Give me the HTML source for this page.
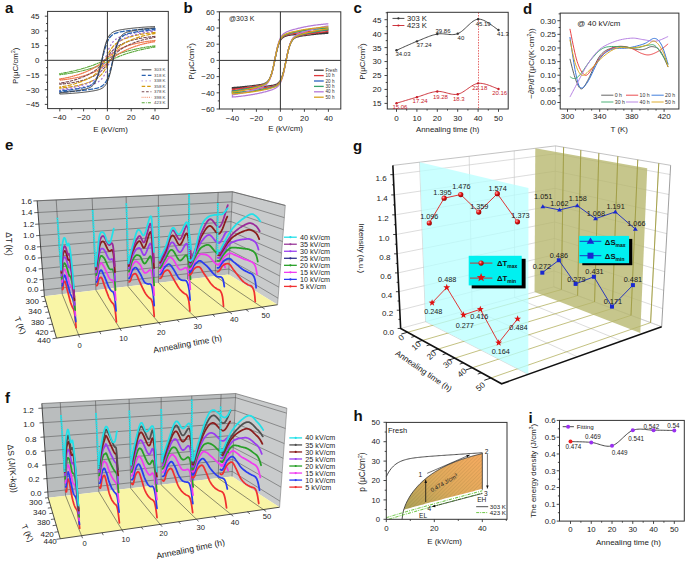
<!DOCTYPE html>
<html><head><meta charset="utf-8"><title>figure</title>
<style>html,body{margin:0;padding:0;background:#fff;width:685px;height:561px;overflow:hidden}
svg{display:block;font-family:"Liberation Sans", sans-serif}</style></head>
<body><svg width="685" height="561" viewBox="0 0 685 561">
<rect width="685" height="561" fill="#fff"/>
<text x="5" y="13" font-size="15" text-anchor="start" fill="#111" font-weight="bold">a</text>
<clipPath id="clipa"><rect x="47.6" y="11.4" width="120.70000000000002" height="97.19999999999999"/></clipPath>
<g clip-path="url(#clipa)">
<path d="M155 45.86 L154.21 45.96 L153.41 46.06 L152.62 46.16 L151.83 46.27 L151.03 46.37 L150.24 46.48 L149.45 46.6 L148.65 46.71 L147.86 46.83 L147.07 46.96 L146.27 47.08 L145.48 47.21 L144.69 47.34 L143.89 47.48 L143.1 47.62 L142.31 47.76 L141.51 47.9 L140.72 48.05 L139.93 48.2 L139.13 48.36 L138.34 48.52 L137.55 48.68 L136.75 48.85 L135.96 49.02 L135.17 49.19 L134.37 49.37 L133.58 49.55 L132.79 49.74 L131.99 49.93 L131.2 50.13 L130.41 50.33 L129.61 50.53 L128.82 50.74 L128.03 50.95 L127.23 51.17 L126.44 51.39 L125.65 51.62 L124.85 51.86 L124.06 52.1 L123.27 52.35 L122.47 52.6 L121.68 52.86 L120.89 53.13 L120.09 53.4 L119.3 53.68 L118.51 53.97 L117.71 54.27 L116.92 54.58 L116.13 54.89 L115.33 55.22 L114.54 55.55 L113.75 55.89 L112.95 56.24 L112.16 56.6 L111.37 56.96 L110.57 57.34 L109.78 57.71 L108.99 58.1 L108.19 58.48 L107.4 58.87 L106.61 59.26 L105.81 59.65 L105.02 60.04 L104.23 60.43 L103.43 60.81 L102.64 61.19 L101.85 61.56 L101.05 61.93 L100.26 62.29 L99.47 62.64 L98.67 62.99 L97.88 63.32 L97.09 63.65 L96.29 63.98 L95.5 64.29 L94.71 64.6 L93.91 64.9 L93.12 65.2 L92.33 65.49 L91.53 65.77 L90.74 66.05 L89.95 66.32 L89.15 66.58 L88.36 66.84 L87.57 67.1 L86.77 67.35 L85.98 67.6 L85.19 67.84 L84.39 68.08 L83.6 68.31 L82.81 68.54 L82.01 68.76 L81.22 68.99 L80.43 69.2 L79.63 69.42 L78.84 69.63 L78.05 69.83 L77.25 70.03 L76.46 70.23 L75.67 70.43 L74.87 70.62 L74.08 70.8 L73.29 70.99 L72.49 71.17 L71.7 71.34 L70.91 71.52 L70.11 71.69 L69.32 71.85 L68.53 72.02 L67.73 72.17 L66.94 72.33 L66.15 72.48 L65.35 72.63 L64.56 72.78 L63.77 72.92 L62.97 73.06 L62.18 73.2 L61.39 73.33 L60.59 73.46 L59.8 73.58 L59.8 74.74 L60.59 74.64 L61.39 74.54 L62.18 74.44 L62.97 74.33 L63.77 74.23 L64.56 74.12 L65.35 74 L66.15 73.89 L66.94 73.77 L67.73 73.64 L68.53 73.52 L69.32 73.39 L70.11 73.26 L70.91 73.12 L71.7 72.98 L72.49 72.84 L73.29 72.7 L74.08 72.55 L74.87 72.4 L75.67 72.24 L76.46 72.08 L77.25 71.92 L78.05 71.75 L78.84 71.58 L79.63 71.41 L80.43 71.23 L81.22 71.05 L82.01 70.86 L82.81 70.67 L83.6 70.47 L84.39 70.27 L85.19 70.07 L85.98 69.86 L86.77 69.65 L87.57 69.43 L88.36 69.21 L89.15 68.98 L89.95 68.74 L90.74 68.5 L91.53 68.25 L92.33 68 L93.12 67.74 L93.91 67.47 L94.71 67.2 L95.5 66.92 L96.29 66.63 L97.09 66.33 L97.88 66.02 L98.67 65.71 L99.47 65.38 L100.26 65.05 L101.05 64.71 L101.85 64.36 L102.64 64 L103.43 63.64 L104.23 63.26 L105.02 62.89 L105.81 62.5 L106.61 62.12 L107.4 61.73 L108.19 61.34 L108.99 60.95 L109.78 60.56 L110.57 60.17 L111.37 59.79 L112.16 59.41 L112.95 59.04 L113.75 58.67 L114.54 58.31 L115.33 57.96 L116.13 57.61 L116.92 57.28 L117.71 56.95 L118.51 56.62 L119.3 56.31 L120.09 56 L120.89 55.7 L121.68 55.4 L122.47 55.11 L123.27 54.83 L124.06 54.55 L124.85 54.28 L125.65 54.02 L126.44 53.76 L127.23 53.5 L128.03 53.25 L128.82 53 L129.61 52.76 L130.41 52.52 L131.2 52.29 L131.99 52.06 L132.79 51.84 L133.58 51.61 L134.37 51.4 L135.17 51.18 L135.96 50.97 L136.75 50.77 L137.55 50.57 L138.34 50.37 L139.13 50.17 L139.93 49.98 L140.72 49.8 L141.51 49.61 L142.31 49.43 L143.1 49.26 L143.89 49.08 L144.69 48.91 L145.48 48.75 L146.27 48.58 L147.07 48.43 L147.86 48.27 L148.65 48.12 L149.45 47.97 L150.24 47.82 L151.03 47.68 L151.83 47.54 L152.62 47.4 L153.41 47.27 L154.21 47.14 L155 47.02" fill="none" stroke="#58a838" stroke-width="1.1" stroke-dasharray="3,1.2,0.8,1.2" stroke-linecap="round"/>
<path d="M155 40.52 L154.21 40.6 L153.41 40.68 L152.62 40.76 L151.83 40.85 L151.03 40.94 L150.24 41.03 L149.45 41.13 L148.65 41.23 L147.86 41.34 L147.07 41.45 L146.27 41.56 L145.48 41.68 L144.69 41.8 L143.89 41.93 L143.1 42.06 L142.31 42.19 L141.51 42.34 L140.72 42.48 L139.93 42.63 L139.13 42.79 L138.34 42.96 L137.55 43.13 L136.75 43.3 L135.96 43.48 L135.17 43.67 L134.37 43.86 L133.58 44.07 L132.79 44.27 L131.99 44.49 L131.2 44.71 L130.41 44.94 L129.61 45.18 L128.82 45.43 L128.03 45.69 L127.23 45.95 L126.44 46.22 L125.65 46.51 L124.85 46.8 L124.06 47.11 L123.27 47.43 L122.47 47.76 L121.68 48.1 L120.89 48.46 L120.09 48.84 L119.3 49.23 L118.51 49.64 L117.71 50.06 L116.92 50.51 L116.13 50.99 L115.33 51.48 L114.54 52 L113.75 52.54 L112.95 53.11 L112.16 53.71 L111.37 54.33 L110.57 54.97 L109.78 55.63 L108.99 56.31 L108.19 57.01 L107.4 57.72 L106.61 58.43 L105.81 59.14 L105.02 59.85 L104.23 60.55 L103.43 61.24 L102.64 61.91 L101.85 62.57 L101.05 63.2 L100.26 63.81 L99.47 64.4 L98.67 64.97 L97.88 65.52 L97.09 66.04 L96.29 66.55 L95.5 67.03 L94.71 67.5 L93.91 67.96 L93.12 68.4 L92.33 68.82 L91.53 69.23 L90.74 69.63 L89.95 70.02 L89.15 70.4 L88.36 70.76 L87.57 71.12 L86.77 71.47 L85.98 71.8 L85.19 72.13 L84.39 72.46 L83.6 72.77 L82.81 73.07 L82.01 73.37 L81.22 73.66 L80.43 73.94 L79.63 74.21 L78.84 74.48 L78.05 74.74 L77.25 74.99 L76.46 75.23 L75.67 75.47 L74.87 75.7 L74.08 75.93 L73.29 76.14 L72.49 76.35 L71.7 76.56 L70.91 76.76 L70.11 76.95 L69.32 77.13 L68.53 77.31 L67.73 77.48 L66.94 77.65 L66.15 77.81 L65.35 77.97 L64.56 78.12 L63.77 78.27 L62.97 78.41 L62.18 78.55 L61.39 78.68 L60.59 78.8 L59.8 78.93 L59.8 80.08 L60.59 80 L61.39 79.92 L62.18 79.84 L62.97 79.75 L63.77 79.66 L64.56 79.57 L65.35 79.47 L66.15 79.37 L66.94 79.26 L67.73 79.15 L68.53 79.04 L69.32 78.92 L70.11 78.8 L70.91 78.67 L71.7 78.54 L72.49 78.41 L73.29 78.26 L74.08 78.12 L74.87 77.97 L75.67 77.81 L76.46 77.64 L77.25 77.47 L78.05 77.3 L78.84 77.12 L79.63 76.93 L80.43 76.74 L81.22 76.53 L82.01 76.33 L82.81 76.11 L83.6 75.89 L84.39 75.66 L85.19 75.42 L85.98 75.17 L86.77 74.91 L87.57 74.65 L88.36 74.38 L89.15 74.09 L89.95 73.8 L90.74 73.49 L91.53 73.17 L92.33 72.84 L93.12 72.5 L93.91 72.14 L94.71 71.76 L95.5 71.37 L96.29 70.96 L97.09 70.54 L97.88 70.09 L98.67 69.61 L99.47 69.12 L100.26 68.6 L101.05 68.06 L101.85 67.49 L102.64 66.89 L103.43 66.27 L104.23 65.63 L105.02 64.97 L105.81 64.29 L106.61 63.59 L107.4 62.88 L108.19 62.17 L108.99 61.46 L109.78 60.75 L110.57 60.05 L111.37 59.36 L112.16 58.69 L112.95 58.03 L113.75 57.4 L114.54 56.79 L115.33 56.2 L116.13 55.63 L116.92 55.08 L117.71 54.56 L118.51 54.05 L119.3 53.57 L120.09 53.1 L120.89 52.64 L121.68 52.2 L122.47 51.78 L123.27 51.37 L124.06 50.97 L124.85 50.58 L125.65 50.2 L126.44 49.84 L127.23 49.48 L128.03 49.13 L128.82 48.8 L129.61 48.47 L130.41 48.14 L131.2 47.83 L131.99 47.53 L132.79 47.23 L133.58 46.94 L134.37 46.66 L135.17 46.39 L135.96 46.12 L136.75 45.86 L137.55 45.61 L138.34 45.37 L139.13 45.13 L139.93 44.9 L140.72 44.67 L141.51 44.46 L142.31 44.25 L143.1 44.04 L143.89 43.84 L144.69 43.65 L145.48 43.47 L146.27 43.29 L147.07 43.12 L147.86 42.95 L148.65 42.79 L149.45 42.63 L150.24 42.48 L151.03 42.33 L151.83 42.19 L152.62 42.05 L153.41 41.92 L154.21 41.8 L155 41.67" fill="none" stroke="#f07a50" stroke-width="1.3" stroke-dasharray="0.7,1.2" stroke-linecap="round"/>
<path d="M155 36.36 L154.21 36.43 L153.41 36.51 L152.62 36.59 L151.83 36.67 L151.03 36.75 L150.24 36.84 L149.45 36.94 L148.65 37.03 L147.86 37.13 L147.07 37.24 L146.27 37.35 L145.48 37.47 L144.69 37.58 L143.89 37.71 L143.1 37.84 L142.31 37.97 L141.51 38.12 L140.72 38.26 L139.93 38.41 L139.13 38.57 L138.34 38.74 L137.55 38.91 L136.75 39.09 L135.96 39.27 L135.17 39.46 L134.37 39.66 L133.58 39.87 L132.79 40.08 L131.99 40.31 L131.2 40.54 L130.41 40.78 L129.61 41.03 L128.82 41.29 L128.03 41.56 L127.23 41.84 L126.44 42.13 L125.65 42.44 L124.85 42.75 L124.06 43.08 L123.27 43.43 L122.47 43.79 L121.68 44.17 L120.89 44.57 L120.09 44.99 L119.3 45.43 L118.51 45.91 L117.71 46.41 L116.92 46.94 L116.13 47.51 L115.33 48.12 L114.54 48.78 L113.75 49.48 L112.95 50.23 L112.16 51.04 L111.37 51.89 L110.57 52.8 L109.78 53.76 L108.99 54.77 L108.19 55.81 L107.4 56.88 L106.61 57.96 L105.81 59.05 L105.02 60.14 L104.23 61.2 L103.43 62.24 L102.64 63.23 L101.85 64.19 L101.05 65.1 L100.26 65.96 L99.47 66.77 L98.67 67.53 L97.88 68.25 L97.09 68.92 L96.29 69.56 L95.5 70.17 L94.71 70.74 L93.91 71.28 L93.12 71.8 L92.33 72.3 L91.53 72.77 L90.74 73.23 L89.95 73.67 L89.15 74.1 L88.36 74.51 L87.57 74.91 L86.77 75.29 L85.98 75.66 L85.19 76.03 L84.39 76.38 L83.6 76.72 L82.81 77.05 L82.01 77.37 L81.22 77.68 L80.43 77.98 L79.63 78.28 L78.84 78.56 L78.05 78.84 L77.25 79.11 L76.46 79.36 L75.67 79.61 L74.87 79.86 L74.08 80.09 L73.29 80.32 L72.49 80.54 L71.7 80.75 L70.91 80.95 L70.11 81.15 L69.32 81.34 L68.53 81.52 L67.73 81.7 L66.94 81.87 L66.15 82.03 L65.35 82.19 L64.56 82.34 L63.77 82.49 L62.97 82.63 L62.18 82.76 L61.39 82.89 L60.59 83.02 L59.8 83.14 L59.8 84.24 L60.59 84.17 L61.39 84.09 L62.18 84.01 L62.97 83.93 L63.77 83.85 L64.56 83.76 L65.35 83.66 L66.15 83.57 L66.94 83.47 L67.73 83.36 L68.53 83.25 L69.32 83.13 L70.11 83.02 L70.91 82.89 L71.7 82.76 L72.49 82.63 L73.29 82.48 L74.08 82.34 L74.87 82.19 L75.67 82.03 L76.46 81.86 L77.25 81.69 L78.05 81.51 L78.84 81.33 L79.63 81.14 L80.43 80.94 L81.22 80.73 L82.01 80.52 L82.81 80.29 L83.6 80.06 L84.39 79.82 L85.19 79.57 L85.98 79.31 L86.77 79.04 L87.57 78.76 L88.36 78.47 L89.15 78.16 L89.95 77.85 L90.74 77.52 L91.53 77.17 L92.33 76.81 L93.12 76.43 L93.91 76.03 L94.71 75.61 L95.5 75.17 L96.29 74.69 L97.09 74.19 L97.88 73.66 L98.67 73.09 L99.47 72.48 L100.26 71.82 L101.05 71.12 L101.85 70.37 L102.64 69.56 L103.43 68.71 L104.23 67.8 L105.02 66.84 L105.81 65.83 L106.61 64.79 L107.4 63.72 L108.19 62.64 L108.99 61.55 L109.78 60.46 L110.57 59.4 L111.37 58.36 L112.16 57.37 L112.95 56.41 L113.75 55.5 L114.54 54.64 L115.33 53.83 L116.13 53.07 L116.92 52.35 L117.71 51.68 L118.51 51.04 L119.3 50.43 L120.09 49.86 L120.89 49.32 L121.68 48.8 L122.47 48.3 L123.27 47.83 L124.06 47.37 L124.85 46.93 L125.65 46.5 L126.44 46.09 L127.23 45.69 L128.03 45.31 L128.82 44.94 L129.61 44.57 L130.41 44.22 L131.2 43.88 L131.99 43.55 L132.79 43.23 L133.58 42.92 L134.37 42.62 L135.17 42.32 L135.96 42.04 L136.75 41.76 L137.55 41.49 L138.34 41.24 L139.13 40.99 L139.93 40.74 L140.72 40.51 L141.51 40.28 L142.31 40.06 L143.1 39.85 L143.89 39.65 L144.69 39.45 L145.48 39.26 L146.27 39.08 L147.07 38.9 L147.86 38.73 L148.65 38.57 L149.45 38.41 L150.24 38.26 L151.03 38.11 L151.83 37.97 L152.62 37.84 L153.41 37.71 L154.21 37.58 L155 37.46" fill="none" stroke="#7a4a50" stroke-width="1.1" stroke-dasharray="2.6,1.8" stroke-linecap="round"/>
<path d="M155 32.44 L154.21 32.51 L153.41 32.59 L152.62 32.67 L151.83 32.75 L151.03 32.83 L150.24 32.92 L149.45 33.02 L148.65 33.11 L147.86 33.21 L147.07 33.32 L146.27 33.43 L145.48 33.54 L144.69 33.66 L143.89 33.79 L143.1 33.92 L142.31 34.05 L141.51 34.19 L140.72 34.34 L139.93 34.49 L139.13 34.65 L138.34 34.81 L137.55 34.98 L136.75 35.16 L135.96 35.34 L135.17 35.53 L134.37 35.73 L133.58 35.94 L132.79 36.15 L131.99 36.37 L131.2 36.6 L130.41 36.84 L129.61 37.09 L128.82 37.34 L128.03 37.61 L127.23 37.88 L126.44 38.17 L125.65 38.47 L124.85 38.78 L124.06 39.1 L123.27 39.44 L122.47 39.79 L121.68 40.17 L120.89 40.56 L120.09 40.98 L119.3 41.42 L118.51 41.89 L117.71 42.4 L116.92 42.95 L116.13 43.55 L115.33 44.21 L114.54 44.93 L113.75 45.73 L112.95 46.61 L112.16 47.58 L111.37 48.65 L110.57 49.83 L109.78 51.11 L108.99 52.5 L108.19 53.98 L107.4 55.53 L106.61 57.14 L105.81 58.77 L105.02 60.4 L104.23 62 L103.43 63.54 L102.64 64.99 L101.85 66.36 L101.05 67.62 L100.26 68.79 L99.47 69.85 L98.67 70.82 L97.88 71.7 L97.09 72.5 L96.29 73.24 L95.5 73.92 L94.71 74.55 L93.91 75.14 L93.12 75.69 L92.33 76.2 L91.53 76.7 L90.74 77.16 L89.95 77.61 L89.15 78.04 L88.36 78.45 L87.57 78.85 L86.77 79.23 L85.98 79.61 L85.19 79.97 L84.39 80.32 L83.6 80.65 L82.81 80.98 L82.01 81.3 L81.22 81.61 L80.43 81.91 L79.63 82.21 L78.84 82.49 L78.05 82.76 L77.25 83.03 L76.46 83.29 L75.67 83.54 L74.87 83.78 L74.08 84.01 L73.29 84.24 L72.49 84.46 L71.7 84.67 L70.91 84.87 L70.11 85.07 L69.32 85.26 L68.53 85.44 L67.73 85.62 L66.94 85.79 L66.15 85.95 L65.35 86.11 L64.56 86.26 L63.77 86.41 L62.97 86.55 L62.18 86.68 L61.39 86.81 L60.59 86.94 L59.8 87.06 L59.8 88.16 L60.59 88.09 L61.39 88.01 L62.18 87.93 L62.97 87.85 L63.77 87.77 L64.56 87.68 L65.35 87.58 L66.15 87.49 L66.94 87.39 L67.73 87.28 L68.53 87.17 L69.32 87.06 L70.11 86.94 L70.91 86.81 L71.7 86.68 L72.49 86.55 L73.29 86.41 L74.08 86.26 L74.87 86.11 L75.67 85.95 L76.46 85.79 L77.25 85.62 L78.05 85.44 L78.84 85.26 L79.63 85.07 L80.43 84.87 L81.22 84.66 L82.01 84.45 L82.81 84.23 L83.6 84 L84.39 83.76 L85.19 83.51 L85.98 83.26 L86.77 82.99 L87.57 82.72 L88.36 82.43 L89.15 82.13 L89.95 81.82 L90.74 81.5 L91.53 81.16 L92.33 80.81 L93.12 80.43 L93.91 80.04 L94.71 79.62 L95.5 79.18 L96.29 78.71 L97.09 78.2 L97.88 77.65 L98.67 77.05 L99.47 76.39 L100.26 75.67 L101.05 74.87 L101.85 73.99 L102.64 73.02 L103.43 71.95 L104.23 70.77 L105.02 69.49 L105.81 68.1 L106.61 66.62 L107.4 65.07 L108.19 63.46 L108.99 61.83 L109.78 60.2 L110.57 58.6 L111.37 57.06 L112.16 55.61 L112.95 54.24 L113.75 52.98 L114.54 51.81 L115.33 50.75 L116.13 49.78 L116.92 48.9 L117.71 48.1 L118.51 47.36 L119.3 46.68 L120.09 46.05 L120.89 45.46 L121.68 44.91 L122.47 44.4 L123.27 43.9 L124.06 43.44 L124.85 42.99 L125.65 42.56 L126.44 42.15 L127.23 41.75 L128.03 41.37 L128.82 40.99 L129.61 40.63 L130.41 40.28 L131.2 39.95 L131.99 39.62 L132.79 39.3 L133.58 38.99 L134.37 38.69 L135.17 38.39 L135.96 38.11 L136.75 37.84 L137.55 37.57 L138.34 37.31 L139.13 37.06 L139.93 36.82 L140.72 36.59 L141.51 36.36 L142.31 36.14 L143.1 35.93 L143.89 35.73 L144.69 35.53 L145.48 35.34 L146.27 35.16 L147.07 34.98 L147.86 34.81 L148.65 34.65 L149.45 34.49 L150.24 34.34 L151.03 34.19 L151.83 34.05 L152.62 33.92 L153.41 33.79 L154.21 33.66 L155 33.54" fill="none" stroke="#d49a10" stroke-width="1.2" stroke-dasharray="3.5,2.0" stroke-linecap="round"/>
<path d="M155 30.37 L154.21 30.43 L153.41 30.5 L152.62 30.56 L151.83 30.63 L151.03 30.7 L150.24 30.78 L149.45 30.86 L148.65 30.94 L147.86 31.02 L147.07 31.11 L146.27 31.2 L145.48 31.29 L144.69 31.39 L143.89 31.49 L143.1 31.6 L142.31 31.71 L141.51 31.82 L140.72 31.93 L139.93 32.06 L139.13 32.18 L138.34 32.31 L137.55 32.44 L136.75 32.58 L135.96 32.73 L135.17 32.87 L134.37 33.03 L133.58 33.18 L132.79 33.35 L131.99 33.52 L131.2 33.69 L130.41 33.87 L129.61 34.06 L128.82 34.25 L128.03 34.45 L127.23 34.65 L126.44 34.87 L125.65 35.09 L124.85 35.32 L124.06 35.56 L123.27 35.81 L122.47 36.08 L121.68 36.36 L120.89 36.65 L120.09 36.97 L119.3 37.32 L118.51 37.69 L117.71 38.1 L116.92 38.55 L116.13 39.06 L115.33 39.63 L114.54 40.28 L113.75 41.03 L112.95 41.88 L112.16 42.88 L111.37 44.02 L110.57 45.34 L109.78 46.85 L108.99 48.56 L108.19 50.47 L107.4 52.56 L106.61 54.81 L105.81 57.18 L105.02 59.61 L104.23 62.05 L103.43 64.42 L102.64 66.67 L101.85 68.77 L101.05 70.69 L100.26 72.4 L99.47 73.92 L98.67 75.25 L97.88 76.41 L97.09 77.41 L96.29 78.28 L95.5 79.04 L94.71 79.71 L93.91 80.3 L93.12 80.82 L92.33 81.29 L91.53 81.72 L90.74 82.11 L89.95 82.47 L89.15 82.81 L88.36 83.13 L87.57 83.43 L86.77 83.72 L85.98 83.99 L85.19 84.26 L84.39 84.51 L83.6 84.76 L82.81 84.99 L82.01 85.22 L81.22 85.45 L80.43 85.66 L79.63 85.87 L78.84 86.07 L78.05 86.27 L77.25 86.46 L76.46 86.65 L75.67 86.83 L74.87 87 L74.08 87.17 L73.29 87.34 L72.49 87.5 L71.7 87.65 L70.91 87.8 L70.11 87.95 L69.32 88.09 L68.53 88.23 L67.73 88.36 L66.94 88.48 L66.15 88.61 L65.35 88.72 L64.56 88.84 L63.77 88.95 L62.97 89.06 L62.18 89.16 L61.39 89.26 L60.59 89.35 L59.8 89.45 L59.8 90.23 L60.59 90.17 L61.39 90.1 L62.18 90.04 L62.97 89.97 L63.77 89.9 L64.56 89.82 L65.35 89.74 L66.15 89.66 L66.94 89.58 L67.73 89.49 L68.53 89.4 L69.32 89.31 L70.11 89.21 L70.91 89.11 L71.7 89 L72.49 88.89 L73.29 88.78 L74.08 88.67 L74.87 88.54 L75.67 88.42 L76.46 88.29 L77.25 88.16 L78.05 88.02 L78.84 87.87 L79.63 87.73 L80.43 87.57 L81.22 87.42 L82.01 87.25 L82.81 87.08 L83.6 86.91 L84.39 86.73 L85.19 86.54 L85.98 86.35 L86.77 86.15 L87.57 85.95 L88.36 85.73 L89.15 85.51 L89.95 85.28 L90.74 85.04 L91.53 84.79 L92.33 84.52 L93.12 84.24 L93.91 83.95 L94.71 83.63 L95.5 83.28 L96.29 82.91 L97.09 82.5 L97.88 82.05 L98.67 81.54 L99.47 80.97 L100.26 80.32 L101.05 79.57 L101.85 78.72 L102.64 77.72 L103.43 76.58 L104.23 75.26 L105.02 73.75 L105.81 72.04 L106.61 70.13 L107.4 68.04 L108.19 65.79 L108.99 63.42 L109.78 60.99 L110.57 58.55 L111.37 56.18 L112.16 53.93 L112.95 51.83 L113.75 49.91 L114.54 48.2 L115.33 46.68 L116.13 45.35 L116.92 44.19 L117.71 43.19 L118.51 42.32 L119.3 41.56 L120.09 40.89 L120.89 40.3 L121.68 39.78 L122.47 39.31 L123.27 38.88 L124.06 38.49 L124.85 38.13 L125.65 37.79 L126.44 37.47 L127.23 37.17 L128.03 36.88 L128.82 36.61 L129.61 36.34 L130.41 36.09 L131.2 35.84 L131.99 35.61 L132.79 35.38 L133.58 35.15 L134.37 34.94 L135.17 34.73 L135.96 34.53 L136.75 34.33 L137.55 34.14 L138.34 33.95 L139.13 33.77 L139.93 33.6 L140.72 33.43 L141.51 33.26 L142.31 33.1 L143.1 32.95 L143.89 32.8 L144.69 32.65 L145.48 32.51 L146.27 32.37 L147.07 32.24 L147.86 32.12 L148.65 31.99 L149.45 31.88 L150.24 31.76 L151.03 31.65 L151.83 31.54 L152.62 31.44 L153.41 31.34 L154.21 31.25 L155 31.15" fill="none" stroke="#9d6fd0" stroke-width="1.3" stroke-dasharray="0.8,3.2" stroke-linecap="round"/>
<path d="M155 28.46 L154.21 28.49 L153.41 28.53 L152.62 28.57 L151.83 28.61 L151.03 28.66 L150.24 28.7 L149.45 28.75 L148.65 28.79 L147.86 28.84 L147.07 28.89 L146.27 28.94 L145.48 29 L144.69 29.05 L143.89 29.11 L143.1 29.17 L142.31 29.23 L141.51 29.29 L140.72 29.36 L139.93 29.42 L139.13 29.49 L138.34 29.56 L137.55 29.63 L136.75 29.71 L135.96 29.79 L135.17 29.87 L134.37 29.95 L133.58 30.03 L132.79 30.12 L131.99 30.21 L131.2 30.3 L130.41 30.39 L129.61 30.49 L128.82 30.59 L128.03 30.69 L127.23 30.8 L126.44 30.91 L125.65 31.02 L124.85 31.14 L124.06 31.26 L123.27 31.39 L122.47 31.52 L121.68 31.66 L120.89 31.81 L120.09 31.97 L119.3 32.14 L118.51 32.33 L117.71 32.53 L116.92 32.76 L116.13 33.01 L115.33 33.31 L114.54 33.64 L113.75 34.04 L112.95 34.5 L112.16 35.06 L111.37 35.72 L110.57 36.53 L109.78 37.5 L108.99 38.66 L108.19 40.06 L107.4 41.73 L106.61 43.68 L105.81 45.95 L105.02 48.52 L104.23 51.37 L103.43 54.45 L102.64 57.69 L101.85 60.98 L101.05 64.24 L100.26 67.36 L99.47 70.27 L98.67 72.9 L97.88 75.23 L97.09 77.25 L96.29 78.98 L95.5 80.44 L94.71 81.66 L93.91 82.67 L93.12 83.52 L92.33 84.22 L91.53 84.81 L90.74 85.3 L89.95 85.72 L89.15 86.08 L88.36 86.4 L87.57 86.67 L86.77 86.92 L85.98 87.14 L85.19 87.35 L84.39 87.54 L83.6 87.72 L82.81 87.89 L82.01 88.04 L81.22 88.2 L80.43 88.34 L79.63 88.49 L78.84 88.62 L78.05 88.76 L77.25 88.89 L76.46 89.01 L75.67 89.13 L74.87 89.25 L74.08 89.37 L73.29 89.49 L72.49 89.6 L71.7 89.71 L70.91 89.81 L70.11 89.91 L69.32 90.02 L68.53 90.11 L67.73 90.21 L66.94 90.3 L66.15 90.39 L65.35 90.48 L64.56 90.57 L63.77 90.65 L62.97 90.73 L62.18 90.81 L61.39 90.89 L60.59 90.97 L59.8 91.04 L59.8 92.14 L60.59 92.11 L61.39 92.07 L62.18 92.03 L62.97 91.99 L63.77 91.94 L64.56 91.9 L65.35 91.85 L66.15 91.81 L66.94 91.76 L67.73 91.71 L68.53 91.66 L69.32 91.6 L70.11 91.55 L70.91 91.49 L71.7 91.43 L72.49 91.37 L73.29 91.31 L74.08 91.24 L74.87 91.18 L75.67 91.11 L76.46 91.04 L77.25 90.97 L78.05 90.89 L78.84 90.81 L79.63 90.73 L80.43 90.65 L81.22 90.57 L82.01 90.48 L82.81 90.39 L83.6 90.3 L84.39 90.21 L85.19 90.11 L85.98 90.01 L86.77 89.91 L87.57 89.8 L88.36 89.69 L89.15 89.58 L89.95 89.46 L90.74 89.34 L91.53 89.21 L92.33 89.08 L93.12 88.94 L93.91 88.79 L94.71 88.63 L95.5 88.46 L96.29 88.27 L97.09 88.07 L97.88 87.84 L98.67 87.59 L99.47 87.29 L100.26 86.96 L101.05 86.56 L101.85 86.1 L102.64 85.54 L103.43 84.88 L104.23 84.07 L105.02 83.1 L105.81 81.94 L106.61 80.54 L107.4 78.87 L108.19 76.92 L108.99 74.65 L109.78 72.08 L110.57 69.23 L111.37 66.15 L112.16 62.91 L112.95 59.62 L113.75 56.36 L114.54 53.24 L115.33 50.33 L116.13 47.7 L116.92 45.37 L117.71 43.35 L118.51 41.62 L119.3 40.16 L120.09 38.94 L120.89 37.93 L121.68 37.08 L122.47 36.38 L123.27 35.79 L124.06 35.3 L124.85 34.88 L125.65 34.52 L126.44 34.2 L127.23 33.93 L128.03 33.68 L128.82 33.46 L129.61 33.25 L130.41 33.06 L131.2 32.88 L131.99 32.71 L132.79 32.56 L133.58 32.4 L134.37 32.26 L135.17 32.11 L135.96 31.98 L136.75 31.84 L137.55 31.71 L138.34 31.59 L139.13 31.47 L139.93 31.35 L140.72 31.23 L141.51 31.11 L142.31 31 L143.1 30.89 L143.89 30.79 L144.69 30.69 L145.48 30.58 L146.27 30.49 L147.07 30.39 L147.86 30.3 L148.65 30.21 L149.45 30.12 L150.24 30.03 L151.03 29.95 L151.83 29.87 L152.62 29.79 L153.41 29.71 L154.21 29.63 L155 29.56" fill="none" stroke="#2a62b0" stroke-width="1.3" stroke-dasharray="4,2.2" stroke-linecap="round"/>
<path d="M155 26.54 L154.21 26.58 L153.41 26.62 L152.62 26.66 L151.83 26.7 L151.03 26.74 L150.24 26.78 L149.45 26.83 L148.65 26.87 L147.86 26.92 L147.07 26.97 L146.27 27.02 L145.48 27.07 L144.69 27.13 L143.89 27.18 L143.1 27.24 L142.31 27.3 L141.51 27.36 L140.72 27.43 L139.93 27.49 L139.13 27.56 L138.34 27.63 L137.55 27.7 L136.75 27.78 L135.96 27.85 L135.17 27.93 L134.37 28.01 L133.58 28.09 L132.79 28.18 L131.99 28.26 L131.2 28.35 L130.41 28.45 L129.61 28.54 L128.82 28.64 L128.03 28.74 L127.23 28.84 L126.44 28.95 L125.65 29.06 L124.85 29.17 L124.06 29.29 L123.27 29.41 L122.47 29.54 L121.68 29.67 L120.89 29.81 L120.09 29.96 L119.3 30.11 L118.51 30.28 L117.71 30.47 L116.92 30.67 L116.13 30.9 L115.33 31.15 L114.54 31.45 L113.75 31.8 L112.95 32.21 L112.16 32.7 L111.37 33.3 L110.57 34.03 L109.78 34.92 L108.99 36.01 L108.19 37.34 L107.4 38.96 L106.61 40.91 L105.81 43.21 L105.02 45.89 L104.23 48.93 L103.43 52.3 L102.64 55.89 L101.85 59.62 L101.05 63.35 L100.26 66.94 L99.47 70.3 L98.67 73.34 L97.88 76.02 L97.09 78.32 L96.29 80.27 L95.5 81.89 L94.71 83.23 L93.91 84.32 L93.12 85.22 L92.33 85.96 L91.53 86.56 L90.74 87.07 L89.95 87.49 L89.15 87.85 L88.36 88.16 L87.57 88.44 L86.77 88.68 L85.98 88.9 L85.19 89.1 L84.39 89.29 L83.6 89.47 L82.81 89.63 L82.01 89.79 L81.22 89.94 L80.43 90.09 L79.63 90.23 L78.84 90.37 L78.05 90.5 L77.25 90.63 L76.46 90.76 L75.67 90.89 L74.87 91.01 L74.08 91.13 L73.29 91.24 L72.49 91.36 L71.7 91.47 L70.91 91.58 L70.11 91.68 L69.32 91.79 L68.53 91.89 L67.73 91.98 L66.94 92.08 L66.15 92.17 L65.35 92.27 L64.56 92.35 L63.77 92.44 L62.97 92.53 L62.18 92.61 L61.39 92.69 L60.59 92.76 L59.8 92.84 L59.8 94.06 L60.59 94.02 L61.39 93.98 L62.18 93.94 L62.97 93.9 L63.77 93.86 L64.56 93.82 L65.35 93.77 L66.15 93.73 L66.94 93.68 L67.73 93.63 L68.53 93.58 L69.32 93.53 L70.11 93.47 L70.91 93.42 L71.7 93.36 L72.49 93.3 L73.29 93.24 L74.08 93.17 L74.87 93.11 L75.67 93.04 L76.46 92.97 L77.25 92.9 L78.05 92.82 L78.84 92.75 L79.63 92.67 L80.43 92.59 L81.22 92.51 L82.01 92.42 L82.81 92.34 L83.6 92.25 L84.39 92.15 L85.19 92.06 L85.98 91.96 L86.77 91.86 L87.57 91.76 L88.36 91.65 L89.15 91.54 L89.95 91.43 L90.74 91.31 L91.53 91.19 L92.33 91.06 L93.12 90.93 L93.91 90.79 L94.71 90.64 L95.5 90.49 L96.29 90.32 L97.09 90.13 L97.88 89.93 L98.67 89.7 L99.47 89.45 L100.26 89.15 L101.05 88.8 L101.85 88.39 L102.64 87.9 L103.43 87.3 L104.23 86.57 L105.02 85.68 L105.81 84.59 L106.61 83.26 L107.4 81.64 L108.19 79.69 L108.99 77.39 L109.78 74.71 L110.57 71.67 L111.37 68.3 L112.16 64.71 L112.95 60.98 L113.75 57.25 L114.54 53.66 L115.33 50.3 L116.13 47.26 L116.92 44.58 L117.71 42.28 L118.51 40.33 L119.3 38.71 L120.09 37.37 L120.89 36.28 L121.68 35.38 L122.47 34.64 L123.27 34.04 L124.06 33.53 L124.85 33.11 L125.65 32.75 L126.44 32.44 L127.23 32.16 L128.03 31.92 L128.82 31.7 L129.61 31.5 L130.41 31.31 L131.2 31.13 L131.99 30.97 L132.79 30.81 L133.58 30.66 L134.37 30.51 L135.17 30.37 L135.96 30.23 L136.75 30.1 L137.55 29.97 L138.34 29.84 L139.13 29.71 L139.93 29.59 L140.72 29.47 L141.51 29.36 L142.31 29.24 L143.1 29.13 L143.89 29.02 L144.69 28.92 L145.48 28.81 L146.27 28.71 L147.07 28.62 L147.86 28.52 L148.65 28.43 L149.45 28.33 L150.24 28.25 L151.03 28.16 L151.83 28.07 L152.62 27.99 L153.41 27.91 L154.21 27.84 L155 27.76" fill="none" stroke="#404040" stroke-width="1"/>
</g>
<line x1="47.6" y1="60.3" x2="168.3" y2="60.3" stroke="#333" stroke-width="1"/>
<line x1="107.4" y1="11.4" x2="107.4" y2="108.6" stroke="#333" stroke-width="1"/>
<rect x="47.6" y="11.4" width="120.7" height="97.2" fill="none" stroke="#333" stroke-width="1"/>
<line x1="44.8" y1="16.2" x2="47.6" y2="16.2" stroke="#333" stroke-width="0.9"/>
<line x1="44.8" y1="30.9" x2="47.6" y2="30.9" stroke="#333" stroke-width="0.9"/>
<line x1="44.8" y1="45.6" x2="47.6" y2="45.6" stroke="#333" stroke-width="0.9"/>
<line x1="44.8" y1="60.3" x2="47.6" y2="60.3" stroke="#333" stroke-width="0.9"/>
<line x1="44.8" y1="75" x2="47.6" y2="75" stroke="#333" stroke-width="0.9"/>
<line x1="44.8" y1="89.7" x2="47.6" y2="89.7" stroke="#333" stroke-width="0.9"/>
<line x1="44.8" y1="104.4" x2="47.6" y2="104.4" stroke="#333" stroke-width="0.9"/>
<line x1="46" y1="23.55" x2="47.6" y2="23.55" stroke="#333" stroke-width="0.9"/>
<line x1="46" y1="38.25" x2="47.6" y2="38.25" stroke="#333" stroke-width="0.9"/>
<line x1="46" y1="52.95" x2="47.6" y2="52.95" stroke="#333" stroke-width="0.9"/>
<line x1="46" y1="67.65" x2="47.6" y2="67.65" stroke="#333" stroke-width="0.9"/>
<line x1="46" y1="82.35" x2="47.6" y2="82.35" stroke="#333" stroke-width="0.9"/>
<line x1="46" y1="97.05" x2="47.6" y2="97.05" stroke="#333" stroke-width="0.9"/>
<text x="39.5" y="19.04" font-size="7.9" text-anchor="end" fill="#222">45</text>
<text x="39.5" y="33.74" font-size="7.9" text-anchor="end" fill="#222">30</text>
<text x="39.5" y="48.44" font-size="7.9" text-anchor="end" fill="#222">15</text>
<text x="39.5" y="63.14" font-size="7.9" text-anchor="end" fill="#222">0</text>
<text x="39.5" y="77.84" font-size="7.9" text-anchor="end" fill="#222">−15</text>
<text x="39.5" y="92.54" font-size="7.9" text-anchor="end" fill="#222">−30</text>
<text x="39.5" y="107.24" font-size="7.9" text-anchor="end" fill="#222">−45</text>
<line x1="59.8" y1="108.6" x2="59.8" y2="111.4" stroke="#333" stroke-width="0.9"/>
<line x1="83.6" y1="108.6" x2="83.6" y2="111.4" stroke="#333" stroke-width="0.9"/>
<line x1="107.4" y1="108.6" x2="107.4" y2="111.4" stroke="#333" stroke-width="0.9"/>
<line x1="131.2" y1="108.6" x2="131.2" y2="111.4" stroke="#333" stroke-width="0.9"/>
<line x1="155" y1="108.6" x2="155" y2="111.4" stroke="#333" stroke-width="0.9"/>
<line x1="71.7" y1="108.6" x2="71.7" y2="110.2" stroke="#333" stroke-width="0.9"/>
<line x1="95.5" y1="108.6" x2="95.5" y2="110.2" stroke="#333" stroke-width="0.9"/>
<line x1="119.3" y1="108.6" x2="119.3" y2="110.2" stroke="#333" stroke-width="0.9"/>
<line x1="143.1" y1="108.6" x2="143.1" y2="110.2" stroke="#333" stroke-width="0.9"/>
<text x="59.8" y="120.14" font-size="7.9" text-anchor="middle" fill="#222">−40</text>
<text x="83.6" y="120.14" font-size="7.9" text-anchor="middle" fill="#222">−20</text>
<text x="107.4" y="120.14" font-size="7.9" text-anchor="middle" fill="#222">0</text>
<text x="131.2" y="120.14" font-size="7.9" text-anchor="middle" fill="#222">20</text>
<text x="155" y="120.14" font-size="7.9" text-anchor="middle" fill="#222">40</text>
<text x="110.5" y="131.64" font-size="7.9" text-anchor="middle" fill="#222">E (kV/cm)</text>
<text x="15.2" y="68.64" font-size="7.9" text-anchor="middle" fill="#222" transform="rotate(-90 15.2 65.8)">P(μC/cm<tspan baseline-shift="super" font-size="5">2</tspan>)</text>
<line x1="141.7" y1="69.8" x2="151.4" y2="69.8" stroke="#404040" stroke-width="1"/>
<text x="154" y="71.38" font-size="4.4" text-anchor="start" fill="#444">303 K</text>
<line x1="141.7" y1="75.3" x2="151.4" y2="75.3" stroke="#2a62b0" stroke-width="1.3" stroke-dasharray="4,2.2"/>
<text x="154" y="76.88" font-size="4.4" text-anchor="start" fill="#444">318 K</text>
<line x1="141.7" y1="80.8" x2="151.4" y2="80.8" stroke="#9d6fd0" stroke-width="1.3" stroke-dasharray="0.8,3.2"/>
<text x="154" y="82.38" font-size="4.4" text-anchor="start" fill="#444">338 K</text>
<line x1="141.7" y1="86.3" x2="151.4" y2="86.3" stroke="#d49a10" stroke-width="1.2" stroke-dasharray="3.5,2.0"/>
<text x="154" y="87.88" font-size="4.4" text-anchor="start" fill="#444">358 K</text>
<line x1="141.7" y1="91.8" x2="151.4" y2="91.8" stroke="#7a4a50" stroke-width="1.1" stroke-dasharray="2.6,1.8"/>
<text x="154" y="93.38" font-size="4.4" text-anchor="start" fill="#444">378 K</text>
<line x1="141.7" y1="97.3" x2="151.4" y2="97.3" stroke="#f07a50" stroke-width="1.3" stroke-dasharray="0.7,1.2"/>
<text x="154" y="98.88" font-size="4.4" text-anchor="start" fill="#444">398 K</text>
<line x1="141.7" y1="102.8" x2="151.4" y2="102.8" stroke="#58a838" stroke-width="1.1" stroke-dasharray="3,1.2,0.8,1.2"/>
<text x="154" y="104.38" font-size="4.4" text-anchor="start" fill="#444">423 K</text>
<text x="183.5" y="13.3" font-size="15" text-anchor="start" fill="#111" font-weight="bold">b</text>
<clipPath id="clipb"><rect x="219.4" y="11.8" width="121.4" height="97.2"/></clipPath>
<g clip-path="url(#clipb)">
<path d="M328.4 32.36 L327.6 32.38 L326.8 32.41 L326 32.44 L325.2 32.47 L324.4 32.5 L323.6 32.53 L322.8 32.56 L322 32.6 L321.2 32.63 L320.4 32.67 L319.6 32.7 L318.8 32.74 L318 32.78 L317.2 32.82 L316.4 32.87 L315.6 32.91 L314.8 32.95 L314 33 L313.2 33.05 L312.4 33.1 L311.6 33.15 L310.8 33.2 L310 33.25 L309.2 33.31 L308.4 33.36 L307.6 33.42 L306.8 33.48 L306 33.54 L305.2 33.61 L304.4 33.67 L303.6 33.74 L302.8 33.81 L302 33.88 L301.2 33.95 L300.4 34.02 L299.6 34.1 L298.8 34.17 L298 34.25 L297.2 34.34 L296.4 34.42 L295.6 34.51 L294.8 34.59 L294 34.69 L293.2 34.78 L292.4 34.88 L291.6 34.99 L290.8 35.1 L290 35.22 L289.2 35.35 L288.4 35.49 L287.6 35.66 L286.8 35.85 L286 36.07 L285.2 36.35 L284.4 36.69 L283.6 37.12 L282.8 37.68 L282 38.39 L281.2 39.32 L280.4 40.53 L279.6 42.08 L278.8 44.03 L278 46.45 L277.2 49.35 L276.4 52.7 L275.6 56.39 L274.8 60.26 L274 64.11 L273.2 67.75 L272.4 71.01 L271.6 73.82 L270.8 76.14 L270 78.02 L269.2 79.5 L268.4 80.65 L267.6 81.54 L266.8 82.23 L266 82.76 L265.2 83.18 L264.4 83.52 L263.6 83.79 L262.8 84.02 L262 84.22 L261.2 84.39 L260.4 84.54 L259.6 84.68 L258.8 84.81 L258 84.93 L257.2 85.05 L256.4 85.16 L255.6 85.27 L254.8 85.38 L254 85.48 L253.2 85.58 L252.4 85.68 L251.6 85.78 L250.8 85.87 L250 85.97 L249.2 86.06 L248.4 86.15 L247.6 86.23 L246.8 86.32 L246 86.4 L245.2 86.49 L244.4 86.57 L243.6 86.64 L242.8 86.72 L242 86.8 L241.2 86.87 L240.4 86.94 L239.6 87.01 L238.8 87.08 L238 87.14 L237.2 87.21 L236.4 87.27 L235.6 87.33 L234.8 87.39 L234 87.45 L233.2 87.5 L232.4 87.56 L232.4 88.44 L233.2 88.42 L234 88.39 L234.8 88.36 L235.6 88.33 L236.4 88.3 L237.2 88.27 L238 88.24 L238.8 88.2 L239.6 88.17 L240.4 88.13 L241.2 88.1 L242 88.06 L242.8 88.02 L243.6 87.98 L244.4 87.93 L245.2 87.89 L246 87.85 L246.8 87.8 L247.6 87.75 L248.4 87.7 L249.2 87.65 L250 87.6 L250.8 87.55 L251.6 87.49 L252.4 87.44 L253.2 87.38 L254 87.32 L254.8 87.26 L255.6 87.19 L256.4 87.13 L257.2 87.06 L258 86.99 L258.8 86.92 L259.6 86.85 L260.4 86.78 L261.2 86.7 L262 86.63 L262.8 86.55 L263.6 86.46 L264.4 86.38 L265.2 86.29 L266 86.21 L266.8 86.11 L267.6 86.02 L268.4 85.92 L269.2 85.81 L270 85.7 L270.8 85.58 L271.6 85.45 L272.4 85.31 L273.2 85.14 L274 84.95 L274.8 84.73 L275.6 84.45 L276.4 84.11 L277.2 83.68 L278 83.12 L278.8 82.41 L279.6 81.48 L280.4 80.27 L281.2 78.72 L282 76.77 L282.8 74.35 L283.6 71.45 L284.4 68.1 L285.2 64.41 L286 60.54 L286.8 56.69 L287.6 53.05 L288.4 49.79 L289.2 46.98 L290 44.66 L290.8 42.78 L291.6 41.3 L292.4 40.15 L293.2 39.26 L294 38.57 L294.8 38.04 L295.6 37.62 L296.4 37.28 L297.2 37.01 L298 36.78 L298.8 36.58 L299.6 36.41 L300.4 36.26 L301.2 36.12 L302 35.99 L302.8 35.87 L303.6 35.75 L304.4 35.64 L305.2 35.53 L306 35.42 L306.8 35.32 L307.6 35.22 L308.4 35.12 L309.2 35.02 L310 34.93 L310.8 34.83 L311.6 34.74 L312.4 34.65 L313.2 34.57 L314 34.48 L314.8 34.4 L315.6 34.31 L316.4 34.23 L317.2 34.16 L318 34.08 L318.8 34 L319.6 33.93 L320.4 33.86 L321.2 33.79 L322 33.72 L322.8 33.66 L323.6 33.59 L324.4 33.53 L325.2 33.47 L326 33.41 L326.8 33.35 L327.6 33.3 L328.4 33.24" fill="none" stroke="#3a3a3a" stroke-width="1.25"/>
<path d="M328.4 30.28 L327.6 30.32 L326.8 30.36 L326 30.4 L325.2 30.44 L324.4 30.48 L323.6 30.53 L322.8 30.57 L322 30.62 L321.2 30.66 L320.4 30.71 L319.6 30.77 L318.8 30.82 L318 30.87 L317.2 30.93 L316.4 30.99 L315.6 31.05 L314.8 31.11 L314 31.17 L313.2 31.24 L312.4 31.31 L311.6 31.38 L310.8 31.45 L310 31.52 L309.2 31.6 L308.4 31.68 L307.6 31.76 L306.8 31.84 L306 31.93 L305.2 32.01 L304.4 32.1 L303.6 32.2 L302.8 32.29 L302 32.39 L301.2 32.49 L300.4 32.59 L299.6 32.69 L298.8 32.8 L298 32.91 L297.2 33.02 L296.4 33.14 L295.6 33.26 L294.8 33.38 L294 33.51 L293.2 33.64 L292.4 33.77 L291.6 33.91 L290.8 34.06 L290 34.22 L289.2 34.38 L288.4 34.57 L287.6 34.77 L286.8 35 L286 35.27 L285.2 35.58 L284.4 35.97 L283.6 36.44 L282.8 37.04 L282 37.79 L281.2 38.77 L280.4 40.02 L279.6 41.61 L278.8 43.61 L278 46.07 L277.2 49.02 L276.4 52.41 L275.6 56.14 L274.8 60.06 L274 63.96 L273.2 67.64 L272.4 70.95 L271.6 73.8 L270.8 76.17 L270 78.09 L269.2 79.62 L268.4 80.81 L267.6 81.75 L266.8 82.48 L266 83.06 L265.2 83.53 L264.4 83.91 L263.6 84.22 L262.8 84.5 L262 84.74 L261.2 84.95 L260.4 85.15 L259.6 85.33 L258.8 85.5 L258 85.67 L257.2 85.83 L256.4 85.98 L255.6 86.13 L254.8 86.27 L254 86.41 L253.2 86.55 L252.4 86.69 L251.6 86.82 L250.8 86.95 L250 87.08 L249.2 87.21 L248.4 87.33 L247.6 87.45 L246.8 87.57 L246 87.69 L245.2 87.8 L244.4 87.91 L243.6 88.02 L242.8 88.13 L242 88.23 L241.2 88.33 L240.4 88.43 L239.6 88.53 L238.8 88.62 L238 88.71 L237.2 88.8 L236.4 88.89 L235.6 88.97 L234.8 89.06 L234 89.14 L233.2 89.22 L232.4 89.29 L232.4 90.52 L233.2 90.48 L234 90.44 L234.8 90.4 L235.6 90.36 L236.4 90.32 L237.2 90.27 L238 90.23 L238.8 90.18 L239.6 90.14 L240.4 90.09 L241.2 90.03 L242 89.98 L242.8 89.93 L243.6 89.87 L244.4 89.81 L245.2 89.75 L246 89.69 L246.8 89.63 L247.6 89.56 L248.4 89.49 L249.2 89.42 L250 89.35 L250.8 89.28 L251.6 89.2 L252.4 89.12 L253.2 89.04 L254 88.96 L254.8 88.87 L255.6 88.79 L256.4 88.7 L257.2 88.6 L258 88.51 L258.8 88.41 L259.6 88.31 L260.4 88.21 L261.2 88.11 L262 88 L262.8 87.89 L263.6 87.78 L264.4 87.66 L265.2 87.54 L266 87.42 L266.8 87.29 L267.6 87.16 L268.4 87.03 L269.2 86.89 L270 86.74 L270.8 86.58 L271.6 86.42 L272.4 86.23 L273.2 86.03 L274 85.8 L274.8 85.53 L275.6 85.22 L276.4 84.83 L277.2 84.36 L278 83.76 L278.8 83.01 L279.6 82.03 L280.4 80.78 L281.2 79.19 L282 77.19 L282.8 74.73 L283.6 71.78 L284.4 68.39 L285.2 64.66 L286 60.74 L286.8 56.84 L287.6 53.16 L288.4 49.85 L289.2 47 L290 44.63 L290.8 42.71 L291.6 41.18 L292.4 39.99 L293.2 39.05 L294 38.32 L294.8 37.74 L295.6 37.27 L296.4 36.89 L297.2 36.58 L298 36.3 L298.8 36.06 L299.6 35.85 L300.4 35.65 L301.2 35.47 L302 35.3 L302.8 35.13 L303.6 34.97 L304.4 34.82 L305.2 34.67 L306 34.53 L306.8 34.39 L307.6 34.25 L308.4 34.11 L309.2 33.98 L310 33.85 L310.8 33.72 L311.6 33.59 L312.4 33.47 L313.2 33.35 L314 33.23 L314.8 33.11 L315.6 33 L316.4 32.89 L317.2 32.78 L318 32.67 L318.8 32.57 L319.6 32.47 L320.4 32.37 L321.2 32.27 L322 32.18 L322.8 32.09 L323.6 32 L324.4 31.91 L325.2 31.83 L326 31.74 L326.8 31.66 L327.6 31.58 L328.4 31.51" fill="none" stroke="#e0393c" stroke-width="1.25"/>
<path d="M328.4 28.07 L327.6 28.12 L326.8 28.17 L326 28.22 L325.2 28.27 L324.4 28.32 L323.6 28.38 L322.8 28.44 L322 28.5 L321.2 28.56 L320.4 28.63 L319.6 28.69 L318.8 28.76 L318 28.83 L317.2 28.91 L316.4 28.98 L315.6 29.06 L314.8 29.14 L314 29.22 L313.2 29.31 L312.4 29.4 L311.6 29.49 L310.8 29.58 L310 29.68 L309.2 29.78 L308.4 29.88 L307.6 29.98 L306.8 30.09 L306 30.2 L305.2 30.31 L304.4 30.43 L303.6 30.55 L302.8 30.67 L302 30.8 L301.2 30.93 L300.4 31.06 L299.6 31.2 L298.8 31.34 L298 31.48 L297.2 31.62 L296.4 31.77 L295.6 31.93 L294.8 32.08 L294 32.25 L293.2 32.41 L292.4 32.59 L291.6 32.76 L290.8 32.95 L290 33.15 L289.2 33.35 L288.4 33.58 L287.6 33.82 L286.8 34.1 L286 34.4 L285.2 34.76 L284.4 35.19 L283.6 35.71 L282.8 36.35 L282 37.16 L281.2 38.17 L280.4 39.47 L279.6 41.11 L278.8 43.15 L278 45.66 L277.2 48.66 L276.4 52.1 L275.6 55.88 L274.8 59.85 L274 63.79 L273.2 67.52 L272.4 70.88 L271.6 73.78 L270.8 76.2 L270 78.17 L269.2 79.74 L268.4 80.99 L267.6 81.97 L266.8 82.75 L266 83.38 L265.2 83.89 L264.4 84.32 L263.6 84.69 L262.8 85.01 L262 85.29 L261.2 85.55 L260.4 85.8 L259.6 86.02 L258.8 86.24 L258 86.45 L257.2 86.65 L256.4 86.85 L255.6 87.04 L254.8 87.23 L254 87.41 L253.2 87.59 L252.4 87.77 L251.6 87.94 L250.8 88.11 L250 88.28 L249.2 88.44 L248.4 88.6 L247.6 88.76 L246.8 88.91 L246 89.06 L245.2 89.21 L244.4 89.35 L243.6 89.49 L242.8 89.63 L242 89.77 L241.2 89.9 L240.4 90.03 L239.6 90.15 L238.8 90.27 L238 90.39 L237.2 90.51 L236.4 90.62 L235.6 90.73 L234.8 90.84 L234 90.94 L233.2 91.04 L232.4 91.14 L232.4 92.73 L233.2 92.68 L234 92.63 L234.8 92.58 L235.6 92.53 L236.4 92.48 L237.2 92.42 L238 92.36 L238.8 92.3 L239.6 92.24 L240.4 92.17 L241.2 92.11 L242 92.04 L242.8 91.97 L243.6 91.89 L244.4 91.82 L245.2 91.74 L246 91.66 L246.8 91.58 L247.6 91.49 L248.4 91.4 L249.2 91.31 L250 91.22 L250.8 91.12 L251.6 91.02 L252.4 90.92 L253.2 90.82 L254 90.71 L254.8 90.6 L255.6 90.49 L256.4 90.37 L257.2 90.25 L258 90.13 L258.8 90 L259.6 89.87 L260.4 89.74 L261.2 89.6 L262 89.46 L262.8 89.32 L263.6 89.18 L264.4 89.03 L265.2 88.87 L266 88.72 L266.8 88.55 L267.6 88.39 L268.4 88.21 L269.2 88.04 L270 87.85 L270.8 87.65 L271.6 87.45 L272.4 87.22 L273.2 86.98 L274 86.7 L274.8 86.4 L275.6 86.04 L276.4 85.61 L277.2 85.09 L278 84.45 L278.8 83.64 L279.6 82.63 L280.4 81.33 L281.2 79.69 L282 77.65 L282.8 75.14 L283.6 72.14 L284.4 68.7 L285.2 64.92 L286 60.95 L286.8 57.01 L287.6 53.28 L288.4 49.92 L289.2 47.02 L290 44.6 L290.8 42.63 L291.6 41.06 L292.4 39.81 L293.2 38.83 L294 38.05 L294.8 37.42 L295.6 36.91 L296.4 36.48 L297.2 36.11 L298 35.79 L298.8 35.51 L299.6 35.25 L300.4 35 L301.2 34.78 L302 34.56 L302.8 34.35 L303.6 34.15 L304.4 33.95 L305.2 33.76 L306 33.57 L306.8 33.39 L307.6 33.21 L308.4 33.03 L309.2 32.86 L310 32.69 L310.8 32.52 L311.6 32.36 L312.4 32.2 L313.2 32.04 L314 31.89 L314.8 31.74 L315.6 31.59 L316.4 31.45 L317.2 31.31 L318 31.17 L318.8 31.03 L319.6 30.9 L320.4 30.77 L321.2 30.65 L322 30.53 L322.8 30.41 L323.6 30.29 L324.4 30.18 L325.2 30.07 L326 29.96 L326.8 29.86 L327.6 29.76 L328.4 29.66" fill="none" stroke="#2b62c0" stroke-width="1.25"/>
<path d="M328.4 28 L327.6 28.04 L326.8 28.09 L326 28.15 L325.2 28.2 L324.4 28.25 L323.6 28.31 L322.8 28.37 L322 28.43 L321.2 28.49 L320.4 28.56 L319.6 28.63 L318.8 28.7 L318 28.77 L317.2 28.84 L316.4 28.92 L315.6 29 L314.8 29.08 L314 29.16 L313.2 29.25 L312.4 29.33 L311.6 29.43 L310.8 29.52 L310 29.62 L309.2 29.72 L308.4 29.82 L307.6 29.92 L306.8 30.03 L306 30.14 L305.2 30.26 L304.4 30.38 L303.6 30.5 L302.8 30.62 L302 30.75 L301.2 30.88 L300.4 31.01 L299.6 31.15 L298.8 31.29 L298 31.43 L297.2 31.58 L296.4 31.73 L295.6 31.88 L294.8 32.04 L294 32.21 L293.2 32.37 L292.4 32.55 L291.6 32.73 L290.8 32.91 L290 33.11 L289.2 33.32 L288.4 33.55 L287.6 33.79 L286.8 34.07 L286 34.38 L285.2 34.74 L284.4 35.17 L283.6 35.69 L282.8 36.33 L282 37.13 L281.2 38.16 L280.4 39.45 L279.6 41.09 L278.8 43.14 L278 45.65 L277.2 48.65 L276.4 52.09 L275.6 55.87 L274.8 59.84 L274 63.79 L273.2 67.52 L272.4 70.88 L271.6 73.78 L270.8 76.2 L270 78.17 L269.2 79.75 L268.4 80.99 L267.6 81.98 L266.8 82.76 L266 83.39 L265.2 83.91 L264.4 84.34 L263.6 84.7 L262.8 85.02 L262 85.31 L261.2 85.57 L260.4 85.82 L259.6 86.05 L258.8 86.27 L258 86.48 L257.2 86.68 L256.4 86.88 L255.6 87.07 L254.8 87.26 L254 87.44 L253.2 87.62 L252.4 87.8 L251.6 87.98 L250.8 88.15 L250 88.32 L249.2 88.48 L248.4 88.64 L247.6 88.8 L246.8 88.95 L246 89.11 L245.2 89.25 L244.4 89.4 L243.6 89.54 L242.8 89.68 L242 89.82 L241.2 89.95 L240.4 90.08 L239.6 90.2 L238.8 90.33 L238 90.45 L237.2 90.56 L236.4 90.68 L235.6 90.79 L234.8 90.9 L234 91 L233.2 91.1 L232.4 91.2 L232.4 92.8 L233.2 92.76 L234 92.71 L234.8 92.65 L235.6 92.6 L236.4 92.55 L237.2 92.49 L238 92.43 L238.8 92.37 L239.6 92.31 L240.4 92.24 L241.2 92.17 L242 92.1 L242.8 92.03 L243.6 91.96 L244.4 91.88 L245.2 91.8 L246 91.72 L246.8 91.64 L247.6 91.55 L248.4 91.47 L249.2 91.37 L250 91.28 L250.8 91.18 L251.6 91.08 L252.4 90.98 L253.2 90.88 L254 90.77 L254.8 90.66 L255.6 90.54 L256.4 90.42 L257.2 90.3 L258 90.18 L258.8 90.05 L259.6 89.92 L260.4 89.79 L261.2 89.65 L262 89.51 L262.8 89.37 L263.6 89.22 L264.4 89.07 L265.2 88.92 L266 88.76 L266.8 88.59 L267.6 88.43 L268.4 88.25 L269.2 88.07 L270 87.89 L270.8 87.69 L271.6 87.48 L272.4 87.25 L273.2 87.01 L274 86.73 L274.8 86.42 L275.6 86.06 L276.4 85.63 L277.2 85.11 L278 84.47 L278.8 83.67 L279.6 82.64 L280.4 81.35 L281.2 79.71 L282 77.66 L282.8 75.15 L283.6 72.15 L284.4 68.71 L285.2 64.93 L286 60.96 L286.8 57.01 L287.6 53.28 L288.4 49.92 L289.2 47.02 L290 44.6 L290.8 42.63 L291.6 41.05 L292.4 39.81 L293.2 38.82 L294 38.04 L294.8 37.41 L295.6 36.89 L296.4 36.46 L297.2 36.1 L298 35.78 L298.8 35.49 L299.6 35.23 L300.4 34.98 L301.2 34.75 L302 34.53 L302.8 34.32 L303.6 34.12 L304.4 33.92 L305.2 33.73 L306 33.54 L306.8 33.36 L307.6 33.18 L308.4 33 L309.2 32.82 L310 32.65 L310.8 32.48 L311.6 32.32 L312.4 32.16 L313.2 32 L314 31.85 L314.8 31.69 L315.6 31.55 L316.4 31.4 L317.2 31.26 L318 31.12 L318.8 30.98 L319.6 30.85 L320.4 30.72 L321.2 30.6 L322 30.47 L322.8 30.35 L323.6 30.24 L324.4 30.12 L325.2 30.01 L326 29.9 L326.8 29.8 L327.6 29.7 L328.4 29.6" fill="none" stroke="#3aa36a" stroke-width="1.25"/>
<path d="M328.4 23.75 L327.6 23.82 L326.8 23.89 L326 23.96 L325.2 24.03 L324.4 24.1 L323.6 24.18 L322.8 24.26 L322 24.34 L321.2 24.43 L320.4 24.52 L319.6 24.61 L318.8 24.7 L318 24.8 L317.2 24.9 L316.4 25 L315.6 25.11 L314.8 25.22 L314 25.33 L313.2 25.45 L312.4 25.57 L311.6 25.69 L310.8 25.82 L310 25.95 L309.2 26.08 L308.4 26.22 L307.6 26.36 L306.8 26.51 L306 26.66 L305.2 26.82 L304.4 26.97 L303.6 27.14 L302.8 27.31 L302 27.48 L301.2 27.65 L300.4 27.83 L299.6 28.02 L298.8 28.21 L298 28.4 L297.2 28.6 L296.4 28.8 L295.6 29.01 L294.8 29.23 L294 29.44 L293.2 29.67 L292.4 29.9 L291.6 30.14 L290.8 30.39 L290 30.65 L289.2 30.92 L288.4 31.21 L287.6 31.53 L286.8 31.87 L286 32.25 L285.2 32.68 L284.4 33.19 L283.6 33.79 L282.8 34.52 L282 35.41 L281.2 36.53 L280.4 37.94 L279.6 39.7 L278.8 41.89 L278 44.56 L277.2 47.73 L276.4 51.36 L275.6 55.34 L274.8 59.52 L274 63.68 L273.2 67.61 L272.4 71.16 L271.6 74.23 L270.8 76.81 L270 78.92 L269.2 80.61 L268.4 81.97 L267.6 83.06 L266.8 83.94 L266 84.66 L265.2 85.26 L264.4 85.77 L263.6 86.22 L262.8 86.61 L262 86.98 L261.2 87.31 L260.4 87.63 L259.6 87.93 L258.8 88.22 L258 88.5 L257.2 88.77 L256.4 89.03 L255.6 89.29 L254.8 89.55 L254 89.8 L253.2 90.04 L252.4 90.28 L251.6 90.52 L250.8 90.75 L250 90.97 L249.2 91.2 L248.4 91.41 L247.6 91.63 L246.8 91.84 L246 92.04 L245.2 92.24 L244.4 92.44 L243.6 92.63 L242.8 92.82 L242 93 L241.2 93.18 L240.4 93.36 L239.6 93.53 L238.8 93.7 L238 93.86 L237.2 94.02 L236.4 94.17 L235.6 94.32 L234.8 94.47 L234 94.61 L233.2 94.75 L232.4 94.88 L232.4 97.05 L233.2 96.98 L234 96.91 L234.8 96.84 L235.6 96.77 L236.4 96.7 L237.2 96.62 L238 96.54 L238.8 96.46 L239.6 96.37 L240.4 96.28 L241.2 96.19 L242 96.1 L242.8 96 L243.6 95.9 L244.4 95.8 L245.2 95.69 L246 95.58 L246.8 95.47 L247.6 95.35 L248.4 95.23 L249.2 95.11 L250 94.98 L250.8 94.85 L251.6 94.72 L252.4 94.58 L253.2 94.44 L254 94.29 L254.8 94.14 L255.6 93.98 L256.4 93.83 L257.2 93.66 L258 93.49 L258.8 93.32 L259.6 93.15 L260.4 92.97 L261.2 92.78 L262 92.59 L262.8 92.4 L263.6 92.2 L264.4 92 L265.2 91.79 L266 91.57 L266.8 91.36 L267.6 91.13 L268.4 90.9 L269.2 90.66 L270 90.41 L270.8 90.15 L271.6 89.88 L272.4 89.59 L273.2 89.27 L274 88.93 L274.8 88.55 L275.6 88.12 L276.4 87.61 L277.2 87.01 L278 86.28 L278.8 85.39 L279.6 84.27 L280.4 82.86 L281.2 81.1 L282 78.91 L282.8 76.24 L283.6 73.07 L284.4 69.44 L285.2 65.46 L286 61.28 L286.8 57.12 L287.6 53.19 L288.4 49.64 L289.2 46.57 L290 43.99 L290.8 41.88 L291.6 40.19 L292.4 38.83 L293.2 37.74 L294 36.86 L294.8 36.14 L295.6 35.54 L296.4 35.03 L297.2 34.58 L298 34.19 L298.8 33.82 L299.6 33.49 L300.4 33.17 L301.2 32.87 L302 32.58 L302.8 32.3 L303.6 32.03 L304.4 31.77 L305.2 31.51 L306 31.25 L306.8 31 L307.6 30.76 L308.4 30.52 L309.2 30.28 L310 30.05 L310.8 29.83 L311.6 29.6 L312.4 29.39 L313.2 29.17 L314 28.96 L314.8 28.76 L315.6 28.56 L316.4 28.36 L317.2 28.17 L318 27.98 L318.8 27.8 L319.6 27.62 L320.4 27.44 L321.2 27.27 L322 27.1 L322.8 26.94 L323.6 26.78 L324.4 26.63 L325.2 26.48 L326 26.33 L326.8 26.19 L327.6 26.05 L328.4 25.92" fill="none" stroke="#b47ad8" stroke-width="1.25"/>
<path d="M328.4 26.92 L327.6 26.98 L326.8 27.03 L326 27.09 L325.2 27.15 L324.4 27.21 L323.6 27.27 L322.8 27.34 L322 27.41 L321.2 27.48 L320.4 27.55 L319.6 27.62 L318.8 27.7 L318 27.78 L317.2 27.86 L316.4 27.95 L315.6 28.03 L314.8 28.12 L314 28.22 L313.2 28.31 L312.4 28.41 L311.6 28.51 L310.8 28.62 L310 28.72 L309.2 28.83 L308.4 28.95 L307.6 29.07 L306.8 29.19 L306 29.31 L305.2 29.44 L304.4 29.57 L303.6 29.7 L302.8 29.84 L302 29.98 L301.2 30.12 L300.4 30.27 L299.6 30.42 L298.8 30.58 L298 30.74 L297.2 30.9 L296.4 31.07 L295.6 31.24 L294.8 31.42 L294 31.6 L293.2 31.78 L292.4 31.97 L291.6 32.17 L290.8 32.38 L290 32.59 L289.2 32.82 L288.4 33.07 L287.6 33.33 L286.8 33.63 L286 33.96 L285.2 34.34 L284.4 34.79 L283.6 35.33 L282.8 36 L282 36.83 L281.2 37.87 L280.4 39.19 L279.6 40.85 L278.8 42.92 L278 45.46 L277.2 48.47 L276.4 51.94 L275.6 55.74 L274.8 59.73 L274 63.7 L273.2 67.46 L272.4 70.84 L271.6 73.77 L270.8 76.22 L270 78.21 L269.2 79.81 L268.4 81.08 L267.6 82.09 L266.8 82.89 L266 83.55 L265.2 84.08 L264.4 84.54 L263.6 84.93 L262.8 85.27 L262 85.58 L261.2 85.87 L260.4 86.13 L259.6 86.38 L258.8 86.62 L258 86.85 L257.2 87.08 L256.4 87.3 L255.6 87.51 L254.8 87.72 L254 87.93 L253.2 88.13 L252.4 88.32 L251.6 88.52 L250.8 88.71 L250 88.89 L249.2 89.08 L248.4 89.25 L247.6 89.43 L246.8 89.6 L246 89.77 L245.2 89.94 L244.4 90.1 L243.6 90.25 L242.8 90.41 L242 90.56 L241.2 90.71 L240.4 90.85 L239.6 90.99 L238.8 91.13 L238 91.26 L237.2 91.39 L236.4 91.52 L235.6 91.64 L234.8 91.76 L234 91.88 L233.2 91.99 L232.4 92.1 L232.4 93.88 L233.2 93.82 L234 93.77 L234.8 93.71 L235.6 93.65 L236.4 93.59 L237.2 93.53 L238 93.46 L238.8 93.39 L239.6 93.32 L240.4 93.25 L241.2 93.18 L242 93.1 L242.8 93.02 L243.6 92.94 L244.4 92.85 L245.2 92.77 L246 92.68 L246.8 92.58 L247.6 92.49 L248.4 92.39 L249.2 92.29 L250 92.18 L250.8 92.08 L251.6 91.97 L252.4 91.85 L253.2 91.73 L254 91.61 L254.8 91.49 L255.6 91.36 L256.4 91.23 L257.2 91.1 L258 90.96 L258.8 90.82 L259.6 90.68 L260.4 90.53 L261.2 90.38 L262 90.22 L262.8 90.06 L263.6 89.9 L264.4 89.73 L265.2 89.56 L266 89.38 L266.8 89.2 L267.6 89.02 L268.4 88.83 L269.2 88.63 L270 88.42 L270.8 88.21 L271.6 87.98 L272.4 87.73 L273.2 87.47 L274 87.17 L274.8 86.84 L275.6 86.46 L276.4 86.01 L277.2 85.47 L278 84.8 L278.8 83.97 L279.6 82.93 L280.4 81.61 L281.2 79.95 L282 77.88 L282.8 75.34 L283.6 72.33 L284.4 68.86 L285.2 65.06 L286 61.07 L286.8 57.1 L287.6 53.34 L288.4 49.96 L289.2 47.03 L290 44.58 L290.8 42.59 L291.6 40.99 L292.4 39.72 L293.2 38.71 L294 37.91 L294.8 37.25 L295.6 36.72 L296.4 36.26 L297.2 35.87 L298 35.53 L298.8 35.22 L299.6 34.93 L300.4 34.67 L301.2 34.42 L302 34.18 L302.8 33.95 L303.6 33.72 L304.4 33.5 L305.2 33.29 L306 33.08 L306.8 32.87 L307.6 32.67 L308.4 32.48 L309.2 32.28 L310 32.09 L310.8 31.91 L311.6 31.72 L312.4 31.55 L313.2 31.37 L314 31.2 L314.8 31.03 L315.6 30.86 L316.4 30.7 L317.2 30.55 L318 30.39 L318.8 30.24 L319.6 30.09 L320.4 29.95 L321.2 29.81 L322 29.67 L322.8 29.54 L323.6 29.41 L324.4 29.28 L325.2 29.16 L326 29.04 L326.8 28.92 L327.6 28.81 L328.4 28.7" fill="none" stroke="#d6a21e" stroke-width="1.25"/>
</g>
<line x1="219.4" y1="60.4" x2="340.8" y2="60.4" stroke="#333" stroke-width="1"/>
<line x1="280.4" y1="11.8" x2="280.4" y2="109" stroke="#333" stroke-width="1"/>
<rect x="219.4" y="11.8" width="121.4" height="97.2" fill="none" stroke="#333" stroke-width="1"/>
<line x1="216.6" y1="11.8" x2="219.4" y2="11.8" stroke="#333" stroke-width="0.9"/>
<line x1="216.6" y1="28" x2="219.4" y2="28" stroke="#333" stroke-width="0.9"/>
<line x1="216.6" y1="44.2" x2="219.4" y2="44.2" stroke="#333" stroke-width="0.9"/>
<line x1="216.6" y1="60.4" x2="219.4" y2="60.4" stroke="#333" stroke-width="0.9"/>
<line x1="216.6" y1="76.6" x2="219.4" y2="76.6" stroke="#333" stroke-width="0.9"/>
<line x1="216.6" y1="92.8" x2="219.4" y2="92.8" stroke="#333" stroke-width="0.9"/>
<line x1="216.6" y1="109" x2="219.4" y2="109" stroke="#333" stroke-width="0.9"/>
<line x1="217.8" y1="19.9" x2="219.4" y2="19.9" stroke="#333" stroke-width="0.9"/>
<line x1="217.8" y1="36.1" x2="219.4" y2="36.1" stroke="#333" stroke-width="0.9"/>
<line x1="217.8" y1="52.3" x2="219.4" y2="52.3" stroke="#333" stroke-width="0.9"/>
<line x1="217.8" y1="68.5" x2="219.4" y2="68.5" stroke="#333" stroke-width="0.9"/>
<line x1="217.8" y1="84.7" x2="219.4" y2="84.7" stroke="#333" stroke-width="0.9"/>
<line x1="217.8" y1="100.9" x2="219.4" y2="100.9" stroke="#333" stroke-width="0.9"/>
<text x="214.7" y="14.64" font-size="7.9" text-anchor="end" fill="#222">60</text>
<text x="214.7" y="30.84" font-size="7.9" text-anchor="end" fill="#222">40</text>
<text x="214.7" y="47.04" font-size="7.9" text-anchor="end" fill="#222">20</text>
<text x="214.7" y="63.24" font-size="7.9" text-anchor="end" fill="#222">0</text>
<text x="214.7" y="79.44" font-size="7.9" text-anchor="end" fill="#222">−20</text>
<text x="214.7" y="95.64" font-size="7.9" text-anchor="end" fill="#222">−40</text>
<text x="214.7" y="111.84" font-size="7.9" text-anchor="end" fill="#222">−60</text>
<line x1="232.4" y1="109" x2="232.4" y2="111.8" stroke="#333" stroke-width="0.9"/>
<line x1="256.4" y1="109" x2="256.4" y2="111.8" stroke="#333" stroke-width="0.9"/>
<line x1="280.4" y1="109" x2="280.4" y2="111.8" stroke="#333" stroke-width="0.9"/>
<line x1="304.4" y1="109" x2="304.4" y2="111.8" stroke="#333" stroke-width="0.9"/>
<line x1="328.4" y1="109" x2="328.4" y2="111.8" stroke="#333" stroke-width="0.9"/>
<line x1="244.4" y1="109" x2="244.4" y2="110.6" stroke="#333" stroke-width="0.9"/>
<line x1="268.4" y1="109" x2="268.4" y2="110.6" stroke="#333" stroke-width="0.9"/>
<line x1="292.4" y1="109" x2="292.4" y2="110.6" stroke="#333" stroke-width="0.9"/>
<line x1="316.4" y1="109" x2="316.4" y2="110.6" stroke="#333" stroke-width="0.9"/>
<text x="232.4" y="120.54" font-size="7.9" text-anchor="middle" fill="#222">−40</text>
<text x="256.4" y="120.54" font-size="7.9" text-anchor="middle" fill="#222">−20</text>
<text x="280.4" y="120.54" font-size="7.9" text-anchor="middle" fill="#222">0</text>
<text x="304.4" y="120.54" font-size="7.9" text-anchor="middle" fill="#222">20</text>
<text x="328.4" y="120.54" font-size="7.9" text-anchor="middle" fill="#222">40</text>
<text x="285.6" y="131.24" font-size="7.9" text-anchor="middle" fill="#222">E (kV/cm)</text>
<text x="190.8" y="64.14" font-size="7.9" text-anchor="middle" fill="#222" transform="rotate(-90 190.8 61.3)">P(μC/cm<tspan baseline-shift="super" font-size="5">2</tspan>)</text>
<text x="229" y="21.42" font-size="7" text-anchor="start" fill="#222">@303 K</text>
<line x1="314" y1="70.2" x2="323.7" y2="70.2" stroke="#3a3a3a" stroke-width="1.3"/>
<text x="325.5" y="71.86" font-size="4.6" text-anchor="start" fill="#333">Fresh</text>
<line x1="314" y1="75.6" x2="323.7" y2="75.6" stroke="#e0393c" stroke-width="1.3"/>
<text x="325.5" y="77.26" font-size="4.6" text-anchor="start" fill="#333">10 h</text>
<line x1="314" y1="81" x2="323.7" y2="81" stroke="#2b62c0" stroke-width="1.3"/>
<text x="325.5" y="82.66" font-size="4.6" text-anchor="start" fill="#333">20 h</text>
<line x1="314" y1="86.4" x2="323.7" y2="86.4" stroke="#3aa36a" stroke-width="1.3"/>
<text x="325.5" y="88.06" font-size="4.6" text-anchor="start" fill="#333">30 h</text>
<line x1="314" y1="91.8" x2="323.7" y2="91.8" stroke="#b47ad8" stroke-width="1.3"/>
<text x="325.5" y="93.46" font-size="4.6" text-anchor="start" fill="#333">40 h</text>
<line x1="314" y1="97.2" x2="323.7" y2="97.2" stroke="#d6a21e" stroke-width="1.3"/>
<text x="325.5" y="98.86" font-size="4.6" text-anchor="start" fill="#333">50 h</text>
<text x="353.5" y="13.3" font-size="15" text-anchor="start" fill="#111" font-weight="bold">c</text>
<line x1="478.5" y1="12.3" x2="478.5" y2="109" stroke="#e04040" stroke-width="0.8" stroke-dasharray="1.5,1.2"/>
<path d="M396.5 50.31 L397.21 49.99 L398.07 49.6 L399.06 49.16 L400.17 48.66 L401.37 48.11 L402.66 47.53 L404.01 46.92 L405.43 46.29 L406.88 45.64 L408.35 44.98 L409.84 44.33 L411.32 43.68 L412.78 43.06 L414.21 42.45 L415.59 41.88 L416.9 41.35 L418.17 40.84 L419.45 40.31 L420.72 39.78 L422 39.25 L423.27 38.71 L424.55 38.18 L425.82 37.67 L427.1 37.16 L428.38 36.67 L429.65 36.2 L430.92 35.76 L432.2 35.34 L433.47 34.96 L434.75 34.61 L436.02 34.3 L437.3 34.04 L438.57 33.85 L439.85 33.76 L441.12 33.74 L442.4 33.79 L443.68 33.88 L444.95 34.01 L446.23 34.15 L447.5 34.29 L448.78 34.42 L450.05 34.52 L451.33 34.58 L452.6 34.58 L453.88 34.5 L455.15 34.33 L456.43 34.05 L457.7 33.65 L458.97 33.09 L460.25 32.34 L461.52 31.45 L462.8 30.43 L464.07 29.32 L465.35 28.14 L466.62 26.93 L467.9 25.71 L469.18 24.51 L470.45 23.36 L471.72 22.3 L473 21.34 L474.27 20.52 L475.55 19.86 L476.82 19.4 L478.1 19.17 L479.41 19.17 L480.79 19.39 L482.22 19.79 L483.68 20.36 L485.16 21.05 L486.65 21.86 L488.12 22.75 L489.58 23.69 L490.99 24.66 L492.34 25.63 L493.63 26.58 L494.83 27.48 L495.94 28.3 L496.93 29.01 L497.79 29.6 L498.5 30.02" fill="none" stroke="#333333" stroke-width="0.9"/>
<circle cx="396.5" cy="50.31" r="1.2" fill="#333333" stroke="none" stroke-width="0"/>
<circle cx="416.9" cy="41.35" r="1.2" fill="#333333" stroke="none" stroke-width="0"/>
<circle cx="437.3" cy="34.04" r="1.2" fill="#333333" stroke="none" stroke-width="0"/>
<circle cx="457.7" cy="33.65" r="1.2" fill="#333333" stroke="none" stroke-width="0"/>
<circle cx="478.1" cy="19.17" r="1.2" fill="#333333" stroke="none" stroke-width="0"/>
<circle cx="498.5" cy="30.02" r="1.2" fill="#333333" stroke="none" stroke-width="0"/>
<path d="M396.5 103.23 L397.21 103.02 L398.07 102.76 L399.06 102.46 L400.17 102.13 L401.37 101.77 L402.66 101.38 L404.01 100.97 L405.43 100.55 L406.88 100.11 L408.35 99.67 L409.84 99.23 L411.32 98.79 L412.78 98.35 L414.21 97.93 L415.59 97.53 L416.9 97.15 L418.17 96.77 L419.45 96.36 L420.72 95.94 L422 95.5 L423.27 95.06 L424.55 94.62 L425.82 94.18 L427.1 93.75 L428.38 93.34 L429.65 92.96 L430.92 92.6 L432.2 92.28 L433.47 92 L434.75 91.76 L436.02 91.58 L437.3 91.46 L438.57 91.42 L439.85 91.49 L441.12 91.64 L442.4 91.87 L443.68 92.15 L444.95 92.46 L446.23 92.8 L447.5 93.15 L448.78 93.48 L450.05 93.79 L451.33 94.06 L452.6 94.27 L453.88 94.4 L455.15 94.44 L456.43 94.38 L457.7 94.19 L458.97 93.86 L460.25 93.38 L461.52 92.77 L462.8 92.05 L464.07 91.26 L465.35 90.4 L466.62 89.51 L467.9 88.6 L469.18 87.69 L470.45 86.82 L471.72 85.99 L473 85.23 L474.27 84.57 L475.55 84.03 L476.82 83.62 L478.1 83.37 L479.41 83.28 L480.79 83.32 L482.22 83.49 L483.68 83.75 L485.16 84.1 L486.65 84.52 L488.12 85 L489.58 85.51 L490.99 86.04 L492.34 86.58 L493.63 87.11 L494.83 87.61 L495.94 88.06 L496.93 88.46 L497.79 88.78 L498.5 89" fill="none" stroke="#c8202a" stroke-width="0.9"/>
<circle cx="396.5" cy="103.23" r="1.2" fill="#c8202a" stroke="none" stroke-width="0"/>
<circle cx="416.9" cy="97.15" r="1.2" fill="#c8202a" stroke="none" stroke-width="0"/>
<circle cx="437.3" cy="91.46" r="1.2" fill="#c8202a" stroke="none" stroke-width="0"/>
<circle cx="457.7" cy="94.19" r="1.2" fill="#c8202a" stroke="none" stroke-width="0"/>
<circle cx="478.1" cy="83.37" r="1.2" fill="#c8202a" stroke="none" stroke-width="0"/>
<circle cx="498.5" cy="89" r="1.2" fill="#c8202a" stroke="none" stroke-width="0"/>
<rect x="387.3" y="12.3" width="120.9" height="96.7" fill="none" stroke="#333" stroke-width="1"/>
<line x1="384.5" y1="19.7" x2="387.3" y2="19.7" stroke="#333" stroke-width="0.9"/>
<line x1="384.5" y1="33.65" x2="387.3" y2="33.65" stroke="#333" stroke-width="0.9"/>
<line x1="384.5" y1="47.6" x2="387.3" y2="47.6" stroke="#333" stroke-width="0.9"/>
<line x1="384.5" y1="61.55" x2="387.3" y2="61.55" stroke="#333" stroke-width="0.9"/>
<line x1="384.5" y1="75.5" x2="387.3" y2="75.5" stroke="#333" stroke-width="0.9"/>
<line x1="384.5" y1="89.45" x2="387.3" y2="89.45" stroke="#333" stroke-width="0.9"/>
<line x1="384.5" y1="103.4" x2="387.3" y2="103.4" stroke="#333" stroke-width="0.9"/>
<line x1="385.7" y1="12.72" x2="387.3" y2="12.72" stroke="#333" stroke-width="0.9"/>
<line x1="385.7" y1="26.67" x2="387.3" y2="26.67" stroke="#333" stroke-width="0.9"/>
<line x1="385.7" y1="40.62" x2="387.3" y2="40.62" stroke="#333" stroke-width="0.9"/>
<line x1="385.7" y1="54.58" x2="387.3" y2="54.58" stroke="#333" stroke-width="0.9"/>
<line x1="385.7" y1="68.53" x2="387.3" y2="68.53" stroke="#333" stroke-width="0.9"/>
<line x1="385.7" y1="82.47" x2="387.3" y2="82.47" stroke="#333" stroke-width="0.9"/>
<line x1="385.7" y1="96.42" x2="387.3" y2="96.42" stroke="#333" stroke-width="0.9"/>
<text x="381.6" y="22.62" font-size="8.1" text-anchor="end" fill="#222">45</text>
<text x="381.6" y="36.57" font-size="8.1" text-anchor="end" fill="#222">40</text>
<text x="381.6" y="50.52" font-size="8.1" text-anchor="end" fill="#222">35</text>
<text x="381.6" y="64.47" font-size="8.1" text-anchor="end" fill="#222">30</text>
<text x="381.6" y="78.42" font-size="8.1" text-anchor="end" fill="#222">25</text>
<text x="381.6" y="92.37" font-size="8.1" text-anchor="end" fill="#222">20</text>
<text x="381.6" y="106.32" font-size="8.1" text-anchor="end" fill="#222">15</text>
<line x1="396.5" y1="109" x2="396.5" y2="111.8" stroke="#333" stroke-width="0.9"/>
<line x1="416.9" y1="109" x2="416.9" y2="111.8" stroke="#333" stroke-width="0.9"/>
<line x1="437.3" y1="109" x2="437.3" y2="111.8" stroke="#333" stroke-width="0.9"/>
<line x1="457.7" y1="109" x2="457.7" y2="111.8" stroke="#333" stroke-width="0.9"/>
<line x1="478.1" y1="109" x2="478.1" y2="111.8" stroke="#333" stroke-width="0.9"/>
<line x1="498.5" y1="109" x2="498.5" y2="111.8" stroke="#333" stroke-width="0.9"/>
<line x1="406.7" y1="109" x2="406.7" y2="110.6" stroke="#333" stroke-width="0.9"/>
<line x1="427.1" y1="109" x2="427.1" y2="110.6" stroke="#333" stroke-width="0.9"/>
<line x1="447.5" y1="109" x2="447.5" y2="110.6" stroke="#333" stroke-width="0.9"/>
<line x1="467.9" y1="109" x2="467.9" y2="110.6" stroke="#333" stroke-width="0.9"/>
<line x1="488.3" y1="109" x2="488.3" y2="110.6" stroke="#333" stroke-width="0.9"/>
<text x="396.5" y="121.08" font-size="8" text-anchor="middle" fill="#222">0</text>
<text x="416.9" y="121.08" font-size="8" text-anchor="middle" fill="#222">10</text>
<text x="437.3" y="121.08" font-size="8" text-anchor="middle" fill="#222">20</text>
<text x="457.7" y="121.08" font-size="8" text-anchor="middle" fill="#222">30</text>
<text x="478.1" y="121.08" font-size="8" text-anchor="middle" fill="#222">40</text>
<text x="498.5" y="121.08" font-size="8" text-anchor="middle" fill="#222">50</text>
<text x="447.7" y="132.11" font-size="7.8" text-anchor="middle" fill="#222">Annealing time (h)</text>
<text x="362" y="64.34" font-size="7.9" text-anchor="middle" fill="#222" transform="rotate(-90 362 61.5)">P(μC/cm<tspan baseline-shift="super" font-size="5">2</tspan>)</text>
<line x1="392.5" y1="18.4" x2="404.4" y2="18.4" stroke="#333" stroke-width="0.9"/>
<circle cx="398.4" cy="18.4" r="1.1" fill="#333" stroke="none" stroke-width="0"/>
<text x="407" y="21.14" font-size="7.6" text-anchor="start" fill="#222">303 K</text>
<line x1="392.5" y1="25.5" x2="404.4" y2="25.5" stroke="#c8202a" stroke-width="0.9"/>
<circle cx="398.4" cy="25.5" r="1.1" fill="#c8202a" stroke="none" stroke-width="0"/>
<text x="407" y="28.24" font-size="7.6" text-anchor="start" fill="#222">423 K</text>
<text x="403" y="56.06" font-size="6" text-anchor="middle" fill="#222">34.03</text>
<text x="424.1" y="47.36" font-size="6" text-anchor="middle" fill="#222">37.24</text>
<text x="443" y="32.86" font-size="6" text-anchor="middle" fill="#222">39.86</text>
<text x="460.9" y="39.76" font-size="6" text-anchor="middle" fill="#222">40</text>
<text x="483.2" y="25.76" font-size="6" text-anchor="middle" fill="#222">45.19</text>
<text x="502.9" y="35.76" font-size="6" text-anchor="middle" fill="#222">41.3</text>
<text x="399.9" y="109.06" font-size="6" text-anchor="middle" fill="#c8202a">15.06</text>
<text x="420.1" y="103.36" font-size="6" text-anchor="middle" fill="#c8202a">17.24</text>
<text x="440.4" y="98.86" font-size="6" text-anchor="middle" fill="#c8202a">19.28</text>
<text x="458.8" y="100.66" font-size="6" text-anchor="middle" fill="#c8202a">18.3</text>
<text x="479.8" y="90.16" font-size="6" text-anchor="middle" fill="#c8202a">22.18</text>
<text x="499.7" y="95.46" font-size="6" text-anchor="middle" fill="#c8202a">20.16</text>
<text x="523" y="13.5" font-size="15" text-anchor="start" fill="#111" font-weight="bold">d</text>
<clipPath id="clipd"><rect x="560.2" y="13.1" width="118.69999999999993" height="95.9"/></clipPath>
<g clip-path="url(#clipd)">
<path d="M569.91 58.87 L570.25 60.13 L570.68 61.82 L571.19 63.84 L571.76 66.1 L572.38 68.5 L573.03 70.94 L573.68 73.34 L574.33 75.6 L574.96 77.62 L575.55 79.32 L576.11 80.8 L576.66 82.21 L577.22 83.54 L577.77 84.77 L578.32 85.88 L578.87 86.85 L579.44 87.65 L580.01 88.27 L580.59 88.68 L581.18 88.86 L581.77 88.84 L582.33 88.63 L582.88 88.23 L583.43 87.65 L584 86.9 L584.6 85.99 L585.25 84.9 L585.96 83.65 L586.75 82.24 L587.62 80.68 L588.6 78.82 L589.68 76.56 L590.83 74.01 L592.05 71.26 L593.31 68.41 L594.6 65.57 L595.9 62.82 L597.19 60.26 L598.47 58.01 L599.7 56.14 L600.91 54.63 L602.12 53.35 L603.32 52.27 L604.53 51.36 L605.74 50.6 L606.95 49.96 L608.15 49.4 L609.36 48.9 L610.57 48.43 L611.77 47.96 L612.98 47.53 L614.19 47.19 L615.4 46.92 L616.61 46.73 L617.81 46.6 L619.02 46.52 L620.23 46.49 L621.43 46.5 L622.64 46.54 L623.85 46.6 L625.08 46.72 L626.33 46.92 L627.6 47.2 L628.87 47.52 L630.14 47.87 L631.38 48.23 L632.6 48.58 L633.77 48.89 L634.88 49.14 L635.92 49.32 L636.89 49.45 L637.79 49.54 L638.64 49.61 L639.43 49.65 L640.2 49.66 L640.95 49.65 L641.69 49.61 L642.43 49.54 L643.19 49.45 L643.98 49.32 L644.78 49.13 L645.59 48.84 L646.39 48.49 L647.2 48.1 L648 47.7 L648.81 47.33 L649.61 47 L650.42 46.75 L651.22 46.61 L652.02 46.6 L652.83 46.67 L653.63 46.78 L654.44 46.94 L655.25 47.15 L656.05 47.45 L656.86 47.84 L657.66 48.34 L658.47 48.97 L659.27 49.75 L660.08 50.69 L660.92 51.9 L661.81 53.44 L662.74 55.21 L663.68 57.13 L664.6 59.12 L665.48 61.09 L666.3 62.96 L667.03 64.63 L667.65 66.02 L668.12 67.05" fill="none" stroke="#555555" stroke-width="0.95"/>
<path d="M569.91 28.87 L570.34 30.9 L570.89 33.63 L571.53 36.88 L572.25 40.52 L573.03 44.38 L573.86 48.31 L574.7 52.15 L575.54 55.75 L576.37 58.95 L577.16 61.6 L577.93 63.83 L578.72 65.89 L579.52 67.78 L580.32 69.47 L581.13 70.97 L581.95 72.26 L582.77 73.34 L583.59 74.2 L584.4 74.84 L585.21 75.23 L586 75.32 L586.78 75.08 L587.55 74.55 L588.31 73.79 L589.08 72.84 L589.87 71.76 L590.67 70.59 L591.5 69.38 L592.36 68.19 L593.26 67.05 L594.19 65.88 L595.15 64.56 L596.12 63.14 L597.12 61.66 L598.14 60.15 L599.19 58.64 L600.27 57.18 L601.39 55.79 L602.54 54.53 L603.73 53.41 L604.97 52.42 L606.27 51.48 L607.62 50.61 L609.01 49.8 L610.42 49.07 L611.84 48.41 L613.26 47.83 L614.67 47.33 L616.06 46.92 L617.41 46.6 L618.74 46.38 L620.06 46.28 L621.38 46.28 L622.7 46.36 L624 46.51 L625.29 46.73 L626.57 46.99 L627.83 47.29 L629.07 47.62 L630.29 47.96 L631.5 48.36 L632.7 48.85 L633.89 49.42 L635.07 50.04 L636.23 50.69 L637.36 51.33 L638.47 51.95 L639.54 52.52 L640.57 53.02 L641.56 53.41 L642.49 53.74 L643.35 54.04 L644.16 54.3 L644.93 54.52 L645.69 54.69 L646.43 54.82 L647.18 54.9 L647.95 54.92 L648.75 54.88 L649.61 54.78 L650.51 54.6 L651.45 54.35 L652.42 54.04 L653.4 53.66 L654.39 53.24 L655.39 52.78 L656.38 52.29 L657.36 51.77 L658.33 51.23 L659.27 50.69 L660.23 50.09 L661.23 49.39 L662.26 48.63 L663.29 47.83 L664.3 47.02 L665.26 46.24 L666.14 45.5 L666.93 44.84 L667.6 44.29 L668.12 43.87" fill="none" stroke="#e8393c" stroke-width="0.95"/>
<path d="M569.91 37.05 L570.25 39.25 L570.69 42.2 L571.22 45.73 L571.8 49.66 L572.43 53.84 L573.08 58.09 L573.74 62.25 L574.38 66.15 L574.99 69.63 L575.55 72.5 L576.05 74.92 L576.53 77.14 L576.98 79.15 L577.42 80.96 L577.86 82.56 L578.31 83.96 L578.78 85.15 L579.27 86.14 L579.8 86.92 L580.38 87.5 L580.98 87.86 L581.6 88 L582.22 87.93 L582.87 87.64 L583.55 87.16 L584.26 86.49 L585.02 85.63 L585.83 84.6 L586.69 83.4 L587.62 82.05 L588.64 80.39 L589.73 78.33 L590.89 75.97 L592.11 73.4 L593.36 70.71 L594.64 68.01 L595.93 65.38 L597.21 62.91 L598.47 60.71 L599.7 58.87 L600.89 57.32 L602.05 55.96 L603.2 54.74 L604.34 53.68 L605.49 52.73 L606.66 51.9 L607.86 51.16 L609.1 50.49 L610.4 49.89 L611.77 49.32 L613.22 48.87 L614.74 48.57 L616.31 48.4 L617.93 48.32 L619.57 48.3 L621.24 48.31 L622.92 48.31 L624.59 48.28 L626.25 48.17 L627.88 47.96 L629.51 47.67 L631.19 47.34 L632.88 46.98 L634.59 46.59 L636.28 46.17 L637.94 45.73 L639.56 45.28 L641.12 44.82 L642.59 44.35 L643.98 43.87 L645.26 43.32 L646.48 42.67 L647.63 41.95 L648.72 41.2 L649.76 40.46 L650.76 39.78 L651.71 39.19 L652.64 38.74 L653.55 38.47 L654.44 38.42 L655.3 38.55 L656.11 38.8 L656.88 39.17 L657.61 39.67 L658.31 40.29 L659 41.03 L659.67 41.9 L660.34 42.89 L661.01 44 L661.68 45.23 L662.39 46.73 L663.13 48.57 L663.88 50.66 L664.63 52.9 L665.36 55.2 L666.05 57.47 L666.69 59.61 L667.26 61.53 L667.75 63.13 L668.12 64.32" fill="none" stroke="#2d6fd8" stroke-width="0.95"/>
<path d="M569.91 76.59 L570.15 76.73 L570.44 76.94 L570.78 77.19 L571.16 77.47 L571.58 77.75 L572.02 78.02 L572.49 78.25 L572.97 78.42 L573.45 78.51 L573.94 78.5 L574.41 78.44 L574.86 78.39 L575.31 78.31 L575.77 78.19 L576.25 78.01 L576.78 77.73 L577.36 77.34 L578.01 76.81 L578.74 76.11 L579.58 75.23 L580.52 74.1 L581.58 72.71 L582.72 71.11 L583.94 69.37 L585.21 67.53 L586.51 65.65 L587.82 63.79 L589.13 62 L590.41 60.34 L591.65 58.87 L592.84 57.51 L594 56.18 L595.15 54.89 L596.29 53.65 L597.44 52.48 L598.61 51.37 L599.81 50.36 L601.05 49.44 L602.35 48.64 L603.73 47.96 L605.17 47.42 L606.69 47.03 L608.26 46.76 L609.88 46.6 L611.52 46.51 L613.19 46.49 L614.87 46.5 L616.54 46.54 L618.2 46.58 L619.83 46.6 L621.45 46.64 L623.11 46.76 L624.78 46.93 L626.46 47.14 L628.13 47.36 L629.77 47.58 L631.39 47.77 L632.96 47.91 L634.48 47.98 L635.92 47.96 L637.31 47.83 L638.66 47.61 L639.97 47.31 L641.24 46.97 L642.47 46.6 L643.65 46.23 L644.8 45.88 L645.91 45.58 L646.97 45.36 L648 45.23 L648.95 45.13 L649.8 44.98 L650.58 44.83 L651.32 44.7 L652.02 44.64 L652.73 44.68 L653.47 44.86 L654.25 45.21 L655.1 45.78 L656.05 46.6 L657.15 47.79 L658.4 49.38 L659.76 51.27 L661.17 53.36 L662.59 55.54 L663.97 57.72 L665.26 59.79 L666.42 61.65 L667.39 63.19 L668.12 64.32" fill="none" stroke="#3aa86a" stroke-width="0.95"/>
<path d="M569.91 97.05 L570.33 96.26 L570.85 95.28 L571.45 94.13 L572.14 92.84 L572.88 91.42 L573.68 89.91 L574.52 88.33 L575.39 86.71 L576.27 85.06 L577.16 83.41 L578.07 81.7 L579.02 79.88 L580.01 77.96 L581.04 75.97 L582.09 73.95 L583.17 71.92 L584.27 69.92 L585.38 67.97 L586.5 66.09 L587.62 64.32 L588.75 62.63 L589.87 60.95 L591 59.31 L592.15 57.7 L593.31 56.14 L594.5 54.64 L595.73 53.19 L597 51.82 L598.32 50.53 L599.7 49.32 L601.15 48.21 L602.66 47.17 L604.23 46.2 L605.85 45.31 L607.5 44.48 L609.17 43.71 L610.84 43 L612.52 42.34 L614.17 41.72 L615.8 41.14 L617.43 40.61 L619.08 40.14 L620.76 39.72 L622.43 39.35 L624.1 39.03 L625.75 38.76 L627.37 38.54 L628.94 38.36 L630.45 38.23 L631.9 38.14 L633.27 38.12 L634.57 38.18 L635.82 38.3 L637.02 38.48 L638.19 38.69 L639.34 38.92 L640.48 39.16 L641.62 39.4 L642.79 39.61 L643.98 39.78 L645.18 39.95 L646.39 40.17 L647.6 40.4 L648.81 40.63 L650.01 40.85 L651.22 41.04 L652.43 41.18 L653.63 41.26 L654.84 41.25 L656.05 41.14 L657.31 40.9 L658.66 40.53 L660.05 40.05 L661.46 39.5 L662.84 38.91 L664.16 38.32 L665.39 37.75 L666.48 37.23 L667.41 36.81 L668.12 36.51" fill="none" stroke="#b27ae0" stroke-width="0.95"/>
<path d="M569.91 39.78 L570.25 41.3 L570.67 43.34 L571.17 45.77 L571.72 48.48 L572.33 51.37 L572.97 54.31 L573.62 57.19 L574.28 59.89 L574.93 62.31 L575.55 64.32 L576.15 66.04 L576.76 67.64 L577.37 69.11 L577.99 70.45 L578.62 71.65 L579.26 72.7 L579.91 73.59 L580.59 74.31 L581.28 74.86 L581.99 75.23 L582.7 75.38 L583.41 75.32 L584.11 75.05 L584.82 74.62 L585.56 74.04 L586.34 73.33 L587.16 72.53 L588.04 71.65 L589 70.73 L590.04 69.78 L591.18 68.72 L592.42 67.49 L593.73 66.12 L595.11 64.65 L596.53 63.13 L597.98 61.59 L599.44 60.09 L600.9 58.65 L602.33 57.32 L603.73 56.14 L605.09 55.07 L606.45 54.02 L607.81 53.03 L609.16 52.08 L610.52 51.2 L611.88 50.38 L613.25 49.64 L614.62 48.99 L616.01 48.42 L617.41 47.96 L618.83 47.64 L620.26 47.48 L621.7 47.44 L623.15 47.5 L624.6 47.62 L626.07 47.76 L627.53 47.9 L628.99 48 L630.45 48.03 L631.9 47.96 L633.38 47.8 L634.9 47.61 L636.45 47.39 L638.01 47.13 L639.55 46.85 L641.06 46.55 L642.52 46.24 L643.9 45.91 L645.2 45.57 L646.39 45.23 L647.46 44.82 L648.41 44.28 L649.28 43.68 L650.07 43.04 L650.82 42.42 L651.53 41.86 L652.23 41.41 L652.93 41.11 L653.66 41.01 L654.44 41.14 L655.26 41.51 L656.09 42.07 L656.93 42.79 L657.78 43.65 L658.62 44.64 L659.44 45.72 L660.25 46.89 L661.03 48.12 L661.78 49.4 L662.49 50.69 L663.18 52.12 L663.86 53.78 L664.54 55.61 L665.19 57.53 L665.81 59.46 L666.39 61.36 L666.92 63.13 L667.4 64.71 L667.8 66.04 L668.12 67.05" fill="none" stroke="#d9a31a" stroke-width="0.95"/>
</g>
<rect x="560.2" y="13.1" width="118.7" height="95.9" fill="none" stroke="#333" stroke-width="1"/>
<line x1="557.4" y1="20.69" x2="560.2" y2="20.69" stroke="#333" stroke-width="0.9"/>
<line x1="557.4" y1="34.33" x2="560.2" y2="34.33" stroke="#333" stroke-width="0.9"/>
<line x1="557.4" y1="47.96" x2="560.2" y2="47.96" stroke="#333" stroke-width="0.9"/>
<line x1="557.4" y1="61.6" x2="560.2" y2="61.6" stroke="#333" stroke-width="0.9"/>
<line x1="557.4" y1="75.23" x2="560.2" y2="75.23" stroke="#333" stroke-width="0.9"/>
<line x1="557.4" y1="88.86" x2="560.2" y2="88.86" stroke="#333" stroke-width="0.9"/>
<line x1="557.4" y1="102.5" x2="560.2" y2="102.5" stroke="#333" stroke-width="0.9"/>
<line x1="558.6" y1="13.87" x2="560.2" y2="13.87" stroke="#333" stroke-width="0.9"/>
<line x1="558.6" y1="27.51" x2="560.2" y2="27.51" stroke="#333" stroke-width="0.9"/>
<line x1="558.6" y1="41.14" x2="560.2" y2="41.14" stroke="#333" stroke-width="0.9"/>
<line x1="558.6" y1="54.78" x2="560.2" y2="54.78" stroke="#333" stroke-width="0.9"/>
<line x1="558.6" y1="68.41" x2="560.2" y2="68.41" stroke="#333" stroke-width="0.9"/>
<line x1="558.6" y1="82.05" x2="560.2" y2="82.05" stroke="#333" stroke-width="0.9"/>
<line x1="558.6" y1="95.68" x2="560.2" y2="95.68" stroke="#333" stroke-width="0.9"/>
<text x="555.9" y="23.57" font-size="8" text-anchor="end" fill="#222">0.30</text>
<text x="555.9" y="37.21" font-size="8" text-anchor="end" fill="#222">0.25</text>
<text x="555.9" y="50.84" font-size="8" text-anchor="end" fill="#222">0.20</text>
<text x="555.9" y="64.48" font-size="8" text-anchor="end" fill="#222">0.15</text>
<text x="555.9" y="78.11" font-size="8" text-anchor="end" fill="#222">0.10</text>
<text x="555.9" y="91.74" font-size="8" text-anchor="end" fill="#222">0.05</text>
<text x="555.9" y="105.38" font-size="8" text-anchor="end" fill="#222">0.00</text>
<line x1="567.5" y1="109" x2="567.5" y2="111.8" stroke="#333" stroke-width="0.9"/>
<line x1="599.7" y1="109" x2="599.7" y2="111.8" stroke="#333" stroke-width="0.9"/>
<line x1="631.9" y1="109" x2="631.9" y2="111.8" stroke="#333" stroke-width="0.9"/>
<line x1="664.1" y1="109" x2="664.1" y2="111.8" stroke="#333" stroke-width="0.9"/>
<line x1="575.55" y1="109" x2="575.55" y2="110.6" stroke="#333" stroke-width="0.9"/>
<line x1="583.6" y1="109" x2="583.6" y2="110.6" stroke="#333" stroke-width="0.9"/>
<line x1="591.65" y1="109" x2="591.65" y2="110.6" stroke="#333" stroke-width="0.9"/>
<line x1="607.75" y1="109" x2="607.75" y2="110.6" stroke="#333" stroke-width="0.9"/>
<line x1="615.8" y1="109" x2="615.8" y2="110.6" stroke="#333" stroke-width="0.9"/>
<line x1="623.85" y1="109" x2="623.85" y2="110.6" stroke="#333" stroke-width="0.9"/>
<line x1="639.95" y1="109" x2="639.95" y2="110.6" stroke="#333" stroke-width="0.9"/>
<line x1="648" y1="109" x2="648" y2="110.6" stroke="#333" stroke-width="0.9"/>
<line x1="656.05" y1="109" x2="656.05" y2="110.6" stroke="#333" stroke-width="0.9"/>
<text x="567.5" y="119.48" font-size="8" text-anchor="middle" fill="#222">300</text>
<text x="599.7" y="119.48" font-size="8" text-anchor="middle" fill="#222">340</text>
<text x="631.9" y="119.48" font-size="8" text-anchor="middle" fill="#222">380</text>
<text x="664.1" y="119.48" font-size="8" text-anchor="middle" fill="#222">420</text>
<text x="619.3" y="132.34" font-size="7.9" text-anchor="middle" fill="#222">T (K)</text>
<text x="531.2" y="66.42" font-size="8.1" text-anchor="middle" fill="#222" transform="rotate(-90 531.2 63.5)">−∂P/∂T(μC/(K·cm<tspan baseline-shift="super" font-size="5">2</tspan>))</text>
<text x="577.3" y="25.74" font-size="7.9" text-anchor="start" fill="#222">@ 40 kV/cm</text>
<line x1="601.2" y1="95.2" x2="613.4" y2="95.2" stroke="#555555" stroke-width="0.9"/>
<text x="614.8" y="97.07" font-size="5.2" text-anchor="start" fill="#333">0 h</text>
<line x1="626" y1="95.2" x2="638.2" y2="95.2" stroke="#e8393c" stroke-width="0.9"/>
<text x="639.6" y="97.07" font-size="5.2" text-anchor="start" fill="#333">10 h</text>
<line x1="651.5" y1="95.2" x2="663.7" y2="95.2" stroke="#2d6fd8" stroke-width="0.9"/>
<text x="665.1" y="97.07" font-size="5.2" text-anchor="start" fill="#333">20 h</text>
<line x1="601.2" y1="102" x2="613.4" y2="102" stroke="#3aa86a" stroke-width="0.9"/>
<text x="614.8" y="103.87" font-size="5.2" text-anchor="start" fill="#333">30 h</text>
<line x1="626" y1="102" x2="638.2" y2="102" stroke="#b27ae0" stroke-width="0.9"/>
<text x="639.6" y="103.87" font-size="5.2" text-anchor="start" fill="#333">40 h</text>
<line x1="651.5" y1="102" x2="663.7" y2="102" stroke="#d9a31a" stroke-width="0.9"/>
<text x="665.1" y="103.87" font-size="5.2" text-anchor="start" fill="#333">50 h</text>
<text x="5" y="150.1" font-size="15" text-anchor="start" fill="#111" font-weight="bold">e</text>
<path d="M44.36 296.3 L37.13 200.79 L232.4 191.74 L228.71 274.48Z" fill="#babdbe" stroke="none" stroke-width="1"/>
<path d="M228.71 274.48 L232.4 191.74 L285.31 205.41 L277.59 304.72Z" fill="#c9cbcc" stroke="none" stroke-width="1"/>
<path d="M44.36 296.3 L228.71 274.48 L277.59 304.72 L56.47 338.15Z" fill="#f9f5a6" stroke="none" stroke-width="1"/>
<path d="M43.88 290 L228.95 268.98" fill="none" stroke="#4a4a4a" stroke-width="0.6" stroke-opacity="0.85"/>
<path d="M228.95 268.98 L278.1 298.19" fill="none" stroke="#4a4a4a" stroke-width="0.6" stroke-opacity="0.85"/>
<path d="M43.08 279.39 L229.37 259.73" fill="none" stroke="#4a4a4a" stroke-width="0.6" stroke-opacity="0.85"/>
<path d="M229.37 259.73 L278.96 287.18" fill="none" stroke="#4a4a4a" stroke-width="0.6" stroke-opacity="0.85"/>
<path d="M42.26 268.63 L229.78 250.37" fill="none" stroke="#4a4a4a" stroke-width="0.6" stroke-opacity="0.85"/>
<path d="M229.78 250.37 L279.83 276.01" fill="none" stroke="#4a4a4a" stroke-width="0.6" stroke-opacity="0.85"/>
<path d="M41.44 257.72 L230.21 240.89" fill="none" stroke="#4a4a4a" stroke-width="0.6" stroke-opacity="0.85"/>
<path d="M230.21 240.89 L280.71 264.68" fill="none" stroke="#4a4a4a" stroke-width="0.6" stroke-opacity="0.85"/>
<path d="M40.6 246.66 L230.64 231.3" fill="none" stroke="#4a4a4a" stroke-width="0.6" stroke-opacity="0.85"/>
<path d="M230.64 231.3 L281.6 253.17" fill="none" stroke="#4a4a4a" stroke-width="0.6" stroke-opacity="0.85"/>
<path d="M39.75 235.44 L231.07 221.59" fill="none" stroke="#4a4a4a" stroke-width="0.6" stroke-opacity="0.85"/>
<path d="M231.07 221.59 L282.51 241.5" fill="none" stroke="#4a4a4a" stroke-width="0.6" stroke-opacity="0.85"/>
<path d="M38.89 224.05 L231.51 211.77" fill="none" stroke="#4a4a4a" stroke-width="0.6" stroke-opacity="0.85"/>
<path d="M231.51 211.77 L283.43 229.65" fill="none" stroke="#4a4a4a" stroke-width="0.6" stroke-opacity="0.85"/>
<path d="M38.02 212.51 L231.95 201.82" fill="none" stroke="#4a4a4a" stroke-width="0.6" stroke-opacity="0.85"/>
<path d="M231.95 201.82 L284.36 217.62" fill="none" stroke="#4a4a4a" stroke-width="0.6" stroke-opacity="0.85"/>
<path d="M37.13 200.79 L232.4 191.74" fill="none" stroke="#4a4a4a" stroke-width="0.6" stroke-opacity="0.85"/>
<path d="M232.4 191.74 L285.31 205.41" fill="none" stroke="#4a4a4a" stroke-width="0.6" stroke-opacity="0.85"/>
<path d="M62.23 294.18 L56.2 199.91" fill="none" stroke="#4a4a4a" stroke-width="0.55"/>
<path d="M62.23 294.18 L78.58 334.81" fill="none" stroke="#333" stroke-width="0.55"/>
<path d="M95.95 290.19 L92.12 198.24" fill="none" stroke="#4a4a4a" stroke-width="0.55"/>
<path d="M95.95 290.19 L119.9 328.56" fill="none" stroke="#333" stroke-width="0.55"/>
<path d="M127.99 286.4 L126.13 196.67" fill="none" stroke="#4a4a4a" stroke-width="0.55"/>
<path d="M127.99 286.4 L158.67 322.7" fill="none" stroke="#333" stroke-width="0.55"/>
<path d="M158.46 282.79 L158.39 195.17" fill="none" stroke="#4a4a4a" stroke-width="0.55"/>
<path d="M158.46 282.79 L195.12 317.19" fill="none" stroke="#333" stroke-width="0.55"/>
<path d="M187.48 279.36 L189.02 193.75" fill="none" stroke="#4a4a4a" stroke-width="0.55"/>
<path d="M187.48 279.36 L229.45 312" fill="none" stroke="#333" stroke-width="0.55"/>
<path d="M215.15 276.09 L218.15 192.4" fill="none" stroke="#4a4a4a" stroke-width="0.55"/>
<path d="M215.15 276.09 L261.83 307.11" fill="none" stroke="#333" stroke-width="0.55"/>
<path d="M37.13 200.79 L232.4 191.74 L285.31 205.41" fill="none" stroke="#555" stroke-width="0.6"/>
<path d="M228.71 274.48 L232.4 191.74" fill="none" stroke="#555" stroke-width="0.6"/>
<path d="M44.36 296.3 L37.13 200.79" fill="none" stroke="#222" stroke-width="0.8"/>
<path d="M44.36 296.3 L56.47 338.15" fill="none" stroke="#222" stroke-width="0.8"/>
<path d="M56.47 338.15 L277.59 304.72" fill="none" stroke="#222" stroke-width="0.8"/>
<path d="M277.59 304.72 L285.31 205.41" fill="none" stroke="#666" stroke-width="0.5"/>
<path d="M43.88 290 L40.3 290.41" fill="none" stroke="#222" stroke-width="0.7"/>
<path d="M43.08 279.39 L39.47 279.77" fill="none" stroke="#222" stroke-width="0.7"/>
<path d="M42.26 268.63 L38.63 268.99" fill="none" stroke="#222" stroke-width="0.7"/>
<path d="M41.44 257.72 L37.77 258.05" fill="none" stroke="#222" stroke-width="0.7"/>
<path d="M40.6 246.66 L36.91 246.96" fill="none" stroke="#222" stroke-width="0.7"/>
<path d="M39.75 235.44 L36.03 235.71" fill="none" stroke="#222" stroke-width="0.7"/>
<path d="M38.89 224.05 L35.14 224.29" fill="none" stroke="#222" stroke-width="0.7"/>
<path d="M38.02 212.51 L34.24 212.71" fill="none" stroke="#222" stroke-width="0.7"/>
<path d="M37.13 200.79 L33.32 200.97" fill="none" stroke="#222" stroke-width="0.7"/>
<path d="M44.36 296.3 L41.15 296.68" fill="none" stroke="#222" stroke-width="0.7"/>
<path d="M45.78 301.21 L42.48 301.61" fill="none" stroke="#222" stroke-width="0.7"/>
<path d="M47.29 306.43 L43.89 306.85" fill="none" stroke="#222" stroke-width="0.7"/>
<path d="M48.89 311.97 L45.39 312.43" fill="none" stroke="#222" stroke-width="0.7"/>
<path d="M50.6 317.87 L46.99 318.36" fill="none" stroke="#222" stroke-width="0.7"/>
<path d="M52.43 324.18 L48.7 324.7" fill="none" stroke="#222" stroke-width="0.7"/>
<path d="M54.38 330.92 L50.52 331.48" fill="none" stroke="#222" stroke-width="0.7"/>
<path d="M56.47 338.15 L52.48 338.75" fill="none" stroke="#222" stroke-width="0.7"/>
<path d="M78.58 334.81 L79.61 337.38" fill="none" stroke="#222" stroke-width="0.7"/>
<path d="M99.57 331.63 L100.85 334.12" fill="none" stroke="#222" stroke-width="0.7"/>
<path d="M119.9 328.56 L121.4 330.97" fill="none" stroke="#222" stroke-width="0.7"/>
<path d="M139.59 325.58 L141.31 327.92" fill="none" stroke="#222" stroke-width="0.7"/>
<path d="M158.67 322.7 L160.59 324.97" fill="none" stroke="#222" stroke-width="0.7"/>
<path d="M177.17 319.9 L179.27 322.1" fill="none" stroke="#222" stroke-width="0.7"/>
<path d="M195.12 317.19 L197.39 319.32" fill="none" stroke="#222" stroke-width="0.7"/>
<path d="M212.54 314.56 L214.97 316.63" fill="none" stroke="#222" stroke-width="0.7"/>
<path d="M229.45 312 L232.04 314.01" fill="none" stroke="#222" stroke-width="0.7"/>
<path d="M245.87 309.52 L248.6 311.48" fill="none" stroke="#222" stroke-width="0.7"/>
<path d="M261.83 307.11 L264.7 309.01" fill="none" stroke="#222" stroke-width="0.7"/>
<path d="M62.49 289.55 L62.64 289.43 L62.79 289.24 L62.93 288.85 L63.04 288.15 L63.14 287.06 L63.23 285.85 L63.32 284.72 L63.43 283.79 L63.56 283.12 L63.7 282.66 L63.85 282.28 L64 281.96 L64.16 281.7 L64.32 281.49 L64.48 281.36 L64.66 281.3 L64.84 281.34 L65.03 281.5 L65.23 281.84 L65.44 282.4 L65.67 283.17 L65.91 284.1 L66.16 285.16 L66.42 286.28 L66.67 287.4 L66.92 288.45 L67.17 289.41 L67.42 290.39 L67.67 291.39 L67.92 292.39 L68.18 293.4 L68.43 294.41 L68.69 295.4 L68.94 296.38 L69.2 297.37 L69.46 298.37 L69.72 299.36 L69.98 300.32 L70.24 301.25 L70.5 302.13 L70.75 302.93 L71 303.67 L71.25 304.36 L71.5 305.02 L71.75 305.64 L72 306.24 L72.25 306.82 L72.5 307.39 L72.74 307.85 L72.98 308.22 L73.23 308.57 L73.47 309.01 L73.74 309.67 L74.02 310.71 L74.33 312.12 L74.67 314.1 L75.06 316.89 L75.56 321.57 L76.13 327.67" fill="none" stroke="#f03030" stroke-width="1.75" stroke-linejoin="round" stroke-linecap="round"/>
<path d="M62.25 285.79 L62.39 285.4 L62.52 284.95 L62.64 284.32 L62.75 283.45 L62.84 282.28 L62.92 281.01 L63.02 279.81 L63.12 278.8 L63.24 278 L63.37 277.4 L63.51 276.89 L63.66 276.44 L63.81 276.05 L63.96 275.73 L64.12 275.47 L64.29 275.28 L64.46 275.18 L64.64 275.18 L64.83 275.33 L65.03 275.67 L65.24 276.18 L65.47 276.84 L65.7 277.59 L65.94 278.41 L66.18 279.24 L66.41 280.04 L66.65 280.8 L66.89 281.58 L67.13 282.41 L67.38 283.26 L67.62 284.14 L67.87 285.03 L68.12 285.93 L68.38 286.87 L68.64 287.84 L68.9 288.84 L69.16 289.84 L69.42 290.81 L69.68 291.73 L69.94 292.57 L70.19 293.31 L70.43 293.93 L70.68 294.45 L70.91 294.92 L71.15 295.36 L71.4 295.8 L71.64 296.3 L71.89 296.89 L72.15 297.46 L72.4 298.02 L72.66 298.64 L72.93 299.41 L73.21 300.47 L73.53 301.97 L73.87 303.96 L74.25 306.56 L74.67 309.97 L75.19 315.02 L75.79 321.52" fill="none" stroke="#2a3cf0" stroke-width="1.75" stroke-linejoin="round" stroke-linecap="round"/>
<path d="M62.02 282.21 L62.14 281.56 L62.26 280.84 L62.37 279.99 L62.46 278.96 L62.55 277.7 L62.63 276.37 L62.72 275.12 L62.82 274.02 L62.93 273.1 L63.06 272.36 L63.19 271.72 L63.33 271.15 L63.47 270.65 L63.62 270.2 L63.77 269.82 L63.93 269.51 L64.09 269.27 L64.26 269.12 L64.44 269.09 L64.63 269.22 L64.83 269.48 L65.04 269.86 L65.26 270.33 L65.48 270.86 L65.7 271.41 L65.92 271.97 L66.15 272.51 L66.38 273.11 L66.61 273.77 L66.85 274.48 L67.09 275.23 L67.33 276 L67.58 276.82 L67.83 277.71 L68.09 278.67 L68.35 279.67 L68.62 280.67 L68.88 281.64 L69.14 282.56 L69.4 283.37 L69.64 284.04 L69.88 284.54 L70.12 284.91 L70.35 285.19 L70.58 285.45 L70.81 285.75 L71.06 286.16 L71.31 286.77 L71.57 287.44 L71.84 288.19 L72.11 289.07 L72.4 290.18 L72.71 291.62 L73.05 293.57 L73.42 296.11 L73.84 299.33 L74.3 303.34 L74.84 308.74 L75.46 315.62" fill="none" stroke="#f03cf0" stroke-width="1.75" stroke-linejoin="round" stroke-linecap="round"/>
<path d="M61.81 278.82 L61.91 277.93 L62.01 276.96 L62.11 275.9 L62.2 274.71 L62.28 273.37 L62.36 272 L62.44 270.69 L62.54 269.51 L62.64 268.48 L62.76 267.6 L62.88 266.83 L63.02 266.15 L63.15 265.54 L63.29 264.98 L63.44 264.49 L63.59 264.05 L63.75 263.69 L63.91 263.39 L64.08 263.19 L64.26 263.11 L64.45 263.13 L64.64 263.25 L64.84 263.45 L65.04 263.69 L65.25 263.99 L65.46 264.31 L65.67 264.65 L65.89 265.07 L66.12 265.57 L66.35 266.14 L66.58 266.77 L66.82 267.43 L67.06 268.17 L67.32 269.02 L67.57 269.96 L67.84 270.95 L68.1 271.96 L68.37 272.94 L68.63 273.85 L68.88 274.64 L69.13 275.24 L69.36 275.63 L69.59 275.84 L69.81 275.95 L70.03 276.03 L70.26 276.19 L70.5 276.52 L70.76 277.14 L71.02 277.92 L71.3 278.85 L71.59 279.98 L71.9 281.4 L72.23 283.22 L72.6 285.6 L73 288.67 L73.45 292.48 L73.94 297.05 L74.5 302.8 L75.14 310.03" fill="none" stroke="#28a028" stroke-width="1.75" stroke-linejoin="round" stroke-linecap="round"/>
<path d="M61.61 275.7 L61.7 274.58 L61.79 273.39 L61.87 272.13 L61.95 270.79 L62.03 269.38 L62.1 267.96 L62.19 266.6 L62.28 265.34 L62.38 264.2 L62.48 263.2 L62.6 262.32 L62.73 261.53 L62.86 260.81 L62.99 260.15 L63.14 259.55 L63.28 259.01 L63.43 258.52 L63.59 258.09 L63.75 257.73 L63.91 257.45 L64.09 257.26 L64.27 257.13 L64.45 257.07 L64.64 257.06 L64.83 257.1 L65.03 257.2 L65.23 257.36 L65.44 257.61 L65.66 257.97 L65.88 258.4 L66.11 258.91 L66.34 259.47 L66.58 260.13 L66.83 260.95 L67.09 261.87 L67.36 262.86 L67.62 263.87 L67.89 264.86 L68.15 265.76 L68.41 266.52 L68.65 267.07 L68.88 267.34 L69.1 267.41 L69.31 267.36 L69.52 267.28 L69.74 267.3 L69.98 267.55 L70.24 268.19 L70.51 269.07 L70.8 270.16 L71.11 271.53 L71.43 273.25 L71.79 275.42 L72.18 278.2 L72.61 281.77 L73.09 286.13 L73.62 291.23 L74.19 297.3 L74.85 304.87" fill="none" stroke="#9a3cf0" stroke-width="1.75" stroke-linejoin="round" stroke-linecap="round"/>
<path d="M61.44 272.95 L61.51 271.63 L61.59 270.23 L61.66 268.8 L61.73 267.34 L61.8 265.86 L61.88 264.4 L61.96 262.98 L62.05 261.66 L62.14 260.43 L62.24 259.31 L62.35 258.33 L62.47 257.45 L62.6 256.64 L62.73 255.89 L62.87 255.2 L63.01 254.55 L63.15 253.95 L63.3 253.4 L63.45 252.9 L63.61 252.45 L63.77 252.06 L63.94 251.72 L64.11 251.43 L64.28 251.18 L64.46 251.01 L64.65 250.91 L64.84 250.9 L65.04 251 L65.25 251.22 L65.47 251.54 L65.69 251.95 L65.92 252.41 L66.16 253.01 L66.41 253.79 L66.67 254.7 L66.93 255.69 L67.2 256.7 L67.47 257.69 L67.73 258.59 L67.98 259.33 L68.22 259.82 L68.45 260 L68.66 259.93 L68.87 259.73 L69.07 259.51 L69.29 259.4 L69.52 259.59 L69.78 260.24 L70.06 261.21 L70.36 262.45 L70.68 264.03 L71.02 266.02 L71.39 268.5 L71.81 271.65 L72.27 275.66 L72.78 280.51 L73.33 286.08 L73.92 292.44 L74.6 300.3" fill="none" stroke="#8a1c1c" stroke-width="1.75" stroke-linejoin="round" stroke-linecap="round"/>
<path d="M61.31 270.95 L61.38 269.48 L61.44 267.93 L61.51 266.37 L61.57 264.82 L61.64 263.29 L61.72 261.8 L61.79 260.35 L61.88 258.98 L61.97 257.68 L62.07 256.48 L62.17 255.43 L62.29 254.47 L62.41 253.6 L62.54 252.78 L62.67 252.02 L62.8 251.3 L62.94 250.62 L63.09 249.98 L63.23 249.38 L63.38 248.81 L63.54 248.27 L63.69 247.77 L63.86 247.31 L64.02 246.89 L64.19 246.55 L64.37 246.31 L64.56 246.18 L64.75 246.17 L64.96 246.29 L65.17 246.53 L65.39 246.86 L65.61 247.25 L65.85 247.8 L66.1 248.55 L66.36 249.45 L66.62 250.44 L66.89 251.46 L67.16 252.45 L67.42 253.34 L67.67 254.07 L67.91 254.52 L68.13 254.62 L68.34 254.46 L68.54 254.15 L68.74 253.82 L68.95 253.63 L69.18 253.76 L69.45 254.43 L69.73 255.46 L70.04 256.81 L70.37 258.55 L70.72 260.73 L71.11 263.45 L71.53 266.86 L72.01 271.2 L72.54 276.4 L73.11 282.33 L73.72 288.89 L74.41 296.97" fill="none" stroke="#9a2a9a" stroke-width="1.75" stroke-linejoin="round" stroke-linecap="round"/>
<path d="M61.14 268.25 L61.19 266.5 L61.23 264.66 L61.28 262.79 L61.33 260.94 L61.38 259.11 L61.44 257.33 L61.5 255.6 L61.56 253.94 L61.64 252.38 L61.72 250.94 L61.81 249.66 L61.92 248.5 L62.03 247.43 L62.14 246.43 L62.27 245.49 L62.39 244.6 L62.52 243.77 L62.66 242.97 L62.79 242.21 L62.94 241.49 L63.08 240.8 L63.23 240.16 L63.38 239.55 L63.54 238.99 L63.7 238.52 L63.88 238.15 L64.06 237.91 L64.25 237.8 L64.45 237.83 L64.66 237.98 L64.87 238.24 L65.09 238.57 L65.33 239.08 L65.58 239.81 L65.84 240.71 L66.1 241.7 L66.37 242.73 L66.64 243.71 L66.9 244.59 L67.16 245.25 L67.39 245.59 L67.6 245.54 L67.8 245.17 L67.99 244.62 L68.17 244.04 L68.37 243.58 L68.59 243.48 L68.84 243.95 L69.12 244.79 L69.41 245.95 L69.73 247.53 L70.08 249.59 L70.47 252.28 L70.9 255.78 L71.4 260.31 L71.95 265.84 L72.55 272.25 L73.19 279.51 L73.95 288.7" fill="none" stroke="#22e0e8" stroke-width="1.75" stroke-linejoin="round" stroke-linecap="round"/>
<path d="M57.34 217.75 L57.94 225.26 L59.35 245.64 L61.11 270.52 L61.14 268.25" fill="none" stroke="#22e0e8" stroke-width="1.9" stroke-dasharray="1.8,0.5"/>
<path d="M96.68 285.62 L96.93 285.49 L97.18 285.3 L97.43 284.9 L97.67 284.21 L97.89 283.14 L98.11 281.94 L98.34 280.82 L98.58 279.91 L98.83 279.24 L99.08 278.78 L99.35 278.4 L99.62 278.07 L99.89 277.8 L100.16 277.59 L100.44 277.45 L100.73 277.38 L101.02 277.4 L101.32 277.55 L101.62 277.86 L101.94 278.4 L102.26 279.13 L102.59 280.03 L102.93 281.05 L103.27 282.12 L103.61 283.2 L103.96 284.21 L104.3 285.14 L104.64 286.08 L104.99 287.03 L105.33 288 L105.68 288.97 L106.03 289.93 L106.39 290.88 L106.74 291.82 L107.1 292.77 L107.45 293.73 L107.81 294.67 L108.17 295.6 L108.53 296.49 L108.89 297.32 L109.26 298.09 L109.62 298.79 L109.98 299.45 L110.34 300.06 L110.7 300.65 L111.07 301.22 L111.43 301.77 L111.8 302.31 L112.17 302.73 L112.54 303.07 L112.9 303.4 L113.28 303.8 L113.66 304.42 L114.06 305.42 L114.47 306.78 L114.89 308.67 L115.35 311.37 L115.85 315.9 L116.4 321.82" fill="none" stroke="#f03030" stroke-width="1.75" stroke-linejoin="round" stroke-linecap="round"/>
<path d="M96.52 281.96 L96.77 281.55 L97.01 281.1 L97.25 280.48 L97.48 279.62 L97.71 278.46 L97.93 277.2 L98.15 276.01 L98.38 274.97 L98.62 274.12 L98.87 273.42 L99.13 272.78 L99.39 272.19 L99.65 271.65 L99.92 271.18 L100.19 270.78 L100.46 270.46 L100.75 270.26 L101.04 270.18 L101.33 270.26 L101.64 270.54 L101.96 270.99 L102.28 271.6 L102.61 272.32 L102.94 273.1 L103.28 273.9 L103.61 274.67 L103.95 275.39 L104.28 276.13 L104.63 276.9 L104.97 277.7 L105.32 278.53 L105.66 279.39 L106.02 280.25 L106.37 281.12 L106.73 282.02 L107.08 282.93 L107.44 283.85 L107.81 284.74 L108.17 285.61 L108.53 286.43 L108.89 287.19 L109.26 287.89 L109.62 288.53 L109.98 289.11 L110.35 289.63 L110.71 290.1 L111.08 290.52 L111.44 290.91 L111.81 291.19 L112.17 291.38 L112.54 291.57 L112.91 291.83 L113.29 292.32 L113.69 293.19 L114.1 294.43 L114.53 296.32 L114.99 299.2 L115.51 304.19 L116.08 310.81" fill="none" stroke="#2a3cf0" stroke-width="1.75" stroke-linejoin="round" stroke-linecap="round"/>
<path d="M96.38 278.45 L96.62 277.79 L96.85 277.08 L97.08 276.24 L97.31 275.23 L97.53 273.98 L97.74 272.66 L97.97 271.4 L98.19 270.25 L98.43 269.21 L98.67 268.28 L98.92 267.39 L99.17 266.55 L99.42 265.76 L99.68 265.03 L99.94 264.38 L100.21 263.83 L100.49 263.4 L100.77 263.1 L101.06 262.96 L101.36 262.99 L101.66 263.17 L101.98 263.49 L102.3 263.92 L102.62 264.42 L102.95 264.96 L103.28 265.49 L103.61 266 L103.94 266.55 L104.28 267.15 L104.62 267.79 L104.96 268.48 L105.31 269.22 L105.66 270.01 L106.01 270.82 L106.37 271.66 L106.73 272.53 L107.09 273.41 L107.45 274.27 L107.82 275.12 L108.18 275.93 L108.55 276.68 L108.91 277.37 L109.28 277.99 L109.64 278.54 L110 279 L110.37 279.37 L110.73 279.67 L111.1 279.91 L111.46 280.05 L111.82 280.1 L112.19 280.14 L112.56 280.27 L112.94 280.63 L113.33 281.38 L113.74 282.51 L114.17 284.38 L114.64 287.44 L115.18 292.88 L115.78 300.18" fill="none" stroke="#f03cf0" stroke-width="1.75" stroke-linejoin="round" stroke-linecap="round"/>
<path d="M96.25 275.15 L96.47 274.24 L96.7 273.29 L96.92 272.25 L97.14 271.08 L97.36 269.76 L97.57 268.38 L97.79 267.06 L98.02 265.79 L98.25 264.58 L98.48 263.43 L98.72 262.3 L98.96 261.22 L99.2 260.18 L99.45 259.22 L99.71 258.33 L99.97 257.55 L100.24 256.9 L100.51 256.4 L100.8 256.05 L101.09 255.83 L101.39 255.76 L101.69 255.81 L102 255.95 L102.32 256.19 L102.64 256.47 L102.96 256.77 L103.29 257.08 L103.61 257.45 L103.95 257.88 L104.28 258.36 L104.62 258.92 L104.97 259.56 L105.32 260.26 L105.67 261.01 L106.03 261.81 L106.39 262.63 L106.75 263.47 L107.12 264.31 L107.48 265.14 L107.85 265.93 L108.21 266.68 L108.58 267.36 L108.95 267.97 L109.31 268.49 L109.68 268.88 L110.04 269.16 L110.4 269.35 L110.77 269.44 L111.13 269.43 L111.49 269.35 L111.85 269.26 L112.22 269.25 L112.6 269.48 L112.99 270.12 L113.4 271.14 L113.84 272.99 L114.31 276.24 L114.87 282.11 L115.48 290.07" fill="none" stroke="#28a028" stroke-width="1.75" stroke-linejoin="round" stroke-linecap="round"/>
<path d="M96.12 272.1 L96.34 270.96 L96.55 269.79 L96.77 268.56 L96.98 267.25 L97.2 265.85 L97.41 264.43 L97.63 263.04 L97.85 261.67 L98.08 260.3 L98.3 258.94 L98.53 257.6 L98.77 256.29 L99 255.03 L99.25 253.83 L99.49 252.73 L99.75 251.74 L100.01 250.89 L100.28 250.2 L100.56 249.64 L100.84 249.2 L101.13 248.88 L101.43 248.68 L101.73 248.56 L102.04 248.54 L102.35 248.58 L102.67 248.67 L102.99 248.8 L103.31 248.99 L103.64 249.26 L103.97 249.59 L104.31 250.03 L104.65 250.57 L105 251.2 L105.36 251.89 L105.71 252.64 L106.07 253.43 L106.44 254.23 L106.8 255.05 L107.17 255.86 L107.54 256.64 L107.91 257.38 L108.28 258.06 L108.64 258.65 L109.01 259.13 L109.37 259.46 L109.74 259.66 L110.1 259.73 L110.46 259.7 L110.82 259.56 L111.18 259.34 L111.54 259.12 L111.91 258.99 L112.28 259.1 L112.68 259.63 L113.08 260.54 L113.52 262.39 L114.01 265.8 L114.58 272.09 L115.21 280.66" fill="none" stroke="#9a3cf0" stroke-width="1.75" stroke-linejoin="round" stroke-linecap="round"/>
<path d="M96.01 269.42 L96.22 268.07 L96.43 266.7 L96.64 265.3 L96.85 263.87 L97.06 262.41 L97.27 260.94 L97.49 259.5 L97.71 258.04 L97.93 256.52 L98.15 254.98 L98.37 253.44 L98.6 251.93 L98.83 250.47 L99.06 249.08 L99.3 247.78 L99.55 246.6 L99.81 245.57 L100.07 244.7 L100.34 243.97 L100.62 243.33 L100.91 242.8 L101.19 242.36 L101.49 242.02 L101.79 241.77 L102.1 241.59 L102.41 241.48 L102.72 241.45 L103.04 241.49 L103.37 241.61 L103.7 241.81 L104.03 242.14 L104.37 242.6 L104.72 243.16 L105.08 243.8 L105.43 244.5 L105.79 245.25 L106.16 246.03 L106.52 246.82 L106.89 247.61 L107.26 248.39 L107.63 249.12 L108 249.79 L108.37 250.37 L108.74 250.83 L109.1 251.1 L109.47 251.22 L109.83 251.19 L110.18 251.04 L110.54 250.78 L110.9 250.45 L111.26 250.11 L111.63 249.87 L112 249.88 L112.4 250.3 L112.8 251.12 L113.24 252.95 L113.73 256.51 L114.32 263.17 L114.97 272.3" fill="none" stroke="#8a1c1c" stroke-width="1.75" stroke-linejoin="round" stroke-linecap="round"/>
<path d="M95.93 267.46 L96.13 265.97 L96.34 264.45 L96.54 262.93 L96.75 261.42 L96.96 259.9 L97.17 258.4 L97.39 256.92 L97.6 255.39 L97.82 253.77 L98.04 252.1 L98.25 250.42 L98.47 248.76 L98.7 247.15 L98.93 245.61 L99.16 244.17 L99.41 242.85 L99.66 241.69 L99.92 240.7 L100.19 239.83 L100.46 239.04 L100.74 238.35 L101.02 237.75 L101.31 237.23 L101.61 236.81 L101.91 236.48 L102.22 236.23 L102.53 236.08 L102.84 236.01 L103.17 236.02 L103.49 236.12 L103.83 236.37 L104.17 236.76 L104.52 237.28 L104.87 237.88 L105.23 238.55 L105.59 239.27 L105.95 240.03 L106.32 240.8 L106.69 241.58 L107.06 242.35 L107.43 243.07 L107.8 243.74 L108.17 244.31 L108.54 244.75 L108.91 244.98 L109.27 245.04 L109.63 244.94 L109.98 244.7 L110.34 244.35 L110.7 243.93 L111.06 243.51 L111.42 243.19 L111.8 243.11 L112.19 243.47 L112.6 244.21 L113.04 246.03 L113.53 249.71 L114.13 256.64 L114.79 266.18" fill="none" stroke="#9a2a9a" stroke-width="1.75" stroke-linejoin="round" stroke-linecap="round"/>
<path d="M95.82 264.83 L96.03 263.38 L96.23 261.92 L96.44 260.44 L96.65 258.93 L96.86 257.39 L97.07 255.82 L97.28 254.21 L97.49 252.46 L97.69 250.53 L97.89 248.49 L98.1 246.42 L98.3 244.36 L98.51 242.38 L98.73 240.51 L98.96 238.79 L99.19 237.25 L99.44 235.97 L99.7 234.94 L99.97 234.14 L100.25 233.52 L100.54 233.03 L100.83 232.66 L101.13 232.39 L101.44 232.22 L101.75 232.12 L102.07 232.1 L102.38 232.14 L102.71 232.23 L103.04 232.38 L103.37 232.58 L103.7 232.84 L104.05 233.28 L104.4 233.92 L104.76 234.73 L105.13 235.67 L105.5 236.71 L105.88 237.79 L106.25 238.85 L106.63 239.83 L107 240.65 L107.37 241.27 L107.74 241.89 L108.12 242.52 L108.49 243.05 L108.86 243.39 L109.22 243.46 L109.57 243.26 L109.92 242.79 L110.27 242.08 L110.61 241.13 L110.95 240.02 L111.29 238.8 L111.63 237.5 L111.97 236.13 L112.31 234.7 L112.66 233.24 L113 231.74 L113.35 230.21 L113.71 228.69" fill="none" stroke="#22e0e8" stroke-width="1.75" stroke-linejoin="round" stroke-linecap="round"/>
<path d="M92.61 210.06 L93.13 217.96 L94.35 242.79 L95.63 267.06 L95.82 264.83" fill="none" stroke="#22e0e8" stroke-width="1.9" stroke-dasharray="1.8,0.5"/>
<path d="M129.13 281.9 L129.47 281.76 L129.82 281.56 L130.17 281.16 L130.51 280.47 L130.85 279.41 L131.19 278.23 L131.54 277.13 L131.89 276.22 L132.25 275.56 L132.61 275.11 L132.98 274.72 L133.35 274.39 L133.72 274.11 L134.1 273.9 L134.48 273.74 L134.87 273.67 L135.26 273.68 L135.65 273.81 L136.05 274.11 L136.45 274.62 L136.86 275.32 L137.27 276.18 L137.69 277.16 L138.11 278.2 L138.53 279.24 L138.95 280.21 L139.38 281.1 L139.8 282 L140.23 282.92 L140.66 283.85 L141.1 284.78 L141.53 285.7 L141.97 286.61 L142.41 287.51 L142.85 288.43 L143.3 289.35 L143.74 290.26 L144.19 291.14 L144.64 291.99 L145.1 292.79 L145.55 293.52 L146.01 294.19 L146.47 294.81 L146.93 295.4 L147.39 295.96 L147.86 296.49 L148.33 297.01 L148.8 297.52 L149.28 297.92 L149.76 298.23 L150.24 298.53 L150.72 298.91 L151.21 299.49 L151.7 300.44 L152.2 301.75 L152.7 303.58 L153.21 306.19 L153.73 310.57 L154.25 316.32" fill="none" stroke="#f03030" stroke-width="1.75" stroke-linejoin="round" stroke-linecap="round"/>
<path d="M129.05 278.32 L129.4 277.92 L129.74 277.45 L130.09 276.82 L130.43 275.97 L130.77 274.82 L131.11 273.59 L131.45 272.44 L131.8 271.45 L132.16 270.69 L132.52 270.09 L132.89 269.58 L133.26 269.12 L133.63 268.7 L134.01 268.34 L134.39 268.03 L134.77 267.79 L135.16 267.62 L135.55 267.55 L135.95 267.62 L136.35 267.87 L136.75 268.28 L137.16 268.82 L137.58 269.47 L138 270.17 L138.42 270.88 L138.84 271.56 L139.26 272.19 L139.69 272.86 L140.11 273.58 L140.55 274.38 L140.98 275.24 L141.42 276.14 L141.86 277.07 L142.3 278.01 L142.75 278.95 L143.19 279.86 L143.64 280.71 L144.09 281.47 L144.55 282.12 L145 282.63 L145.45 283.03 L145.91 283.32 L146.37 283.53 L146.83 283.69 L147.3 283.8 L147.76 283.88 L148.23 283.95 L148.71 284.01 L149.18 284 L149.66 283.96 L150.15 283.96 L150.63 284.15 L151.13 284.69 L151.62 285.83 L152.13 287.83 L152.64 290.69 L153.16 294.03 L153.68 299.2 L154.21 305.6" fill="none" stroke="#2a3cf0" stroke-width="1.75" stroke-linejoin="round" stroke-linecap="round"/>
<path d="M128.99 274.89 L129.33 274.24 L129.67 273.52 L130.01 272.68 L130.35 271.66 L130.69 270.44 L131.03 269.16 L131.37 267.95 L131.72 266.89 L132.08 266.02 L132.44 265.3 L132.8 264.66 L133.17 264.07 L133.54 263.53 L133.92 263.02 L134.3 262.57 L134.68 262.16 L135.07 261.82 L135.46 261.56 L135.85 261.41 L136.25 261.4 L136.65 261.52 L137.06 261.76 L137.47 262.08 L137.89 262.46 L138.3 262.86 L138.72 263.25 L139.15 263.62 L139.57 264.06 L140 264.6 L140.43 265.27 L140.87 266.05 L141.31 266.93 L141.75 267.88 L142.2 268.85 L142.65 269.82 L143.1 270.73 L143.55 271.53 L144 272.16 L144.45 272.61 L144.91 272.85 L145.36 272.92 L145.82 272.83 L146.28 272.65 L146.74 272.38 L147.2 272.06 L147.67 271.7 L148.14 271.32 L148.61 270.94 L149.09 270.54 L149.57 270.14 L150.06 269.85 L150.55 269.85 L151.04 270.34 L151.55 271.67 L152.06 274.36 L152.58 278.23 L153.11 282.3 L153.64 288.21 L154.17 295.26" fill="none" stroke="#f03cf0" stroke-width="1.75" stroke-linejoin="round" stroke-linecap="round"/>
<path d="M128.92 271.67 L129.26 270.78 L129.59 269.82 L129.93 268.76 L130.27 267.6 L130.61 266.3 L130.95 264.97 L131.29 263.72 L131.64 262.58 L132 261.61 L132.36 260.77 L132.72 260.01 L133.09 259.31 L133.46 258.63 L133.84 258 L134.21 257.4 L134.6 256.84 L134.98 256.33 L135.37 255.89 L135.76 255.53 L136.16 255.28 L136.56 255.12 L136.96 255.06 L137.37 255.08 L137.79 255.14 L138.2 255.24 L138.62 255.36 L139.04 255.49 L139.46 255.71 L139.89 256.07 L140.33 256.62 L140.76 257.32 L141.21 258.18 L141.65 259.15 L142.1 260.16 L142.55 261.16 L143 262.06 L143.46 262.8 L143.91 263.32 L144.36 263.58 L144.82 263.55 L145.27 263.3 L145.73 262.86 L146.19 262.29 L146.65 261.61 L147.11 260.87 L147.58 260.08 L148.05 259.27 L148.52 258.47 L149 257.67 L149.49 256.93 L149.97 256.36 L150.47 256.18 L150.97 256.63 L151.48 258.13 L152 261.5 L152.53 266.35 L153.06 271.11 L153.6 277.76 L154.14 285.43" fill="none" stroke="#28a028" stroke-width="1.75" stroke-linejoin="round" stroke-linecap="round"/>
<path d="M128.86 268.69 L129.2 267.59 L129.53 266.4 L129.86 265.15 L130.2 263.84 L130.54 262.47 L130.88 261.1 L131.22 259.8 L131.57 258.6 L131.93 257.54 L132.29 256.58 L132.65 255.72 L133.02 254.9 L133.39 254.11 L133.76 253.35 L134.14 252.62 L134.52 251.92 L134.9 251.26 L135.29 250.64 L135.68 250.09 L136.07 249.61 L136.47 249.2 L136.87 248.86 L137.28 248.59 L137.69 248.37 L138.1 248.19 L138.52 248.04 L138.94 247.94 L139.36 247.96 L139.79 248.15 L140.23 248.58 L140.67 249.22 L141.11 250.06 L141.56 251.04 L142.01 252.09 L142.46 253.11 L142.92 254.01 L143.37 254.7 L143.83 255.11 L144.28 255.18 L144.73 254.91 L145.19 254.36 L145.64 253.58 L146.1 252.64 L146.56 251.59 L147.03 250.44 L147.49 249.25 L147.96 248.04 L148.44 246.83 L148.92 245.67 L149.4 244.6 L149.89 243.76 L150.39 243.41 L150.9 243.81 L151.41 245.48 L151.94 249.48 L152.48 255.27 L153.01 260.69 L153.56 268.03 L154.1 276.28" fill="none" stroke="#9a3cf0" stroke-width="1.75" stroke-linejoin="round" stroke-linecap="round"/>
<path d="M128.81 266.07 L129.14 264.77 L129.47 263.38 L129.8 261.96 L130.14 260.53 L130.47 259.1 L130.81 257.69 L131.16 256.35 L131.51 255.09 L131.86 253.94 L132.22 252.88 L132.58 251.93 L132.95 251.01 L133.32 250.12 L133.69 249.24 L134.07 248.39 L134.45 247.57 L134.83 246.77 L135.22 246 L135.61 245.28 L136 244.6 L136.39 243.96 L136.79 243.38 L137.2 242.85 L137.61 242.36 L138.02 241.93 L138.43 241.56 L138.85 241.25 L139.27 241.09 L139.7 241.13 L140.14 241.46 L140.58 242.04 L141.02 242.86 L141.47 243.85 L141.93 244.93 L142.38 245.98 L142.84 246.88 L143.3 247.52 L143.75 247.82 L144.21 247.74 L144.66 247.24 L145.11 246.43 L145.57 245.34 L146.03 244.08 L146.49 242.68 L146.95 241.18 L147.42 239.62 L147.89 238.04 L148.37 236.47 L148.85 234.97 L149.33 233.61 L149.82 232.53 L150.32 232.02 L150.83 232.38 L151.35 234.21 L151.89 238.78 L152.43 245.4 L152.97 251.43 L153.52 259.38 L154.08 268.16" fill="none" stroke="#8a1c1c" stroke-width="1.75" stroke-linejoin="round" stroke-linecap="round"/>
<path d="M128.77 264.16 L129.1 262.72 L129.43 261.19 L129.76 259.64 L130.09 258.12 L130.43 256.64 L130.77 255.21 L131.11 253.84 L131.46 252.54 L131.82 251.32 L132.17 250.19 L132.54 249.17 L132.9 248.18 L133.27 247.21 L133.64 246.25 L134.02 245.32 L134.4 244.4 L134.78 243.5 L135.16 242.62 L135.55 241.77 L135.94 240.94 L136.34 240.14 L136.74 239.38 L137.14 238.66 L137.54 237.98 L137.95 237.37 L138.37 236.82 L138.79 236.37 L139.21 236.07 L139.64 236 L140.07 236.25 L140.51 236.79 L140.96 237.59 L141.41 238.6 L141.87 239.7 L142.33 240.76 L142.78 241.66 L143.24 242.26 L143.7 242.5 L144.15 242.29 L144.61 241.63 L145.06 240.62 L145.52 239.31 L145.97 237.81 L146.43 236.15 L146.9 234.38 L147.36 232.56 L147.84 230.7 L148.31 228.87 L148.79 227.12 L149.28 225.54 L149.77 224.28 L150.27 223.65 L150.79 223.98 L151.31 225.93 L151.85 230.93 L152.4 238.17 L152.95 244.63 L153.5 253.05 L154.05 262.22" fill="none" stroke="#9a2a9a" stroke-width="1.75" stroke-linejoin="round" stroke-linecap="round"/>
<path d="M128.72 261.59 L129.05 260.24 L129.38 258.85 L129.72 257.46 L130.05 256.06 L130.39 254.66 L130.73 253.26 L131.08 251.85 L131.42 250.46 L131.78 249.07 L132.13 247.7 L132.49 246.35 L132.85 244.99 L133.21 243.61 L133.58 242.23 L133.94 240.84 L134.32 239.47 L134.69 238.11 L135.07 236.78 L135.46 235.49 L135.84 234.26 L136.23 233.11 L136.63 232.09 L137.03 231.22 L137.44 230.5 L137.85 230.02 L138.27 229.8 L138.7 229.82 L139.13 229.96 L139.56 230.13 L140 230.46 L140.45 231.13 L140.9 231.99 L141.35 232.91 L141.8 233.8 L142.26 234.56 L142.71 235.12 L143.17 235.43 L143.63 235.45 L144.08 235.12 L144.54 234.39 L144.99 233.36 L145.45 232.09 L145.91 230.67 L146.37 229.13 L146.84 227.5 L147.31 225.82 L147.79 224.11 L148.27 222.41 L148.75 220.73 L149.24 219.15 L149.73 217.71 L150.23 216.59 L150.74 216.07 L151.26 216.61 L151.79 219.87 L152.35 228.53 L152.9 235.19 L153.46 243.44 L154.02 252.19" fill="none" stroke="#22e0e8" stroke-width="1.75" stroke-linejoin="round" stroke-linecap="round"/>
<path d="M126.27 203.27 L126.69 211.49 L127.53 240.1 L128.39 263.77 L128.72 261.59" fill="none" stroke="#22e0e8" stroke-width="1.9" stroke-dasharray="1.8,0.5"/>
<path d="M159.97 278.36 L160.4 278.21 L160.84 278 L161.27 277.61 L161.71 276.92 L162.16 275.87 L162.6 274.71 L163.05 273.62 L163.51 272.73 L163.96 272.08 L164.42 271.62 L164.88 271.23 L165.34 270.9 L165.81 270.62 L166.28 270.39 L166.75 270.23 L167.22 270.15 L167.7 270.15 L168.18 270.27 L168.66 270.54 L169.14 271.03 L169.63 271.71 L170.11 272.54 L170.6 273.48 L171.09 274.48 L171.58 275.48 L172.07 276.42 L172.57 277.28 L173.07 278.14 L173.57 279.03 L174.08 279.92 L174.59 280.82 L175.1 281.71 L175.61 282.58 L176.13 283.45 L176.65 284.32 L177.17 285.21 L177.69 286.08 L178.22 286.93 L178.75 287.74 L179.29 288.51 L179.83 289.21 L180.37 289.85 L180.91 290.44 L181.46 291 L182.02 291.52 L182.57 292.03 L183.14 292.53 L183.7 293 L184.27 293.38 L184.84 293.67 L185.42 293.94 L186 294.29 L186.59 294.85 L187.16 295.76 L187.74 297.01 L188.31 298.78 L188.87 301.3 L189.39 305.56 L189.89 311.13" fill="none" stroke="#f03030" stroke-width="1.75" stroke-linejoin="round" stroke-linecap="round"/>
<path d="M159.97 274.85 L160.4 274.56 L160.84 274.23 L161.28 273.74 L161.72 273.03 L162.16 272.02 L162.61 270.9 L163.06 269.85 L163.52 268.95 L163.97 268.23 L164.43 267.66 L164.89 267.14 L165.36 266.64 L165.83 266.17 L166.3 265.7 L166.77 265.25 L167.25 264.85 L167.73 264.5 L168.21 264.25 L168.7 264.13 L169.18 264.19 L169.67 264.42 L170.16 264.81 L170.66 265.33 L171.15 265.93 L171.65 266.59 L172.15 267.26 L172.65 267.94 L173.15 268.69 L173.66 269.5 L174.17 270.35 L174.68 271.24 L175.19 272.15 L175.71 273.05 L176.23 273.96 L176.75 274.86 L177.28 275.76 L177.8 276.62 L178.34 277.43 L178.87 278.15 L179.41 278.76 L179.96 279.25 L180.51 279.61 L181.06 279.89 L181.62 280.08 L182.18 280.21 L182.75 280.31 L183.32 280.38 L183.9 280.45 L184.48 280.45 L185.06 280.45 L185.65 280.55 L186.24 280.86 L186.82 281.55 L187.4 282.77 L187.97 284.57 L188.53 286.87 L189.09 289.76 L189.61 294.34 L190.11 300.11" fill="none" stroke="#2a3cf0" stroke-width="1.75" stroke-linejoin="round" stroke-linecap="round"/>
<path d="M159.97 271.51 L160.4 271.08 L160.84 270.63 L161.28 270.06 L161.72 269.3 L162.17 268.33 L162.62 267.27 L163.07 266.25 L163.52 265.34 L163.98 264.56 L164.44 263.88 L164.91 263.22 L165.37 262.58 L165.84 261.91 L166.32 261.21 L166.79 260.49 L167.27 259.78 L167.76 259.1 L168.24 258.48 L168.73 257.98 L169.22 257.62 L169.72 257.43 L170.21 257.39 L170.71 257.49 L171.21 257.72 L171.71 258.04 L172.22 258.45 L172.72 258.95 L173.23 259.58 L173.74 260.32 L174.25 261.14 L174.77 262.03 L175.29 262.94 L175.8 263.88 L176.33 264.82 L176.85 265.76 L177.38 266.66 L177.91 267.52 L178.45 268.28 L178.99 268.92 L179.53 269.38 L180.08 269.66 L180.64 269.75 L181.2 269.71 L181.77 269.55 L182.34 269.3 L182.92 268.99 L183.5 268.65 L184.09 268.31 L184.68 267.96 L185.27 267.67 L185.87 267.59 L186.46 267.87 L187.05 268.68 L187.62 270.21 L188.19 272.54 L188.75 275.37 L189.3 278.62 L189.82 283.51 L190.32 289.48" fill="none" stroke="#f03cf0" stroke-width="1.75" stroke-linejoin="round" stroke-linecap="round"/>
<path d="M159.97 268.36 L160.41 267.8 L160.84 267.23 L161.28 266.58 L161.73 265.79 L162.17 264.85 L162.62 263.84 L163.08 262.85 L163.53 261.93 L163.99 261.09 L164.45 260.31 L164.92 259.53 L165.39 258.74 L165.86 257.9 L166.34 256.97 L166.81 255.99 L167.3 254.99 L167.78 253.99 L168.27 253.03 L168.77 252.16 L169.26 251.41 L169.76 250.81 L170.26 250.36 L170.76 250.06 L171.27 249.92 L171.78 249.93 L172.28 250.09 L172.8 250.41 L173.31 250.94 L173.82 251.61 L174.34 252.39 L174.85 253.27 L175.37 254.21 L175.89 255.17 L176.42 256.14 L176.95 257.11 L177.48 258.03 L178.01 258.87 L178.55 259.6 L179.09 260.15 L179.64 260.47 L180.2 260.54 L180.76 260.38 L181.33 260.04 L181.91 259.53 L182.49 258.91 L183.08 258.21 L183.67 257.48 L184.27 256.75 L184.87 256.05 L185.47 255.48 L186.07 255.22 L186.67 255.47 L187.26 256.39 L187.84 258.23 L188.4 261.07 L188.95 264.41 L189.5 268.02 L190.02 273.2 L190.53 279.36" fill="none" stroke="#28a028" stroke-width="1.75" stroke-linejoin="round" stroke-linecap="round"/>
<path d="M159.97 265.45 L160.41 264.77 L160.85 264.09 L161.29 263.37 L161.73 262.56 L162.18 261.64 L162.63 260.68 L163.08 259.72 L163.54 258.79 L164 257.89 L164.46 257.02 L164.93 256.13 L165.4 255.2 L165.87 254.19 L166.35 253.06 L166.83 251.83 L167.32 250.56 L167.81 249.26 L168.3 247.98 L168.8 246.77 L169.3 245.66 L169.8 244.68 L170.3 243.84 L170.81 243.18 L171.32 242.69 L171.83 242.4 L172.35 242.33 L172.86 242.49 L173.38 242.91 L173.89 243.51 L174.41 244.27 L174.93 245.14 L175.45 246.09 L175.98 247.08 L176.51 248.09 L177.04 249.08 L177.57 250.01 L178.11 250.85 L178.65 251.53 L179.2 252 L179.75 252.19 L180.31 252.07 L180.88 251.66 L181.46 251.04 L182.04 250.21 L182.63 249.25 L183.23 248.18 L183.83 247.07 L184.44 245.97 L185.05 244.94 L185.66 244.11 L186.27 243.68 L186.87 243.91 L187.46 244.94 L188.04 247.06 L188.6 250.39 L189.14 254.21 L189.69 258.14 L190.21 263.61 L190.71 269.94" fill="none" stroke="#9a3cf0" stroke-width="1.75" stroke-linejoin="round" stroke-linecap="round"/>
<path d="M159.97 262.89 L160.41 262.1 L160.85 261.33 L161.29 260.54 L161.73 259.7 L162.18 258.81 L162.63 257.89 L163.09 256.96 L163.55 256.02 L164.01 255.07 L164.47 254.12 L164.94 253.12 L165.41 252.08 L165.89 250.92 L166.37 249.61 L166.85 248.16 L167.34 246.65 L167.83 245.09 L168.33 243.53 L168.83 242.01 L169.33 240.57 L169.83 239.26 L170.34 238.08 L170.85 237.08 L171.37 236.29 L171.88 235.73 L172.4 235.45 L172.92 235.47 L173.44 235.8 L173.96 236.34 L174.48 237.06 L175 237.93 L175.53 238.89 L176.05 239.91 L176.58 240.95 L177.11 241.96 L177.65 242.9 L178.19 243.73 L178.73 244.38 L179.29 244.78 L179.84 244.85 L180.41 244.56 L180.99 243.93 L181.57 243.05 L182.16 241.94 L182.76 240.66 L183.36 239.26 L183.97 237.81 L184.59 236.38 L185.21 235.05 L185.83 233.98 L186.44 233.41 L187.05 233.61 L187.64 234.74 L188.22 237.12 L188.77 240.89 L189.32 245.14 L189.86 249.37 L190.38 255.09 L190.88 261.58" fill="none" stroke="#8a1c1c" stroke-width="1.75" stroke-linejoin="round" stroke-linecap="round"/>
<path d="M159.97 261.02 L160.41 260.16 L160.85 259.32 L161.29 258.48 L161.74 257.62 L162.19 256.75 L162.64 255.86 L163.09 254.95 L163.55 254 L164.01 253.02 L164.48 252.01 L164.95 250.94 L165.42 249.81 L165.9 248.54 L166.38 247.09 L166.86 245.49 L167.35 243.8 L167.85 242.05 L168.34 240.28 L168.85 238.54 L169.35 236.86 L169.86 235.3 L170.37 233.87 L170.89 232.63 L171.4 231.61 L171.92 230.85 L172.44 230.43 L172.96 230.33 L173.48 230.59 L174.01 231.09 L174.53 231.8 L175.05 232.66 L175.58 233.63 L176.11 234.67 L176.64 235.72 L177.17 236.76 L177.71 237.7 L178.25 238.53 L178.8 239.15 L179.35 239.5 L179.91 239.48 L180.48 239.06 L181.06 238.28 L181.65 237.21 L182.25 235.88 L182.85 234.37 L183.46 232.73 L184.08 231.03 L184.7 229.35 L185.32 227.8 L185.95 226.56 L186.57 225.88 L187.18 226.05 L187.77 227.26 L188.35 229.83 L188.9 233.92 L189.44 238.49 L189.98 242.94 L190.5 248.85 L191 255.46" fill="none" stroke="#9a2a9a" stroke-width="1.75" stroke-linejoin="round" stroke-linecap="round"/>
<path d="M159.97 258.51 L160.41 257.64 L160.85 256.78 L161.29 255.92 L161.74 255.05 L162.19 254.16 L162.64 253.26 L163.1 252.33 L163.56 251.37 L164.02 250.39 L164.49 249.36 L164.96 248.29 L165.43 247.17 L165.91 245.94 L166.39 244.57 L166.87 243.11 L167.36 241.57 L167.86 239.98 L168.35 238.37 L168.86 236.77 L169.36 235.18 L169.87 233.65 L170.38 232.2 L170.9 230.86 L171.42 229.69 L171.94 228.72 L172.46 228.08 L172.98 227.79 L173.51 227.83 L174.03 228.18 L174.56 228.79 L175.08 229.61 L175.61 230.57 L176.14 231.58 L176.67 232.53 L177.21 233.28 L177.75 233.68 L178.3 233.99 L178.86 234.22 L179.42 234.15 L179.99 233.75 L180.56 233.13 L181.14 232.29 L181.73 231.17 L182.33 229.88 L182.94 228.52 L183.54 227.15 L184.16 225.8 L184.77 224.53 L185.39 223.41 L186.01 222.54 L186.63 222.14 L187.24 222.56 L187.83 224.06 L188.4 226.8 L188.96 230.7 L189.51 234.85 L190.06 238.81 L190.6 243.83 L191.12 249.36" fill="none" stroke="#22e0e8" stroke-width="1.75" stroke-linejoin="round" stroke-linecap="round"/>
<path d="M158.4 206.93 L158.72 214.38 L159.04 237.54 L159.51 260.65 L159.97 258.51" fill="none" stroke="#22e0e8" stroke-width="1.9" stroke-dasharray="1.8,0.5"/>
<path d="M189.32 274.98 L189.83 274.83 L190.34 274.62 L190.86 274.22 L191.39 273.54 L191.92 272.51 L192.47 271.36 L193.01 270.29 L193.56 269.41 L194.1 268.76 L194.64 268.3 L195.18 267.91 L195.73 267.58 L196.28 267.3 L196.83 267.07 L197.38 266.9 L197.94 266.81 L198.49 266.8 L199.05 266.9 L199.6 267.17 L200.15 267.63 L200.71 268.28 L201.26 269.08 L201.8 269.99 L202.36 270.96 L202.91 271.92 L203.47 272.83 L204.03 273.65 L204.6 274.49 L205.16 275.34 L205.74 276.2 L206.31 277.06 L206.89 277.92 L207.47 278.76 L208.05 279.6 L208.64 280.44 L209.23 281.29 L209.82 282.13 L210.42 282.95 L211.02 283.73 L211.63 284.46 L212.24 285.13 L212.86 285.74 L213.48 286.31 L214.11 286.84 L214.74 287.34 L215.38 287.82 L216.02 288.28 L216.67 288.74 L217.32 289.09 L217.98 289.36 L218.64 289.61 L219.31 289.94 L219.97 290.47 L220.63 291.34 L221.27 292.55 L221.9 294.25 L222.5 296.7 L223.03 300.83 L223.51 306.25" fill="none" stroke="#f03030" stroke-width="1.75" stroke-linejoin="round" stroke-linecap="round"/>
<path d="M189.38 272.05 L189.89 272 L190.4 271.9 L190.92 271.35 L191.45 270.52 L191.99 269.42 L192.53 268.22 L193.08 267.07 L193.63 266.08 L194.18 265.27 L194.72 264.6 L195.27 263.99 L195.83 263.41 L196.38 262.86 L196.94 262.34 L197.5 261.87 L198.07 261.46 L198.63 261.12 L199.2 260.88 L199.77 260.77 L200.33 260.84 L200.9 261.08 L201.46 261.46 L202.02 261.94 L202.59 262.45 L203.16 262.98 L203.73 263.45 L204.31 263.88 L204.89 264.33 L205.47 264.82 L206.06 265.34 L206.65 265.88 L207.24 266.46 L207.83 267.05 L208.43 267.67 L209.02 268.34 L209.62 269.07 L210.22 269.84 L210.83 270.61 L211.43 271.38 L212.04 272.13 L212.66 272.83 L213.28 273.49 L213.91 274.11 L214.54 274.68 L215.18 275.22 L215.82 275.72 L216.46 276.17 L217.12 276.56 L217.78 276.8 L218.45 276.87 L219.14 276.86 L219.82 276.82 L220.51 276.88 L221.19 277.16 L221.87 277.66 L222.54 278.52 L223.19 279.96 L223.78 282.77 L224.33 286.68" fill="none" stroke="#2a3cf0" stroke-width="1.75" stroke-linejoin="round" stroke-linecap="round"/>
<path d="M189.43 269.25 L189.94 269.29 L190.45 269.3 L190.97 268.6 L191.51 267.64 L192.05 266.46 L192.6 265.21 L193.15 264 L193.7 262.9 L194.25 261.93 L194.8 261.07 L195.36 260.25 L195.92 259.43 L196.48 258.61 L197.05 257.82 L197.62 257.06 L198.19 256.34 L198.77 255.68 L199.35 255.1 L199.92 254.64 L200.5 254.33 L201.08 254.17 L201.66 254.14 L202.23 254.2 L202.81 254.28 L203.4 254.37 L203.99 254.43 L204.58 254.47 L205.17 254.55 L205.77 254.68 L206.37 254.86 L206.97 255.1 L207.58 255.4 L208.18 255.75 L208.79 256.15 L209.39 256.66 L210 257.28 L210.61 257.96 L211.22 258.7 L211.83 259.46 L212.45 260.21 L213.07 260.95 L213.69 261.65 L214.32 262.32 L214.96 262.95 L215.6 263.53 L216.24 264.04 L216.89 264.48 L217.55 264.8 L218.23 264.93 L218.91 264.81 L219.61 264.53 L220.32 264.13 L221.03 263.73 L221.74 263.43 L222.45 263.23 L223.16 263.26 L223.86 263.7 L224.51 265.19 L225.14 267.6" fill="none" stroke="#f03cf0" stroke-width="1.75" stroke-linejoin="round" stroke-linecap="round"/>
<path d="M189.48 266.61 L189.99 266.74 L190.5 266.85 L191.02 266.01 L191.56 264.93 L192.11 263.68 L192.65 262.38 L193.21 261.11 L193.76 259.9 L194.32 258.79 L194.88 257.74 L195.44 256.71 L196.01 255.67 L196.58 254.61 L197.15 253.55 L197.73 252.51 L198.31 251.5 L198.9 250.54 L199.48 249.64 L200.07 248.84 L200.66 248.17 L201.25 247.62 L201.84 247.2 L202.43 246.86 L203.03 246.53 L203.63 246.2 L204.23 245.87 L204.84 245.53 L205.44 245.25 L206.06 245.04 L206.67 244.9 L207.28 244.84 L207.9 244.87 L208.51 244.98 L209.13 245.18 L209.75 245.53 L210.36 246.03 L210.98 246.65 L211.59 247.35 L212.21 248.1 L212.83 248.86 L213.45 249.63 L214.08 250.38 L214.71 251.09 L215.35 251.77 L215.99 252.38 L216.65 252.91 L217.3 253.34 L217.97 253.6 L218.65 253.62 L219.35 253.32 L220.06 252.77 L220.79 252.03 L221.52 251.18 L222.26 250.31 L223.01 249.43 L223.76 248.65 L224.5 248.11 L225.22 248.31 L225.91 249.26" fill="none" stroke="#28a028" stroke-width="1.75" stroke-linejoin="round" stroke-linecap="round"/>
<path d="M189.53 264.18 L190.03 264.39 L190.54 264.59 L191.07 263.63 L191.61 262.42 L192.16 261.12 L192.71 259.77 L193.26 258.44 L193.82 257.14 L194.38 255.89 L194.95 254.67 L195.52 253.45 L196.09 252.2 L196.67 250.91 L197.25 249.6 L197.83 248.31 L198.42 247.03 L199.02 245.78 L199.61 244.59 L200.21 243.48 L200.81 242.47 L201.41 241.56 L202.01 240.78 L202.62 240.06 L203.23 239.34 L203.84 238.62 L204.45 237.91 L205.07 237.23 L205.7 236.61 L206.32 236.07 L206.94 235.63 L207.57 235.29 L208.2 235.07 L208.82 234.96 L209.45 234.97 L210.08 235.16 L210.7 235.56 L211.32 236.11 L211.94 236.77 L212.56 237.51 L213.19 238.29 L213.81 239.08 L214.45 239.87 L215.08 240.64 L215.72 241.36 L216.37 242 L217.02 242.55 L217.68 242.96 L218.36 243.16 L219.05 243.08 L219.76 242.61 L220.48 241.82 L221.23 240.75 L221.98 239.47 L222.75 238.06 L223.53 236.54 L224.31 234.99 L225.1 233.52 L225.88 232.48 L226.64 232.01" fill="none" stroke="#9a3cf0" stroke-width="1.75" stroke-linejoin="round" stroke-linecap="round"/>
<path d="M189.57 262.04 L190.07 262.32 L190.58 262.6 L191.11 261.53 L191.66 260.22 L192.21 258.86 L192.76 257.47 L193.32 256.08 L193.88 254.7 L194.44 253.33 L195.01 251.96 L195.58 250.58 L196.16 249.14 L196.74 247.64 L197.33 246.13 L197.92 244.6 L198.52 243.08 L199.12 241.58 L199.73 240.13 L200.33 238.73 L200.94 237.42 L201.55 236.2 L202.16 235.09 L202.78 234.04 L203.4 232.97 L204.02 231.91 L204.65 230.87 L205.28 229.87 L205.92 228.95 L206.55 228.12 L207.19 227.41 L207.83 226.82 L208.46 226.36 L209.1 226.05 L209.74 225.89 L210.37 225.95 L211 226.25 L211.63 226.73 L212.25 227.37 L212.88 228.1 L213.5 228.88 L214.14 229.7 L214.77 230.53 L215.41 231.34 L216.05 232.1 L216.7 232.77 L217.36 233.33 L218.02 233.73 L218.7 233.88 L219.4 233.71 L220.12 233.08 L220.86 232.07 L221.62 230.7 L222.39 229.04 L223.18 227.15 L223.99 225.05 L224.81 222.79 L225.64 220.48 L226.47 218.32 L227.29 216.55" fill="none" stroke="#8a1c1c" stroke-width="1.75" stroke-linejoin="round" stroke-linecap="round"/>
<path d="M189.6 260.48 L190.1 260.82 L190.61 261.16 L191.15 260 L191.69 258.61 L192.24 257.21 L192.79 255.8 L193.35 254.37 L193.91 252.93 L194.48 251.47 L195.05 249.99 L195.63 248.49 L196.21 246.91 L196.8 245.27 L197.39 243.59 L197.99 241.9 L198.59 240.2 L199.2 238.52 L199.81 236.87 L200.42 235.27 L201.04 233.74 L201.66 232.29 L202.28 230.94 L202.9 229.64 L203.53 228.32 L204.16 227 L204.8 225.71 L205.44 224.48 L206.08 223.34 L206.72 222.3 L207.37 221.38 L208.01 220.61 L208.66 219.99 L209.3 219.53 L209.94 219.24 L210.58 219.2 L211.22 219.43 L211.85 219.87 L212.48 220.48 L213.11 221.2 L213.74 221.99 L214.37 222.83 L215.01 223.68 L215.64 224.52 L216.29 225.31 L216.94 226.01 L217.6 226.58 L218.27 226.97 L218.96 227.08 L219.66 226.84 L220.39 226.09 L221.13 224.92 L221.9 223.34 L222.69 221.39 L223.5 219.14 L224.33 216.6 L225.17 213.83 L226.03 210.88 L226.9 207.88 L227.77 205.15" fill="none" stroke="#9a2a9a" stroke-width="1.75" stroke-linejoin="round" stroke-linecap="round"/>
<path d="M189.6 260.48 L190.1 260.82 L190.61 261.16 L191.13 260.71 L191.66 260.24 L192.19 259.52 L192.74 258.48 L193.29 257.08 L193.86 255.31 L194.44 253.16 L195.04 250.73 L195.64 248.15 L196.24 245.49 L196.86 242.79 L197.47 240.1 L198.1 237.45 L198.72 234.91 L199.35 232.49 L199.97 230.26 L200.6 228.31 L201.22 226.61 L201.85 225.09 L202.47 223.74 L203.09 222.56 L203.72 221.53 L204.34 220.64 L204.96 219.86 L205.59 219.18 L206.22 218.57 L206.85 218 L207.49 217.47 L208.12 216.96 L208.76 216.54 L209.4 216.21 L210.05 215.94 L210.69 215.71 L211.34 215.53 L211.99 215.38 L212.65 215.26 L213.31 215.16 L213.97 215.07 L214.64 214.99 L215.31 214.92 L215.98 214.85 L216.66 214.77 L217.35 214.67 L218.04 214.54 L218.73 214.45 L219.43 214.43 L220.12 214.47 L220.83 214.52 L221.54 214.49 L222.26 214.28 L222.99 213.83 L223.74 213.17 L224.5 212.34 L225.27 211.4 L226.05 210.38 L226.84 209.31 L227.63 208.28" fill="none" stroke="#22e0e8" stroke-width="1.75" stroke-linejoin="round" stroke-linecap="round"/>
<path d="M189.01 194.28 L189.23 202.72 L189 235.11 L189.12 257.69 L189.6 260.48" fill="none" stroke="#22e0e8" stroke-width="1.9" stroke-dasharray="1.8,0.5"/>
<path d="M217.29 271.77 L217.87 271.61 L218.45 271.4 L219.04 271 L219.64 270.33 L220.26 269.31 L220.89 268.18 L221.52 267.12 L222.15 266.25 L222.77 265.6 L223.39 265.15 L224.01 264.76 L224.63 264.42 L225.25 264.14 L225.88 263.91 L226.5 263.74 L227.13 263.63 L227.75 263.62 L228.38 263.71 L229 263.96 L229.61 264.4 L230.22 265.03 L230.83 265.8 L231.43 266.68 L232.04 267.61 L232.65 268.55 L233.26 269.42 L233.89 270.22 L234.51 271.02 L235.14 271.84 L235.77 272.67 L236.4 273.51 L237.03 274.33 L237.68 275.14 L238.32 275.94 L238.97 276.76 L239.62 277.58 L240.27 278.38 L240.93 279.17 L241.59 279.92 L242.27 280.62 L242.94 281.27 L243.63 281.85 L244.32 282.39 L245.02 282.9 L245.72 283.37 L246.43 283.83 L247.14 284.27 L247.86 284.7 L248.58 285.03 L249.32 285.28 L250.06 285.51 L250.8 285.82 L251.54 286.32 L252.26 287.16 L252.96 288.32 L253.64 289.97 L254.28 292.34 L254.81 296.36 L255.27 301.63" fill="none" stroke="#f03030" stroke-width="1.75" stroke-linejoin="round" stroke-linecap="round"/>
<path d="M217.44 267.94 L218.01 267.88 L218.59 267.77 L219.17 267.47 L219.78 266.73 L220.4 265.71 L221.03 264.59 L221.67 263.53 L222.3 262.62 L222.92 261.89 L223.55 261.3 L224.17 260.78 L224.8 260.3 L225.43 259.86 L226.06 259.46 L226.7 259.12 L227.33 258.84 L227.97 258.62 L228.61 258.5 L229.24 258.52 L229.87 258.69 L230.49 259.02 L231.12 259.49 L231.74 260.05 L232.36 260.66 L232.99 261.27 L233.62 261.85 L234.26 262.37 L234.9 262.9 L235.54 263.45 L236.19 264.01 L236.84 264.57 L237.49 265.14 L238.15 265.7 L238.81 266.25 L239.48 266.81 L240.14 267.39 L240.82 267.95 L241.49 268.51 L242.17 269.04 L242.86 269.53 L243.55 269.98 L244.25 270.39 L244.96 270.77 L245.67 271.13 L246.38 271.48 L247.1 271.84 L247.82 272.2 L248.55 272.57 L249.29 272.89 L250.03 273.16 L250.77 273.44 L251.52 273.78 L252.26 274.29 L252.99 275.07 L253.7 276.15 L254.4 277.67 L255.05 279.8 L255.63 283.28 L256.14 287.8" fill="none" stroke="#2a3cf0" stroke-width="1.75" stroke-linejoin="round" stroke-linecap="round"/>
<path d="M217.57 264.28 L218.14 264.31 L218.72 264.3 L219.3 264.1 L219.91 263.3 L220.54 262.27 L221.17 261.17 L221.8 260.1 L222.44 259.15 L223.07 258.33 L223.7 257.63 L224.33 256.97 L224.97 256.35 L225.61 255.76 L226.25 255.21 L226.89 254.7 L227.53 254.24 L228.18 253.85 L228.82 253.52 L229.47 253.31 L230.11 253.23 L230.76 253.27 L231.39 253.44 L232.03 253.68 L232.68 253.98 L233.32 254.29 L233.97 254.58 L234.62 254.83 L235.28 255.09 L235.94 255.38 L236.6 255.68 L237.27 255.98 L237.94 256.29 L238.61 256.6 L239.29 256.91 L239.97 257.24 L240.65 257.57 L241.34 257.91 L242.03 258.23 L242.73 258.55 L243.43 258.84 L244.14 259.1 L244.86 259.33 L245.57 259.55 L246.3 259.77 L247.02 260.01 L247.75 260.26 L248.49 260.55 L249.22 260.86 L249.96 261.16 L250.71 261.45 L251.46 261.77 L252.21 262.16 L252.96 262.67 L253.69 263.4 L254.42 264.4 L255.13 265.78 L255.8 267.67 L256.42 270.64 L256.98 274.42" fill="none" stroke="#f03cf0" stroke-width="1.75" stroke-linejoin="round" stroke-linecap="round"/>
<path d="M217.7 260.83 L218.27 260.94 L218.84 261.03 L219.42 260.92 L220.04 260.06 L220.66 259.03 L221.3 257.94 L221.93 256.87 L222.57 255.88 L223.2 254.98 L223.84 254.17 L224.48 253.39 L225.12 252.63 L225.77 251.9 L226.42 251.2 L227.07 250.53 L227.72 249.91 L228.38 249.33 L229.03 248.82 L229.69 248.38 L230.35 248.06 L231 247.84 L231.66 247.71 L232.31 247.66 L232.97 247.66 L233.63 247.68 L234.29 247.69 L234.96 247.68 L235.64 247.69 L236.31 247.73 L236.99 247.77 L237.67 247.83 L238.36 247.9 L239.05 247.97 L239.74 248.05 L240.44 248.14 L241.14 248.24 L241.84 248.35 L242.55 248.46 L243.26 248.57 L243.98 248.66 L244.7 248.74 L245.43 248.81 L246.16 248.87 L246.9 248.96 L247.64 249.08 L248.38 249.23 L249.12 249.44 L249.86 249.71 L250.61 249.99 L251.36 250.3 L252.11 250.66 L252.87 251.08 L253.62 251.59 L254.36 252.27 L255.1 253.2 L255.82 254.45 L256.52 256.12 L257.17 258.58 L257.79 261.64" fill="none" stroke="#28a028" stroke-width="1.75" stroke-linejoin="round" stroke-linecap="round"/>
<path d="M217.82 257.65 L218.39 257.84 L218.96 258.01 L219.54 257.99 L220.15 257.08 L220.78 256.04 L221.41 254.96 L222.05 253.89 L222.69 252.86 L223.33 251.89 L223.97 250.97 L224.62 250.07 L225.27 249.19 L225.92 248.33 L226.57 247.5 L227.23 246.69 L227.89 245.91 L228.56 245.16 L229.22 244.47 L229.89 243.83 L230.56 243.28 L231.23 242.81 L231.9 242.41 L232.57 242.09 L233.24 241.81 L233.92 241.56 L234.6 241.31 L235.28 241.06 L235.97 240.83 L236.66 240.63 L237.35 240.44 L238.05 240.27 L238.75 240.1 L239.45 239.95 L240.16 239.81 L240.87 239.68 L241.58 239.57 L242.3 239.47 L243.03 239.38 L243.75 239.28 L244.49 239.19 L245.22 239.1 L245.96 239.01 L246.71 238.93 L247.46 238.89 L248.21 238.9 L248.96 238.96 L249.71 239.1 L250.46 239.31 L251.21 239.58 L251.97 239.91 L252.72 240.31 L253.48 240.77 L254.24 241.28 L254.99 241.91 L255.74 242.77 L256.47 243.9 L257.19 245.35 L257.87 247.33 L258.54 249.71" fill="none" stroke="#9a3cf0" stroke-width="1.75" stroke-linejoin="round" stroke-linecap="round"/>
<path d="M217.92 254.84 L218.49 255.1 L219.06 255.36 L219.63 255.41 L220.26 254.45 L220.88 253.41 L221.52 252.33 L222.15 251.26 L222.79 250.2 L223.44 249.17 L224.09 248.16 L224.74 247.15 L225.39 246.16 L226.05 245.19 L226.71 244.23 L227.38 243.29 L228.05 242.37 L228.72 241.48 L229.39 240.63 L230.07 239.82 L230.75 239.06 L231.43 238.36 L232.11 237.73 L232.8 237.17 L233.48 236.64 L234.17 236.14 L234.86 235.66 L235.56 235.2 L236.26 234.76 L236.96 234.34 L237.67 233.94 L238.38 233.56 L239.09 233.2 L239.81 232.84 L240.53 232.51 L241.25 232.19 L241.98 231.88 L242.71 231.59 L243.45 231.31 L244.19 231.04 L244.94 230.78 L245.68 230.54 L246.44 230.31 L247.19 230.1 L247.95 229.94 L248.71 229.85 L249.47 229.83 L250.23 229.91 L250.99 230.08 L251.75 230.33 L252.51 230.68 L253.26 231.11 L254.02 231.6 L254.78 232.12 L255.55 232.7 L256.3 233.49 L257.04 234.52 L257.78 235.77 L258.5 237.32 L259.21 239.09" fill="none" stroke="#8a1c1c" stroke-width="1.75" stroke-linejoin="round" stroke-linecap="round"/>
<path d="M218 252.8 L218.56 253.11 L219.13 253.42 L219.71 253.53 L220.33 252.53 L220.96 251.49 L221.59 250.42 L222.23 249.35 L222.87 248.27 L223.52 247.19 L224.17 246.1 L224.82 245.03 L225.48 243.96 L226.15 242.9 L226.81 241.85 L227.48 240.82 L228.16 239.8 L228.84 238.8 L229.52 237.83 L230.2 236.89 L230.89 235.98 L231.58 235.12 L232.27 234.32 L232.96 233.57 L233.66 232.86 L234.36 232.19 L235.06 231.54 L235.76 230.92 L236.47 230.33 L237.19 229.75 L237.9 229.2 L238.62 228.66 L239.34 228.15 L240.07 227.65 L240.8 227.17 L241.54 226.7 L242.27 226.25 L243.02 225.82 L243.76 225.41 L244.51 225.01 L245.27 224.63 L246.02 224.27 L246.79 223.93 L247.55 223.63 L248.32 223.38 L249.08 223.22 L249.85 223.14 L250.61 223.17 L251.38 223.3 L252.14 223.55 L252.9 223.91 L253.66 224.36 L254.42 224.88 L255.19 225.4 L255.95 225.95 L256.71 226.7 L257.47 227.64 L258.21 228.74 L258.96 229.98 L259.7 231.29" fill="none" stroke="#9a2a9a" stroke-width="1.75" stroke-linejoin="round" stroke-linecap="round"/>
<path d="M218.09 250.39 L218.65 250.7 L219.22 251 L219.8 251.09 L220.43 249.91 L221.07 248.68 L221.71 247.43 L222.36 246.16 L223.01 244.88 L223.66 243.6 L224.32 242.33 L224.99 241.06 L225.66 239.81 L226.33 238.56 L227.01 237.33 L227.69 236.12 L228.37 234.93 L229.06 233.77 L229.75 232.63 L230.44 231.54 L231.13 230.49 L231.83 229.48 L232.53 228.55 L233.23 227.68 L233.94 226.86 L234.64 226.07 L235.35 225.32 L236.07 224.6 L236.78 223.9 L237.5 223.22 L238.23 222.57 L238.95 221.94 L239.68 221.32 L240.42 220.72 L241.16 220.13 L241.9 219.56 L242.65 219 L243.4 218.46 L244.16 217.93 L244.92 217.41 L245.68 216.91 L246.45 216.42 L247.22 215.94 L248 215.48 L248.78 215.04 L249.56 214.64 L250.35 214.32 L251.13 214.11 L251.91 214.02 L252.69 214.11 L253.46 214.4 L254.22 214.88 L254.98 215.47 L255.75 216.04 L256.52 216.58 L257.29 217.28 L258.05 218.15 L258.81 219.12 L259.57 220.18 L260.33 221.31" fill="none" stroke="#22e0e8" stroke-width="1.75" stroke-linejoin="round" stroke-linecap="round"/>
<path d="M217.76 203.1 L217.92 210.25 L217.51 232.8 L217.31 254.86 L218.09 250.39" fill="none" stroke="#22e0e8" stroke-width="1.9" stroke-dasharray="1.8,0.5"/>
<line x1="284" y1="237.2" x2="296.8" y2="237.2" stroke="#22e0e8" stroke-width="1.3"/>
<circle cx="290.4" cy="237.2" r="1.1" fill="#22e0e8" stroke="none" stroke-width="0"/>
<text x="300" y="239.79" font-size="7.2" text-anchor="start" fill="#222">40 kV/cm</text>
<line x1="284" y1="244.23" x2="296.8" y2="244.23" stroke="#9a3a9a" stroke-width="1.3"/>
<circle cx="290.4" cy="244.23" r="1.1" fill="#9a3a9a" stroke="none" stroke-width="0"/>
<text x="300" y="246.82" font-size="7.2" text-anchor="start" fill="#222">35 kV/cm</text>
<line x1="284" y1="251.26" x2="296.8" y2="251.26" stroke="#9a40f0" stroke-width="1.3"/>
<circle cx="290.4" cy="251.26" r="1.1" fill="#9a40f0" stroke="none" stroke-width="0"/>
<text x="300" y="253.85" font-size="7.2" text-anchor="start" fill="#222">30 kV/cm</text>
<line x1="284" y1="258.29" x2="296.8" y2="258.29" stroke="#2e2e8e" stroke-width="1.3"/>
<circle cx="290.4" cy="258.29" r="1.1" fill="#2e2e8e" stroke="none" stroke-width="0"/>
<text x="300" y="260.88" font-size="7.2" text-anchor="start" fill="#222">25 kV/cm</text>
<line x1="284" y1="265.32" x2="296.8" y2="265.32" stroke="#28a028" stroke-width="1.3"/>
<circle cx="290.4" cy="265.32" r="1.1" fill="#28a028" stroke="none" stroke-width="0"/>
<text x="300" y="267.91" font-size="7.2" text-anchor="start" fill="#222">20 kV/cm</text>
<line x1="284" y1="272.35" x2="296.8" y2="272.35" stroke="#f03cf0" stroke-width="1.3"/>
<circle cx="290.4" cy="272.35" r="1.1" fill="#f03cf0" stroke="none" stroke-width="0"/>
<text x="300" y="274.94" font-size="7.2" text-anchor="start" fill="#222">15 kV/cm</text>
<line x1="284" y1="279.38" x2="296.8" y2="279.38" stroke="#2a3cf0" stroke-width="1.3"/>
<circle cx="290.4" cy="279.38" r="1.1" fill="#2a3cf0" stroke="none" stroke-width="0"/>
<text x="300" y="281.97" font-size="7.2" text-anchor="start" fill="#222">10 kV/cm</text>
<line x1="284" y1="286.41" x2="296.8" y2="286.41" stroke="#f03030" stroke-width="1.3"/>
<circle cx="290.4" cy="286.41" r="1.1" fill="#f03030" stroke="none" stroke-width="0"/>
<text x="300" y="289" font-size="7.2" text-anchor="start" fill="#222">5 kV/cm</text>
<text x="32" y="203.98" font-size="8" text-anchor="end" fill="#222">1.6</text>
<text x="32.4" y="215.28" font-size="8" text-anchor="end" fill="#222">1.4</text>
<text x="34.2" y="226.78" font-size="8" text-anchor="end" fill="#222">1.2</text>
<text x="34.2" y="238.38" font-size="8" text-anchor="end" fill="#222">1.0</text>
<text x="35.6" y="249.58" font-size="8" text-anchor="end" fill="#222">0.8</text>
<text x="35.6" y="260.08" font-size="8" text-anchor="end" fill="#222">0.6</text>
<text x="36.6" y="271.78" font-size="8" text-anchor="end" fill="#222">0.4</text>
<text x="37.6" y="282.58" font-size="8" text-anchor="end" fill="#222">0.2</text>
<text x="38.5" y="291.88" font-size="8" text-anchor="end" fill="#222">0.0</text>
<text x="38.9" y="304.08" font-size="8" text-anchor="end" fill="#222">300</text>
<text x="41.6" y="313.78" font-size="8" text-anchor="end" fill="#222">340</text>
<text x="44.3" y="324.88" font-size="8" text-anchor="end" fill="#222">380</text>
<text x="48.5" y="334.58" font-size="8" text-anchor="end" fill="#222">420</text>
<text x="50.7" y="342.58" font-size="8" text-anchor="end" fill="#222">440</text>
<text x="9" y="246.95" font-size="8.2" text-anchor="middle" fill="#222" transform="rotate(90 9 244)">ΔT (K)</text>
<text x="20.3" y="328.45" font-size="8.2" text-anchor="middle" fill="#222" transform="rotate(68 20.3 325.5)">T (K)</text>
<text x="79.7" y="347.94" font-size="7.6" text-anchor="middle" fill="#222">0</text>
<text x="123.4" y="340.74" font-size="7.6" text-anchor="middle" fill="#222">10</text>
<text x="161.3" y="335.34" font-size="7.6" text-anchor="middle" fill="#222">20</text>
<text x="197.8" y="329.44" font-size="7.6" text-anchor="middle" fill="#222">30</text>
<text x="234.3" y="322.14" font-size="7.6" text-anchor="middle" fill="#222">40</text>
<text x="265.8" y="317.74" font-size="7.6" text-anchor="middle" fill="#222">50</text>
<text x="187.6" y="346.9" font-size="8.6" text-anchor="middle" fill="#222" transform="rotate(-10.5 187.6 343.8)">Annealing time (h)</text>
<text x="5" y="403" font-size="15" text-anchor="start" fill="#111" font-weight="bold">f</text>
<path d="M48.18 497.7 L41.8 403.52 L235.68 393.54 L232.05 476.54Z" fill="#babdbe" stroke="none" stroke-width="1"/>
<path d="M232.05 476.54 L235.68 393.54 L286.88 408.25 L279.58 507.22Z" fill="#c9cbcc" stroke="none" stroke-width="1"/>
<path d="M48.18 497.7 L232.05 476.54 L279.58 507.22 L60.26 538.78Z" fill="#f9f5a6" stroke="none" stroke-width="1"/>
<path d="M47.79 491.94 L232.27 471.43" fill="none" stroke="#4a4a4a" stroke-width="0.6" stroke-opacity="0.85"/>
<path d="M232.27 471.43 L280.03 501.18" fill="none" stroke="#4a4a4a" stroke-width="0.6" stroke-opacity="0.85"/>
<path d="M46.88 478.54 L232.79 459.56" fill="none" stroke="#4a4a4a" stroke-width="0.6" stroke-opacity="0.85"/>
<path d="M232.79 459.56 L281.06 487.14" fill="none" stroke="#4a4a4a" stroke-width="0.6" stroke-opacity="0.85"/>
<path d="M45.96 464.93 L233.32 447.53" fill="none" stroke="#4a4a4a" stroke-width="0.6" stroke-opacity="0.85"/>
<path d="M233.32 447.53 L282.12 472.85" fill="none" stroke="#4a4a4a" stroke-width="0.6" stroke-opacity="0.85"/>
<path d="M45.02 451.09 L233.85 435.32" fill="none" stroke="#4a4a4a" stroke-width="0.6" stroke-opacity="0.85"/>
<path d="M233.85 435.32 L283.19 458.31" fill="none" stroke="#4a4a4a" stroke-width="0.6" stroke-opacity="0.85"/>
<path d="M44.06 437.01 L234.4 422.93" fill="none" stroke="#4a4a4a" stroke-width="0.6" stroke-opacity="0.85"/>
<path d="M234.4 422.93 L284.28 443.52" fill="none" stroke="#4a4a4a" stroke-width="0.6" stroke-opacity="0.85"/>
<path d="M43.09 422.7 L234.95 410.36" fill="none" stroke="#4a4a4a" stroke-width="0.6" stroke-opacity="0.85"/>
<path d="M234.95 410.36 L285.39 428.46" fill="none" stroke="#4a4a4a" stroke-width="0.6" stroke-opacity="0.85"/>
<path d="M42.11 408.15 L235.51 397.6" fill="none" stroke="#4a4a4a" stroke-width="0.6" stroke-opacity="0.85"/>
<path d="M235.51 397.6 L286.52 413.13" fill="none" stroke="#4a4a4a" stroke-width="0.6" stroke-opacity="0.85"/>
<path d="M65.56 495.7 L60.25 402.57" fill="none" stroke="#4a4a4a" stroke-width="0.55"/>
<path d="M65.56 495.7 L81.56 535.72" fill="none" stroke="#333" stroke-width="0.55"/>
<path d="M98.84 491.87 L95.5 400.75" fill="none" stroke="#4a4a4a" stroke-width="0.55"/>
<path d="M98.84 491.87 L121.98 529.9" fill="none" stroke="#333" stroke-width="0.55"/>
<path d="M130.65 488.21 L129.1 399.03" fill="none" stroke="#4a4a4a" stroke-width="0.55"/>
<path d="M130.65 488.21 L160.21 524.4" fill="none" stroke="#333" stroke-width="0.55"/>
<path d="M161.07 484.71 L161.17 397.38" fill="none" stroke="#4a4a4a" stroke-width="0.55"/>
<path d="M161.07 484.71 L196.43 519.18" fill="none" stroke="#333" stroke-width="0.55"/>
<path d="M190.2 481.36 L191.8 395.8" fill="none" stroke="#4a4a4a" stroke-width="0.55"/>
<path d="M190.2 481.36 L230.78 514.24" fill="none" stroke="#333" stroke-width="0.55"/>
<path d="M218.12 478.14 L221.1 394.29" fill="none" stroke="#4a4a4a" stroke-width="0.55"/>
<path d="M218.12 478.14 L263.41 509.54" fill="none" stroke="#333" stroke-width="0.55"/>
<path d="M41.8 403.52 L235.68 393.54 L286.88 408.25" fill="none" stroke="#555" stroke-width="0.6"/>
<path d="M232.05 476.54 L235.68 393.54" fill="none" stroke="#555" stroke-width="0.6"/>
<path d="M48.18 497.7 L41.8 403.52" fill="none" stroke="#222" stroke-width="0.8"/>
<path d="M48.18 497.7 L60.26 538.78" fill="none" stroke="#222" stroke-width="0.8"/>
<path d="M60.26 538.78 L279.58 507.22" fill="none" stroke="#222" stroke-width="0.8"/>
<path d="M279.58 507.22 L286.88 408.25" fill="none" stroke="#666" stroke-width="0.5"/>
<path d="M47.79 491.94 L44.28 492.33" fill="none" stroke="#222" stroke-width="0.7"/>
<path d="M46.88 478.54 L43.34 478.91" fill="none" stroke="#222" stroke-width="0.7"/>
<path d="M45.96 464.93 L42.39 465.26" fill="none" stroke="#222" stroke-width="0.7"/>
<path d="M45.02 451.09 L41.42 451.39" fill="none" stroke="#222" stroke-width="0.7"/>
<path d="M44.06 437.01 L40.43 437.28" fill="none" stroke="#222" stroke-width="0.7"/>
<path d="M43.09 422.7 L39.43 422.94" fill="none" stroke="#222" stroke-width="0.7"/>
<path d="M42.11 408.15 L38.41 408.35" fill="none" stroke="#222" stroke-width="0.7"/>
<path d="M48.18 497.7 L45.03 498.06" fill="none" stroke="#222" stroke-width="0.7"/>
<path d="M49.61 502.58 L46.38 502.96" fill="none" stroke="#222" stroke-width="0.7"/>
<path d="M51.13 507.73 L47.81 508.14" fill="none" stroke="#222" stroke-width="0.7"/>
<path d="M52.74 513.2 L49.32 513.63" fill="none" stroke="#222" stroke-width="0.7"/>
<path d="M54.44 519 L50.92 519.46" fill="none" stroke="#222" stroke-width="0.7"/>
<path d="M56.26 525.17 L52.63 525.66" fill="none" stroke="#222" stroke-width="0.7"/>
<path d="M58.2 531.75 L54.45 532.27" fill="none" stroke="#222" stroke-width="0.7"/>
<path d="M60.26 538.78 L56.4 539.34" fill="none" stroke="#222" stroke-width="0.7"/>
<path d="M81.56 535.72 L82.55 538.21" fill="none" stroke="#222" stroke-width="0.7"/>
<path d="M102.05 532.77 L103.28 535.19" fill="none" stroke="#222" stroke-width="0.7"/>
<path d="M121.98 529.9 L123.42 532.26" fill="none" stroke="#222" stroke-width="0.7"/>
<path d="M141.36 527.11 L142.99 529.41" fill="none" stroke="#222" stroke-width="0.7"/>
<path d="M160.21 524.4 L162.04 526.63" fill="none" stroke="#222" stroke-width="0.7"/>
<path d="M178.56 521.76 L180.57 523.93" fill="none" stroke="#222" stroke-width="0.7"/>
<path d="M196.43 519.18 L198.6 521.3" fill="none" stroke="#222" stroke-width="0.7"/>
<path d="M213.83 516.68 L216.16 518.74" fill="none" stroke="#222" stroke-width="0.7"/>
<path d="M230.78 514.24 L233.26 516.25" fill="none" stroke="#222" stroke-width="0.7"/>
<path d="M247.3 511.86 L249.93 513.82" fill="none" stroke="#222" stroke-width="0.7"/>
<path d="M263.41 509.54 L266.17 511.46" fill="none" stroke="#222" stroke-width="0.7"/>
<path d="M65.87 491.11 L66.05 491.55 L66.23 491.99 L66.38 491.96 L66.52 491.64 L66.64 490.87 L66.73 489.58 L66.8 487.96 L66.87 486.31 L66.95 484.8 L67.04 483.53 L67.15 482.56 L67.28 481.81 L67.41 481.14 L67.55 480.55 L67.69 480.04 L67.84 479.61 L67.99 479.29 L68.15 479.1 L68.33 479.07 L68.51 479.26 L68.72 479.74 L68.94 480.53 L69.17 481.57 L69.42 482.81 L69.67 484.16 L69.93 485.54 L70.18 486.85 L70.44 488.15 L70.7 489.57 L70.96 491.07 L71.23 492.59 L71.5 494.09 L71.76 495.53 L72.02 496.84 L72.28 498.01 L72.53 499.09 L72.77 500.09 L73.01 501.01 L73.26 501.88 L73.5 502.7 L73.73 503.47 L73.97 504.21 L74.21 504.88 L74.44 505.48 L74.67 506.04 L74.9 506.55 L75.13 507.03 L75.36 507.5 L75.59 507.97 L75.82 508.39 L76.05 508.74 L76.28 509.04 L76.51 509.33 L76.74 509.66 L76.98 510.07 L77.22 510.64 L77.49 511.51 L77.77 512.78 L78.09 514.68 L78.44 517.18 L78.82 520.32 L79.24 524.21 L79.67 528.33" fill="none" stroke="#f03030" stroke-width="1.75" stroke-linejoin="round" stroke-linecap="round"/>
<path d="M65.62 486.85 L65.78 486.88 L65.94 486.88 L66.08 486.51 L66.2 485.91 L66.31 484.95 L66.39 483.58 L66.46 481.96 L66.53 480.31 L66.61 478.8 L66.7 477.49 L66.81 476.45 L66.93 475.6 L67.06 474.83 L67.19 474.14 L67.33 473.51 L67.47 472.97 L67.62 472.52 L67.77 472.18 L67.94 471.97 L68.11 471.94 L68.3 472.16 L68.5 472.63 L68.72 473.3 L68.95 474.15 L69.18 475.09 L69.42 476.05 L69.65 476.97 L69.88 477.9 L70.13 478.94 L70.37 480.08 L70.63 481.29 L70.88 482.53 L71.14 483.77 L71.39 484.99 L71.65 486.17 L71.9 487.34 L72.16 488.48 L72.41 489.58 L72.66 490.62 L72.91 491.58 L73.16 492.44 L73.4 493.2 L73.63 493.81 L73.86 494.3 L74.08 494.7 L74.31 495.05 L74.53 495.37 L74.75 495.69 L74.98 496.05 L75.21 496.43 L75.45 496.86 L75.69 497.39 L75.93 498.02 L76.19 498.79 L76.46 499.75 L76.74 500.97 L77.04 502.56 L77.36 504.61 L77.73 507.44 L78.13 511.08 L78.57 515.44 L79.05 520.49 L79.47 524.35" fill="none" stroke="#2a3cf0" stroke-width="1.75" stroke-linejoin="round" stroke-linecap="round"/>
<path d="M65.39 482.79 L65.53 482.41 L65.66 482 L65.78 481.3 L65.89 480.43 L65.99 479.29 L66.07 477.84 L66.14 476.21 L66.21 474.57 L66.29 473.05 L66.38 471.71 L66.49 470.59 L66.6 469.65 L66.72 468.79 L66.85 467.99 L66.98 467.26 L67.12 466.61 L67.26 466.03 L67.41 465.54 L67.56 465.16 L67.73 464.92 L67.9 464.88 L68.09 465.04 L68.29 465.36 L68.5 465.82 L68.71 466.36 L68.92 466.93 L69.14 467.46 L69.35 468.02 L69.58 468.71 L69.81 469.5 L70.04 470.41 L70.29 471.39 L70.53 472.43 L70.79 473.55 L71.04 474.74 L71.3 476 L71.57 477.29 L71.83 478.56 L72.09 479.76 L72.35 480.86 L72.6 481.81 L72.84 482.59 L73.07 483.14 L73.3 483.52 L73.52 483.78 L73.73 483.96 L73.95 484.12 L74.17 484.3 L74.39 484.55 L74.62 484.89 L74.86 485.4 L75.11 486.15 L75.38 487.12 L75.66 488.32 L75.95 489.82 L76.27 491.68 L76.6 493.97 L76.97 496.76 L77.38 500.5 L77.84 505.22 L78.34 510.77 L78.87 516.93 L79.28 520.55" fill="none" stroke="#f03cf0" stroke-width="1.75" stroke-linejoin="round" stroke-linecap="round"/>
<path d="M65.18 478.95 L65.29 478.19 L65.4 477.39 L65.5 476.38 L65.6 475.24 L65.69 473.93 L65.76 472.41 L65.83 470.77 L65.91 469.14 L65.99 467.61 L66.08 466.24 L66.18 465.06 L66.29 464.03 L66.41 463.07 L66.53 462.18 L66.66 461.35 L66.79 460.59 L66.92 459.88 L67.06 459.25 L67.21 458.71 L67.36 458.28 L67.53 457.99 L67.7 457.85 L67.88 457.84 L68.07 457.93 L68.26 458.09 L68.45 458.27 L68.65 458.44 L68.85 458.65 L69.05 458.98 L69.27 459.45 L69.49 460.06 L69.72 460.8 L69.96 461.65 L70.21 462.67 L70.47 463.88 L70.73 465.22 L71 466.65 L71.28 468.07 L71.55 469.44 L71.81 470.67 L72.07 471.71 L72.31 472.5 L72.54 473 L72.76 473.27 L72.98 473.38 L73.19 473.42 L73.4 473.42 L73.61 473.46 L73.83 473.6 L74.06 473.91 L74.3 474.5 L74.57 475.46 L74.85 476.74 L75.15 478.37 L75.48 480.39 L75.82 482.85 L76.19 485.81 L76.59 489.33 L77.05 493.93 L77.56 499.69 L78.12 506.36 L78.71 513.58 L79.1 516.96" fill="none" stroke="#28a028" stroke-width="1.75" stroke-linejoin="round" stroke-linecap="round"/>
<path d="M64.97 475.41 L65.07 474.3 L65.16 473.13 L65.25 471.83 L65.33 470.46 L65.41 468.98 L65.48 467.39 L65.55 465.74 L65.63 464.13 L65.71 462.59 L65.8 461.19 L65.89 459.94 L66 458.83 L66.11 457.79 L66.23 456.81 L66.35 455.89 L66.48 455.02 L66.61 454.2 L66.74 453.44 L66.88 452.75 L67.03 452.13 L67.18 451.61 L67.34 451.19 L67.5 450.87 L67.67 450.62 L67.84 450.42 L68.02 450.23 L68.2 450.06 L68.38 449.94 L68.57 449.94 L68.77 450.1 L68.97 450.43 L69.19 450.94 L69.42 451.61 L69.67 452.55 L69.93 453.76 L70.2 455.19 L70.48 456.75 L70.76 458.33 L71.04 459.84 L71.32 461.2 L71.58 462.32 L71.83 463.12 L72.05 463.57 L72.27 463.74 L72.48 463.72 L72.68 463.61 L72.88 463.47 L73.09 463.37 L73.31 463.42 L73.53 463.69 L73.79 464.35 L74.06 465.52 L74.36 467.1 L74.68 469.12 L75.03 471.63 L75.41 474.66 L75.81 478.25 L76.25 482.44 L76.75 487.85 L77.31 494.58 L77.92 502.28 L78.55 510.49 L78.94 513.66" fill="none" stroke="#9a3cf0" stroke-width="1.75" stroke-linejoin="round" stroke-linecap="round"/>
<path d="M64.8 472.29 L64.87 470.86 L64.95 469.37 L65.02 467.81 L65.09 466.23 L65.16 464.61 L65.23 462.96 L65.3 461.3 L65.38 459.69 L65.46 458.16 L65.55 456.72 L65.64 455.42 L65.75 454.23 L65.86 453.12 L65.97 452.06 L66.09 451.06 L66.21 450.1 L66.33 449.18 L66.46 448.3 L66.59 447.47 L66.73 446.69 L66.87 445.97 L67.02 445.31 L67.16 444.7 L67.32 444.14 L67.48 443.62 L67.63 443.12 L67.8 442.63 L67.96 442.22 L68.14 441.93 L68.32 441.81 L68.52 441.89 L68.73 442.19 L68.95 442.7 L69.19 443.56 L69.45 444.78 L69.73 446.28 L70.02 447.95 L70.31 449.67 L70.6 451.32 L70.88 452.79 L71.14 453.98 L71.39 454.8 L71.62 455.2 L71.83 455.28 L72.03 455.14 L72.23 454.9 L72.43 454.63 L72.63 454.42 L72.84 454.37 L73.07 454.61 L73.32 455.34 L73.61 456.68 L73.93 458.54 L74.27 460.91 L74.64 463.85 L75.04 467.4 L75.48 471.55 L75.94 476.35 L76.48 482.47 L77.08 490.06 L77.74 498.69 L78.42 507.77 L78.8 510.74" fill="none" stroke="#8a1c1c" stroke-width="1.75" stroke-linejoin="round" stroke-linecap="round"/>
<path d="M64.67 470.01 L64.73 468.36 L64.79 466.63 L64.85 464.89 L64.92 463.15 L64.98 461.42 L65.05 459.73 L65.12 458.07 L65.2 456.46 L65.28 454.92 L65.36 453.47 L65.46 452.12 L65.56 450.89 L65.67 449.72 L65.78 448.6 L65.89 447.53 L66.01 446.51 L66.13 445.51 L66.26 444.56 L66.38 443.63 L66.51 442.72 L66.65 441.85 L66.78 441.01 L66.92 440.19 L67.06 439.41 L67.21 438.66 L67.35 437.91 L67.5 437.2 L67.66 436.57 L67.82 436.07 L67.99 435.74 L68.18 435.64 L68.38 435.78 L68.6 436.18 L68.84 436.98 L69.1 438.21 L69.38 439.76 L69.68 441.52 L69.97 443.34 L70.27 445.09 L70.55 446.64 L70.82 447.89 L71.07 448.72 L71.3 449.08 L71.51 449.09 L71.71 448.87 L71.9 448.52 L72.09 448.16 L72.29 447.86 L72.5 447.75 L72.73 447.96 L72.99 448.74 L73.28 450.22 L73.61 452.27 L73.96 454.91 L74.35 458.17 L74.78 462.09 L75.23 466.66 L75.72 471.9 L76.28 478.55 L76.92 486.77 L77.61 496.07 L78.32 505.79 L78.69 508.62" fill="none" stroke="#505050" stroke-width="1.75" stroke-linejoin="round" stroke-linecap="round"/>
<path d="M64.52 467.34 L64.56 465.4 L64.61 463.36 L64.65 461.3 L64.7 459.24 L64.75 457.21 L64.8 455.22 L64.85 453.29 L64.92 451.42 L64.98 449.64 L65.06 447.98 L65.14 446.46 L65.24 445.11 L65.34 443.85 L65.45 442.68 L65.56 441.57 L65.68 440.52 L65.8 439.51 L65.93 438.55 L66.05 437.63 L66.18 436.74 L66.32 435.88 L66.46 435.04 L66.6 434.23 L66.74 433.44 L66.88 432.66 L67.03 431.89 L67.18 431.16 L67.33 430.5 L67.49 429.97 L67.67 429.62 L67.85 429.5 L68.06 429.63 L68.27 430.01 L68.51 430.8 L68.78 432.04 L69.06 433.61 L69.35 435.38 L69.65 437.21 L69.95 438.95 L70.23 440.49 L70.5 441.68 L70.74 442.44 L70.96 442.68 L71.17 442.52 L71.36 442.12 L71.54 441.58 L71.72 441.01 L71.91 440.52 L72.12 440.23 L72.34 440.3 L72.59 441 L72.89 442.47 L73.22 444.58 L73.58 447.34 L73.98 450.79 L74.42 454.97 L74.89 459.88 L75.4 465.52 L75.99 472.74 L76.67 481.7 L77.4 491.86 L78.16 502.46 L78.54 505.5" fill="none" stroke="#22e0e8" stroke-width="1.75" stroke-linejoin="round" stroke-linecap="round"/>
<path d="M60.96 415.06 L61.53 423.01 L63.05 447.64 L64.62 472.25 L64.52 467.34" fill="none" stroke="#22e0e8" stroke-width="1.9" stroke-dasharray="1.8,0.5"/>
<path d="M99.57 487.34 L99.84 487.75 L100.1 488.17 L100.35 488.13 L100.59 487.81 L100.82 487.04 L101.03 485.77 L101.23 484.18 L101.43 482.55 L101.64 481.06 L101.86 479.81 L102.09 478.85 L102.33 478.11 L102.57 477.44 L102.82 476.85 L103.08 476.34 L103.33 475.91 L103.6 475.59 L103.87 475.39 L104.14 475.35 L104.43 475.52 L104.72 475.98 L105.03 476.74 L105.35 477.75 L105.67 478.94 L106 480.25 L106.33 481.59 L106.66 482.86 L106.99 484.12 L107.33 485.49 L107.67 486.94 L108.01 488.42 L108.35 489.87 L108.69 491.26 L109.03 492.53 L109.37 493.66 L109.71 494.7 L110.04 495.66 L110.38 496.56 L110.71 497.39 L111.04 498.17 L111.38 498.91 L111.71 499.62 L112.05 500.26 L112.39 500.84 L112.72 501.36 L113.06 501.84 L113.4 502.3 L113.73 502.74 L114.08 503.19 L114.42 503.58 L114.76 503.9 L115.1 504.18 L115.45 504.46 L115.79 504.76 L116.15 505.14 L116.5 505.68 L116.87 506.51 L117.25 507.73 L117.65 509.57 L118.06 512 L118.49 515.04 L118.94 518.82 L119.4 522.82" fill="none" stroke="#f03030" stroke-width="1.75" stroke-linejoin="round" stroke-linecap="round"/>
<path d="M99.42 483.17 L99.67 483.18 L99.92 483.18 L100.16 482.81 L100.39 482.21 L100.61 481.27 L100.82 479.92 L101.02 478.32 L101.23 476.7 L101.44 475.2 L101.65 473.91 L101.88 472.87 L102.12 472.02 L102.36 471.25 L102.61 470.55 L102.86 469.92 L103.11 469.37 L103.37 468.91 L103.64 468.55 L103.91 468.32 L104.19 468.26 L104.47 468.44 L104.77 468.86 L105.08 469.48 L105.39 470.26 L105.7 471.1 L106.02 471.9 L106.33 472.58 L106.65 473.36 L106.98 474.39 L107.31 475.55 L107.65 476.78 L107.99 478.02 L108.32 479.23 L108.66 480.36 L109 481.39 L109.33 482.35 L109.67 483.26 L110.01 484.12 L110.34 484.93 L110.68 485.71 L111.02 486.45 L111.35 487.17 L111.69 487.84 L112.03 488.46 L112.37 489.04 L112.71 489.58 L113.05 490.11 L113.4 490.63 L113.74 491.14 L114.09 491.62 L114.44 492.04 L114.78 492.42 L115.13 492.79 L115.49 493.17 L115.84 493.58 L116.2 494.09 L116.57 494.77 L116.94 495.72 L117.34 497.38 L117.76 499.98 L118.21 503.69 L118.69 508.49 L119.14 512.22" fill="none" stroke="#2a3cf0" stroke-width="1.75" stroke-linejoin="round" stroke-linecap="round"/>
<path d="M99.28 479.19 L99.51 478.81 L99.75 478.41 L99.98 477.72 L100.2 476.86 L100.42 475.74 L100.62 474.31 L100.83 472.7 L101.03 471.09 L101.24 469.59 L101.46 468.26 L101.69 467.14 L101.92 466.2 L102.16 465.32 L102.4 464.52 L102.65 463.78 L102.9 463.11 L103.16 462.5 L103.42 461.99 L103.69 461.58 L103.96 461.3 L104.24 461.21 L104.53 461.3 L104.82 461.55 L105.12 461.91 L105.42 462.3 L105.72 462.57 L106.02 462.69 L106.32 463 L106.64 463.68 L106.97 464.57 L107.3 465.56 L107.63 466.59 L107.97 467.63 L108.3 468.62 L108.64 469.55 L108.97 470.44 L109.31 471.29 L109.65 472.11 L109.99 472.91 L110.32 473.67 L110.66 474.42 L111 475.15 L111.35 475.85 L111.69 476.51 L112.03 477.15 L112.38 477.76 L112.72 478.35 L113.07 478.94 L113.42 479.53 L113.77 480.08 L114.12 480.59 L114.48 481.07 L114.83 481.53 L115.19 481.99 L115.55 482.44 L115.91 482.91 L116.27 483.46 L116.64 484.14 L117.04 485.62 L117.46 488.38 L117.93 492.74 L118.44 498.55 L118.89 502.01" fill="none" stroke="#f03cf0" stroke-width="1.75" stroke-linejoin="round" stroke-linecap="round"/>
<path d="M99.14 475.43 L99.37 474.68 L99.59 473.9 L99.81 472.91 L100.02 471.8 L100.23 470.51 L100.44 469.01 L100.64 467.4 L100.85 465.8 L101.06 464.28 L101.27 462.92 L101.5 461.73 L101.73 460.69 L101.97 459.72 L102.21 458.82 L102.45 457.97 L102.7 457.18 L102.96 456.45 L103.21 455.78 L103.47 455.2 L103.74 454.71 L104.01 454.36 L104.29 454.14 L104.58 454.03 L104.86 454 L105.15 453.96 L105.44 453.73 L105.72 453.29 L106.01 453.15 L106.32 453.51 L106.64 454.13 L106.97 454.89 L107.3 455.72 L107.63 456.58 L107.96 457.44 L108.3 458.28 L108.63 459.09 L108.97 459.9 L109.31 460.68 L109.65 461.45 L109.99 462.22 L110.33 462.97 L110.67 463.71 L111.02 464.44 L111.36 465.14 L111.71 465.82 L112.06 466.49 L112.41 467.15 L112.76 467.81 L113.12 468.47 L113.47 469.1 L113.83 469.7 L114.18 470.27 L114.54 470.82 L114.9 471.35 L115.27 471.84 L115.63 472.28 L115.99 472.69 L116.36 473.11 L116.75 474.43 L117.18 477.35 L117.67 482.33 L118.2 489.11 L118.65 492.31" fill="none" stroke="#28a028" stroke-width="1.75" stroke-linejoin="round" stroke-linecap="round"/>
<path d="M99.02 471.96 L99.23 470.87 L99.44 469.73 L99.65 468.46 L99.86 467.12 L100.06 465.68 L100.26 464.12 L100.47 462.5 L100.67 460.9 L100.89 459.38 L101.1 457.98 L101.33 456.72 L101.56 455.6 L101.79 454.54 L102.03 453.54 L102.27 452.6 L102.52 451.7 L102.77 450.85 L103.02 450.04 L103.28 449.29 L103.54 448.61 L103.8 448.01 L104.07 447.5 L104.35 447.06 L104.63 446.66 L104.9 446.22 L105.18 445.51 L105.44 444.57 L105.72 444 L106.02 444.05 L106.34 444.43 L106.66 444.96 L106.98 445.6 L107.31 446.31 L107.64 447.04 L107.98 447.79 L108.31 448.53 L108.65 449.29 L108.99 450.04 L109.33 450.79 L109.67 451.55 L110.02 452.31 L110.36 453.06 L110.71 453.81 L111.06 454.55 L111.41 455.28 L111.76 456.01 L112.12 456.73 L112.47 457.46 L112.83 458.18 L113.19 458.89 L113.55 459.57 L113.91 460.23 L114.28 460.87 L114.64 461.46 L115.01 461.98 L115.37 462.39 L115.73 462.67 L116.09 462.85 L116.48 464.01 L116.92 467.08 L117.43 472.64 L117.98 480.34 L118.42 483.3" fill="none" stroke="#9a3cf0" stroke-width="1.75" stroke-linejoin="round" stroke-linecap="round"/>
<path d="M98.91 468.91 L99.11 467.51 L99.31 466.06 L99.51 464.54 L99.71 462.99 L99.91 461.41 L100.11 459.79 L100.32 458.17 L100.52 456.58 L100.73 455.05 L100.95 453.62 L101.17 452.3 L101.4 451.1 L101.64 449.96 L101.87 448.88 L102.11 447.85 L102.36 446.86 L102.6 445.89 L102.85 444.97 L103.1 444.08 L103.36 443.22 L103.62 442.41 L103.88 441.63 L104.15 440.89 L104.42 440.17 L104.68 439.36 L104.94 438.24 L105.2 436.83 L105.47 435.89 L105.76 435.66 L106.07 435.81 L106.38 436.15 L106.71 436.62 L107.03 437.18 L107.36 437.8 L107.7 438.46 L108.03 439.15 L108.37 439.86 L108.71 440.59 L109.05 441.32 L109.39 442.07 L109.74 442.83 L110.09 443.6 L110.44 444.37 L110.79 445.14 L111.14 445.92 L111.5 446.7 L111.86 447.48 L112.22 448.26 L112.58 449.04 L112.94 449.81 L113.31 450.57 L113.67 451.31 L114.04 452.02 L114.41 452.68 L114.77 453.22 L115.14 453.61 L115.5 453.77 L115.86 453.73 L116.25 454.75 L116.69 457.95 L117.21 464.05 L117.79 472.56 L118.23 475.3" fill="none" stroke="#8a1c1c" stroke-width="1.75" stroke-linejoin="round" stroke-linecap="round"/>
<path d="M98.83 466.68 L99.02 465.07 L99.21 463.38 L99.41 461.68 L99.6 459.98 L99.8 458.3 L100 456.64 L100.21 455.01 L100.41 453.43 L100.63 451.9 L100.84 450.45 L101.06 449.08 L101.29 447.82 L101.52 446.63 L101.76 445.49 L102 444.39 L102.24 443.32 L102.48 442.28 L102.73 441.27 L102.98 440.27 L103.23 439.29 L103.49 438.31 L103.74 437.35 L104 436.39 L104.26 435.43 L104.52 434.36 L104.77 432.92 L105.02 431.17 L105.28 429.95 L105.57 429.52 L105.87 429.5 L106.18 429.7 L106.5 430.04 L106.83 430.49 L107.16 431.04 L107.49 431.64 L107.82 432.28 L108.16 432.96 L108.5 433.66 L108.84 434.38 L109.19 435.13 L109.54 435.89 L109.89 436.67 L110.24 437.46 L110.59 438.25 L110.95 439.06 L111.31 439.88 L111.67 440.7 L112.03 441.52 L112.39 442.34 L112.76 443.17 L113.13 443.98 L113.5 444.78 L113.87 445.55 L114.24 446.25 L114.6 446.81 L114.97 447.18 L115.33 447.26 L115.69 447.06 L116.07 447.97 L116.52 451.27 L117.05 457.76 L117.65 466.87 L118.08 469.45" fill="none" stroke="#505050" stroke-width="1.75" stroke-linejoin="round" stroke-linecap="round"/>
<path d="M98.73 464.07 L98.93 462.45 L99.12 460.78 L99.31 459.09 L99.51 457.4 L99.71 455.72 L99.91 454.06 L100.11 452.42 L100.32 450.82 L100.53 449.26 L100.75 447.75 L100.97 446.32 L101.19 444.95 L101.42 443.59 L101.65 442.26 L101.88 440.95 L102.11 439.67 L102.35 438.41 L102.59 437.18 L102.84 435.98 L103.08 434.83 L103.33 433.71 L103.59 432.65 L103.85 431.65 L104.11 430.74 L104.38 429.9 L104.65 429.09 L104.93 428.34 L105.21 427.68 L105.49 427.15 L105.79 426.78 L106.09 426.57 L106.39 426.54 L106.71 426.68 L107.03 426.96 L107.36 427.4 L107.7 428.08 L108.04 428.93 L108.39 429.93 L108.74 431.01 L109.1 432.18 L109.46 433.38 L109.83 434.61 L110.19 435.84 L110.56 437.04 L110.92 438.19 L111.29 439.25 L111.65 440.17 L112.01 440.88 L112.37 441.45 L112.72 441.91 L113.08 442.23 L113.43 442.42 L113.78 442.44 L114.13 442.3 L114.48 441.99 L114.82 441.51 L115.16 440.77 L115.49 439.57 L115.82 437.94 L116.13 435.97 L116.45 433.76 L116.77 431.49 L117.14 431.21" fill="none" stroke="#22e0e8" stroke-width="1.75" stroke-linejoin="round" stroke-linecap="round"/>
<path d="M95.95 412.97 L96.42 420.73 L97.48 444.81 L98.63 468.88 L98.73 464.07" fill="none" stroke="#22e0e8" stroke-width="1.9" stroke-dasharray="1.8,0.5"/>
<path d="M131.77 483.73 L132.11 484.13 L132.45 484.53 L132.78 484.48 L133.11 484.15 L133.44 483.4 L133.76 482.14 L134.08 480.57 L134.4 478.96 L134.73 477.49 L135.06 476.26 L135.4 475.31 L135.74 474.58 L136.09 473.91 L136.44 473.32 L136.8 472.81 L137.15 472.38 L137.51 472.06 L137.88 471.85 L138.25 471.8 L138.62 471.96 L139 472.4 L139.39 473.13 L139.78 474.11 L140.17 475.27 L140.57 476.54 L140.96 477.83 L141.36 479.06 L141.77 480.28 L142.17 481.62 L142.58 483.02 L142.98 484.45 L143.39 485.86 L143.8 487.21 L144.22 488.44 L144.63 489.53 L145.04 490.53 L145.46 491.46 L145.87 492.32 L146.29 493.12 L146.71 493.88 L147.13 494.59 L147.56 495.26 L147.98 495.87 L148.41 496.42 L148.84 496.92 L149.27 497.38 L149.7 497.81 L150.14 498.23 L150.58 498.65 L151.02 499.02 L151.46 499.32 L151.91 499.58 L152.36 499.83 L152.81 500.11 L153.26 500.47 L153.72 500.98 L154.18 501.78 L154.65 502.95 L155.12 504.73 L155.59 507.09 L156.06 510.05 L156.54 513.71 L157.02 517.6" fill="none" stroke="#f03030" stroke-width="1.75" stroke-linejoin="round" stroke-linecap="round"/>
<path d="M131.7 479.65 L132.03 479.65 L132.37 479.64 L132.7 479.27 L133.03 478.68 L133.35 477.74 L133.67 476.42 L133.99 474.84 L134.32 473.25 L134.64 471.77 L134.98 470.49 L135.32 469.46 L135.66 468.59 L136.01 467.76 L136.35 466.98 L136.71 466.26 L137.06 465.61 L137.42 465.05 L137.79 464.58 L138.15 464.26 L138.53 464.12 L138.9 464.22 L139.28 464.57 L139.67 465.15 L140.06 465.91 L140.46 466.78 L140.85 467.71 L141.25 468.63 L141.65 469.59 L142.06 470.68 L142.46 471.88 L142.87 473.12 L143.28 474.38 L143.7 475.6 L144.11 476.75 L144.52 477.8 L144.94 478.79 L145.36 479.73 L145.78 480.62 L146.2 481.47 L146.62 482.27 L147.05 483.03 L147.47 483.75 L147.9 484.4 L148.33 484.98 L148.76 485.47 L149.2 485.87 L149.64 486.18 L150.07 486.39 L150.51 486.52 L150.96 486.53 L151.4 486.43 L151.85 486.28 L152.3 486.22 L152.75 486.38 L153.21 486.85 L153.68 487.67 L154.14 488.97 L154.61 490.8 L155.09 493.25 L155.56 496.24 L156.04 500.1 L156.53 504.81 L157.01 508.45" fill="none" stroke="#2a3cf0" stroke-width="1.75" stroke-linejoin="round" stroke-linecap="round"/>
<path d="M131.64 475.75 L131.96 475.37 L132.29 474.97 L132.62 474.29 L132.94 473.44 L133.27 472.33 L133.59 470.94 L133.91 469.35 L134.23 467.77 L134.56 466.29 L134.9 464.97 L135.23 463.85 L135.58 462.85 L135.92 461.87 L136.27 460.91 L136.62 459.99 L136.98 459.12 L137.33 458.32 L137.7 457.61 L138.06 457.02 L138.43 456.59 L138.81 456.36 L139.19 456.35 L139.57 456.55 L139.96 456.91 L140.35 457.4 L140.75 457.98 L141.14 458.59 L141.54 459.28 L141.95 460.15 L142.35 461.14 L142.76 462.2 L143.18 463.31 L143.59 464.41 L144.01 465.48 L144.42 466.5 L144.84 467.48 L145.26 468.42 L145.69 469.34 L146.11 470.22 L146.54 471.07 L146.96 471.89 L147.39 472.65 L147.83 473.35 L148.26 473.95 L148.69 474.44 L149.13 474.78 L149.57 474.96 L150.01 474.97 L150.45 474.81 L150.9 474.47 L151.34 473.97 L151.79 473.44 L152.24 473.07 L152.7 473.11 L153.16 473.69 L153.63 474.82 L154.1 476.61 L154.58 479.08 L155.06 482.18 L155.54 485.79 L156.02 490.53 L156.51 496.25 L156.99 499.65" fill="none" stroke="#f03cf0" stroke-width="1.75" stroke-linejoin="round" stroke-linecap="round"/>
<path d="M131.58 472.07 L131.9 471.33 L132.22 470.55 L132.54 469.58 L132.87 468.49 L133.19 467.22 L133.51 465.76 L133.83 464.17 L134.16 462.6 L134.49 461.11 L134.82 459.75 L135.16 458.55 L135.5 457.43 L135.85 456.3 L136.19 455.17 L136.54 454.06 L136.9 452.98 L137.25 451.96 L137.61 451.02 L137.98 450.17 L138.34 449.46 L138.72 448.92 L139.09 448.56 L139.47 448.39 L139.86 448.37 L140.25 448.5 L140.64 448.73 L141.04 449.05 L141.44 449.5 L141.84 450.14 L142.25 450.93 L142.66 451.82 L143.08 452.78 L143.49 453.77 L143.91 454.76 L144.33 455.74 L144.75 456.71 L145.17 457.66 L145.6 458.61 L146.03 459.53 L146.45 460.43 L146.89 461.29 L147.32 462.1 L147.75 462.83 L148.19 463.46 L148.63 463.94 L149.07 464.23 L149.51 464.28 L149.95 464.1 L150.39 463.67 L150.84 462.99 L151.28 462.11 L151.74 461.2 L152.19 460.53 L152.65 460.45 L153.12 461.14 L153.59 462.56 L154.07 464.83 L154.55 467.91 L155.03 471.64 L155.52 475.86 L156.01 481.45 L156.5 488.13 L156.98 491.31" fill="none" stroke="#28a028" stroke-width="1.75" stroke-linejoin="round" stroke-linecap="round"/>
<path d="M131.52 468.67 L131.84 467.6 L132.15 466.48 L132.47 465.23 L132.79 463.91 L133.11 462.5 L133.44 460.97 L133.76 459.38 L134.09 457.82 L134.42 456.32 L134.75 454.93 L135.09 453.66 L135.43 452.42 L135.77 451.15 L136.12 449.86 L136.47 448.57 L136.82 447.3 L137.17 446.07 L137.53 444.91 L137.9 443.83 L138.26 442.85 L138.63 442.02 L139.01 441.34 L139.39 440.82 L139.77 440.45 L140.16 440.23 L140.55 440.14 L140.94 440.18 L141.34 440.4 L141.75 440.84 L142.16 441.44 L142.57 442.17 L142.98 442.99 L143.4 443.87 L143.82 444.79 L144.24 445.73 L144.66 446.69 L145.09 447.66 L145.52 448.63 L145.95 449.58 L146.38 450.52 L146.81 451.43 L147.25 452.28 L147.69 453.05 L148.13 453.71 L148.57 454.18 L149.01 454.42 L149.45 454.35 L149.89 453.99 L150.34 453.3 L150.78 452.3 L151.23 451.06 L151.68 449.79 L152.14 448.84 L152.6 448.65 L153.07 449.44 L153.55 451.14 L154.03 453.86 L154.52 457.53 L155.01 461.85 L155.5 466.63 L155.99 473.01 L156.48 480.61 L156.97 483.56" fill="none" stroke="#9a3cf0" stroke-width="1.75" stroke-linejoin="round" stroke-linecap="round"/>
<path d="M131.47 465.68 L131.78 464.31 L132.1 462.88 L132.41 461.39 L132.73 459.87 L133.05 458.33 L133.37 456.75 L133.69 455.16 L134.02 453.6 L134.35 452.1 L134.69 450.67 L135.03 449.33 L135.37 448 L135.71 446.6 L136.06 445.17 L136.4 443.72 L136.75 442.28 L137.11 440.87 L137.46 439.51 L137.82 438.22 L138.19 437.01 L138.56 435.91 L138.93 434.94 L139.31 434.12 L139.69 433.43 L140.07 432.9 L140.46 432.53 L140.86 432.33 L141.26 432.33 L141.66 432.58 L142.07 433.02 L142.48 433.6 L142.9 434.29 L143.32 435.08 L143.74 435.94 L144.16 436.85 L144.59 437.79 L145.01 438.77 L145.44 439.76 L145.88 440.75 L146.31 441.73 L146.75 442.68 L147.19 443.57 L147.63 444.37 L148.07 445.05 L148.51 445.51 L148.95 445.71 L149.4 445.54 L149.84 445.01 L150.29 444.09 L150.74 442.8 L151.18 441.24 L151.64 439.64 L152.1 438.44 L152.56 438.15 L153.04 439.03 L153.52 440.99 L154 444.11 L154.49 448.3 L154.98 453.16 L155.48 458.44 L155.97 465.53 L156.47 473.94 L156.96 476.7" fill="none" stroke="#8a1c1c" stroke-width="1.75" stroke-linejoin="round" stroke-linecap="round"/>
<path d="M131.43 463.5 L131.74 461.91 L132.05 460.26 L132.37 458.6 L132.68 456.93 L133 455.29 L133.32 453.67 L133.65 452.08 L133.98 450.53 L134.31 449.02 L134.64 447.57 L134.98 446.18 L135.32 444.77 L135.66 443.29 L136.01 441.75 L136.35 440.19 L136.7 438.62 L137.06 437.08 L137.41 435.57 L137.77 434.12 L138.14 432.75 L138.5 431.46 L138.87 430.27 L139.25 429.22 L139.63 428.31 L140.01 427.55 L140.4 426.97 L140.8 426.58 L141.2 426.43 L141.6 426.55 L142.01 426.86 L142.42 427.33 L142.84 427.93 L143.26 428.65 L143.68 429.46 L144.1 430.34 L144.53 431.28 L144.96 432.26 L145.39 433.27 L145.83 434.29 L146.26 435.3 L146.7 436.27 L147.14 437.19 L147.58 438.02 L148.03 438.71 L148.47 439.17 L148.91 439.33 L149.36 439.08 L149.81 438.44 L150.25 437.35 L150.7 435.84 L151.15 434.04 L151.6 432.2 L152.06 430.81 L152.53 430.45 L153.01 431.39 L153.49 433.54 L153.98 436.96 L154.47 441.54 L154.97 446.79 L155.46 452.45 L155.96 460.06 L156.46 469.07 L156.96 471.69" fill="none" stroke="#505050" stroke-width="1.75" stroke-linejoin="round" stroke-linecap="round"/>
<path d="M131.39 460.94 L131.7 459.34 L132.01 457.69 L132.33 456.02 L132.64 454.35 L132.96 452.7 L133.28 451.07 L133.61 449.46 L133.94 447.9 L134.27 446.37 L134.6 444.9 L134.94 443.48 L135.28 442.07 L135.63 440.61 L135.97 439.12 L136.32 437.62 L136.67 436.13 L137.03 434.64 L137.38 433.17 L137.74 431.74 L138.11 430.35 L138.47 429.01 L138.84 427.75 L139.22 426.56 L139.6 425.47 L139.98 424.53 L140.37 423.73 L140.76 423.13 L141.16 422.8 L141.56 422.79 L141.97 423.07 L142.38 423.63 L142.8 424.42 L143.22 425.39 L143.65 426.48 L144.08 427.61 L144.51 428.71 L144.94 429.73 L145.37 430.57 L145.8 431.21 L146.23 431.57 L146.67 431.67 L147.1 431.53 L147.54 431.25 L147.97 430.85 L148.41 430.35 L148.86 429.79 L149.3 429.19 L149.75 428.57 L150.2 427.95 L150.66 427.36 L151.12 426.81 L151.58 426.36 L152.04 426.07 L152.51 426.02 L152.99 426.41 L153.47 427.55 L153.96 429.87 L154.45 434.8 L154.96 443.1 L155.46 450.11 L155.96 458.89 L156.46 468.82 L156.96 471.69" fill="none" stroke="#22e0e8" stroke-width="1.75" stroke-linejoin="round" stroke-linecap="round"/>
<path d="M129.3 410.43 L129.68 418.07 L130.34 442.11 L131.1 465.67 L131.39 460.94" fill="none" stroke="#22e0e8" stroke-width="1.9" stroke-dasharray="1.8,0.5"/>
<path d="M162.55 480.28 L162.96 480.67 L163.36 481.05 L163.78 480.99 L164.19 480.66 L164.61 479.91 L165.03 478.67 L165.46 477.12 L165.89 475.54 L166.32 474.09 L166.76 472.87 L167.19 471.94 L167.63 471.2 L168.07 470.54 L168.52 469.96 L168.96 469.45 L169.41 469.02 L169.86 468.69 L170.31 468.48 L170.77 468.42 L171.22 468.57 L171.67 468.99 L172.13 469.7 L172.59 470.64 L173.04 471.76 L173.5 473 L173.96 474.25 L174.42 475.45 L174.88 476.63 L175.35 477.92 L175.82 479.29 L176.28 480.68 L176.75 482.04 L177.23 483.35 L177.7 484.54 L178.18 485.6 L178.67 486.57 L179.15 487.46 L179.64 488.29 L180.14 489.06 L180.63 489.79 L181.13 490.47 L181.63 491.12 L182.14 491.71 L182.65 492.23 L183.16 492.7 L183.68 493.14 L184.2 493.55 L184.72 493.94 L185.25 494.34 L185.78 494.69 L186.31 494.97 L186.85 495.21 L187.39 495.44 L187.94 495.7 L188.49 496.04 L189.03 496.52 L189.58 497.29 L190.12 498.42 L190.65 500.14 L191.17 502.43 L191.69 505.31 L192.19 508.87 L192.69 512.66" fill="none" stroke="#f03030" stroke-width="1.75" stroke-linejoin="round" stroke-linecap="round"/>
<path d="M162.56 476.28 L162.97 476.33 L163.38 476.36 L163.79 476.04 L164.21 475.51 L164.63 474.63 L165.05 473.37 L165.48 471.85 L165.91 470.32 L166.34 468.89 L166.78 467.66 L167.22 466.65 L167.66 465.82 L168.1 465.04 L168.55 464.32 L169 463.65 L169.45 463.04 L169.9 462.5 L170.35 462.06 L170.81 461.75 L171.27 461.61 L171.73 461.69 L172.19 462.01 L172.65 462.54 L173.11 463.23 L173.58 464.03 L174.04 464.87 L174.51 465.68 L174.98 466.53 L175.45 467.51 L175.92 468.6 L176.39 469.77 L176.87 470.97 L177.35 472.15 L177.83 473.29 L178.31 474.33 L178.8 475.33 L179.29 476.27 L179.78 477.16 L180.28 477.98 L180.78 478.75 L181.28 479.44 L181.78 480.05 L182.3 480.55 L182.81 480.94 L183.33 481.24 L183.85 481.46 L184.38 481.64 L184.91 481.78 L185.45 481.91 L185.98 482.01 L186.53 482.05 L187.07 482.1 L187.62 482.19 L188.17 482.4 L188.72 482.82 L189.27 483.53 L189.81 484.72 L190.34 486.49 L190.87 488.92 L191.38 491.83 L191.88 495.58 L192.37 500.17 L192.87 503.72" fill="none" stroke="#2a3cf0" stroke-width="1.75" stroke-linejoin="round" stroke-linecap="round"/>
<path d="M162.57 472.46 L162.98 472.18 L163.39 471.88 L163.8 471.31 L164.22 470.57 L164.64 469.58 L165.07 468.29 L165.5 466.81 L165.93 465.33 L166.37 463.92 L166.8 462.67 L167.24 461.6 L167.69 460.67 L168.13 459.78 L168.58 458.93 L169.03 458.1 L169.48 457.31 L169.94 456.58 L170.39 455.92 L170.85 455.35 L171.32 454.93 L171.78 454.69 L172.25 454.64 L172.71 454.76 L173.18 455.03 L173.65 455.41 L174.12 455.84 L174.59 456.29 L175.07 456.81 L175.55 457.49 L176.02 458.31 L176.5 459.26 L176.98 460.29 L177.46 461.36 L177.95 462.44 L178.44 463.48 L178.93 464.5 L179.42 465.48 L179.91 466.43 L180.41 467.31 L180.91 468.11 L181.42 468.81 L181.93 469.39 L182.44 469.81 L182.96 470.06 L183.49 470.19 L184.02 470.21 L184.55 470.16 L185.09 470.05 L185.64 469.92 L186.18 469.76 L186.73 469.58 L187.29 469.43 L187.84 469.39 L188.39 469.55 L188.95 470.05 L189.49 470.99 L190.03 472.59 L190.56 474.99 L191.07 478.11 L191.58 481.62 L192.07 486.23 L192.54 491.81 L193.05 495.12" fill="none" stroke="#f03cf0" stroke-width="1.75" stroke-linejoin="round" stroke-linecap="round"/>
<path d="M162.57 468.86 L162.98 468.26 L163.4 467.65 L163.81 466.84 L164.23 465.92 L164.66 464.81 L165.09 463.5 L165.52 462.06 L165.95 460.61 L166.39 459.23 L166.82 457.96 L167.27 456.82 L167.71 455.8 L168.16 454.81 L168.61 453.83 L169.06 452.85 L169.51 451.9 L169.97 450.97 L170.43 450.1 L170.9 449.31 L171.36 448.61 L171.83 448.06 L172.3 447.66 L172.77 447.39 L173.24 447.26 L173.72 447.23 L174.2 447.28 L174.68 447.38 L175.16 447.58 L175.64 447.96 L176.12 448.53 L176.61 449.27 L177.09 450.15 L177.58 451.11 L178.06 452.13 L178.55 453.16 L179.05 454.2 L179.54 455.23 L180.04 456.23 L180.54 457.16 L181.04 458 L181.55 458.71 L182.07 459.25 L182.59 459.59 L183.11 459.71 L183.64 459.68 L184.18 459.5 L184.72 459.23 L185.27 458.88 L185.82 458.5 L186.37 458.1 L186.93 457.7 L187.49 457.37 L188.05 457.19 L188.61 457.31 L189.16 457.88 L189.71 459.04 L190.25 461.03 L190.76 464.04 L191.27 467.83 L191.77 471.92 L192.24 477.35 L192.7 483.89 L193.22 486.97" fill="none" stroke="#28a028" stroke-width="1.75" stroke-linejoin="round" stroke-linecap="round"/>
<path d="M162.58 465.53 L162.99 464.65 L163.41 463.75 L163.83 462.72 L164.25 461.61 L164.67 460.4 L165.1 459.07 L165.53 457.66 L165.97 456.25 L166.4 454.89 L166.84 453.61 L167.29 452.41 L167.73 451.3 L168.18 450.22 L168.63 449.12 L169.09 448 L169.54 446.89 L170 445.79 L170.47 444.73 L170.93 443.71 L171.4 442.77 L171.88 441.92 L172.35 441.19 L172.83 440.57 L173.3 440.06 L173.78 439.65 L174.27 439.34 L174.75 439.11 L175.24 439.02 L175.72 439.12 L176.21 439.44 L176.7 439.99 L177.19 440.72 L177.68 441.57 L178.17 442.54 L178.66 443.56 L179.16 444.62 L179.66 445.7 L180.16 446.74 L180.66 447.72 L181.17 448.6 L181.68 449.32 L182.19 449.83 L182.72 450.09 L183.25 450.09 L183.78 449.9 L184.33 449.54 L184.87 449.06 L185.43 448.49 L185.98 447.88 L186.54 447.24 L187.11 446.64 L187.68 446.13 L188.24 445.83 L188.81 445.9 L189.37 446.54 L189.91 447.91 L190.44 450.28 L190.96 453.85 L191.45 458.27 L191.94 462.91 L192.41 469.11 L192.84 476.54 L193.37 479.42" fill="none" stroke="#9a3cf0" stroke-width="1.75" stroke-linejoin="round" stroke-linecap="round"/>
<path d="M162.58 462.6 L163 461.47 L163.42 460.3 L163.84 459.08 L164.26 457.82 L164.68 456.51 L165.11 455.16 L165.55 453.78 L165.98 452.41 L166.42 451.07 L166.86 449.77 L167.31 448.52 L167.75 447.33 L168.2 446.16 L168.65 444.96 L169.11 443.72 L169.57 442.47 L170.03 441.22 L170.5 439.98 L170.97 438.77 L171.44 437.6 L171.92 436.5 L172.39 435.47 L172.87 434.53 L173.36 433.68 L173.84 432.94 L174.33 432.3 L174.82 431.77 L175.31 431.42 L175.8 431.28 L176.29 431.38 L176.78 431.76 L177.28 432.35 L177.77 433.11 L178.27 434.03 L178.76 435.04 L179.26 436.13 L179.76 437.24 L180.26 438.33 L180.76 439.35 L181.27 440.26 L181.79 440.99 L182.31 441.47 L182.83 441.66 L183.37 441.55 L183.91 441.22 L184.46 440.69 L185.01 440.03 L185.57 439.26 L186.13 438.43 L186.7 437.59 L187.27 436.8 L187.84 436.13 L188.42 435.72 L188.98 435.75 L189.54 436.46 L190.09 438.01 L190.62 440.72 L191.13 444.8 L191.61 449.78 L192.1 454.91 L192.55 461.81 L192.97 470.03 L193.51 472.72" fill="none" stroke="#8a1c1c" stroke-width="1.75" stroke-linejoin="round" stroke-linecap="round"/>
<path d="M162.59 460.47 L163 459.15 L163.42 457.79 L163.84 456.43 L164.27 455.05 L164.69 453.68 L165.12 452.31 L165.56 450.96 L165.99 449.61 L166.43 448.28 L166.87 446.97 L167.32 445.69 L167.77 444.44 L168.22 443.21 L168.67 441.93 L169.13 440.6 L169.59 439.25 L170.05 437.88 L170.52 436.51 L170.99 435.16 L171.47 433.83 L171.95 432.54 L172.43 431.3 L172.91 430.12 L173.39 429.03 L173.88 428.04 L174.37 427.16 L174.87 426.42 L175.36 425.87 L175.86 425.54 L176.35 425.49 L176.85 425.74 L177.34 426.23 L177.84 426.92 L178.33 427.8 L178.83 428.81 L179.33 429.91 L179.83 431.05 L180.34 432.17 L180.84 433.23 L181.35 434.16 L181.87 434.89 L182.39 435.36 L182.92 435.49 L183.46 435.31 L184 434.87 L184.55 434.22 L185.11 433.42 L185.67 432.5 L186.24 431.51 L186.81 430.52 L187.39 429.59 L187.97 428.81 L188.54 428.31 L189.11 428.31 L189.68 429.07 L190.22 430.76 L190.75 433.71 L191.25 438.18 L191.73 443.58 L192.21 449.06 L192.66 456.47 L193.07 465.28 L193.61 467.83" fill="none" stroke="#505050" stroke-width="1.75" stroke-linejoin="round" stroke-linecap="round"/>
<path d="M162.59 457.95 L163.01 456.64 L163.43 455.28 L163.85 453.92 L164.27 452.55 L164.7 451.18 L165.13 449.81 L165.57 448.44 L166 447.09 L166.44 445.74 L166.89 444.41 L167.33 443.1 L167.78 441.81 L168.23 440.53 L168.69 439.2 L169.15 437.82 L169.61 436.41 L170.07 434.99 L170.54 433.56 L171.01 432.14 L171.49 430.74 L171.97 429.37 L172.45 428.05 L172.94 426.79 L173.42 425.6 L173.91 424.51 L174.41 423.52 L174.9 422.66 L175.4 421.98 L175.89 421.5 L176.39 421.27 L176.89 421.31 L177.39 421.56 L177.89 422 L178.39 422.62 L178.89 423.36 L179.4 424.18 L179.9 425.05 L180.41 425.91 L180.92 426.73 L181.44 427.45 L181.96 428.01 L182.49 428.36 L183.02 428.46 L183.56 428.32 L184.1 428 L184.65 427.54 L185.21 426.97 L185.77 426.34 L186.33 425.66 L186.9 424.97 L187.48 424.33 L188.05 423.78 L188.63 423.39 L189.2 423.31 L189.77 423.77 L190.33 425.07 L190.86 427.7 L191.35 432.75 L191.8 440.06 L192.26 446.82 L192.68 455.37 L193.08 465.04 L193.61 467.83" fill="none" stroke="#22e0e8" stroke-width="1.75" stroke-linejoin="round" stroke-linecap="round"/>
<path d="M161.15 409.06 L161.45 416.47 L161.72 439.53 L162.13 462.59 L162.59 457.95" fill="none" stroke="#22e0e8" stroke-width="1.9" stroke-dasharray="1.8,0.5"/>
<path d="M192.01 476.99 L192.48 477.35 L192.95 477.72 L193.43 477.65 L193.92 477.32 L194.42 476.57 L194.94 475.35 L195.46 473.82 L195.99 472.26 L196.52 470.84 L197.05 469.63 L197.57 468.71 L198.1 467.98 L198.62 467.33 L199.15 466.74 L199.68 466.24 L200.21 465.81 L200.74 465.48 L201.27 465.26 L201.8 465.2 L202.33 465.33 L202.85 465.74 L203.37 466.42 L203.89 467.33 L204.4 468.42 L204.91 469.62 L205.42 470.84 L205.94 472 L206.46 473.15 L206.98 474.4 L207.5 475.73 L208.02 477.08 L208.55 478.41 L209.08 479.67 L209.61 480.83 L210.15 481.85 L210.7 482.79 L211.25 483.66 L211.81 484.46 L212.37 485.2 L212.93 485.9 L213.5 486.55 L214.08 487.17 L214.66 487.74 L215.24 488.24 L215.83 488.69 L216.42 489.1 L217.02 489.49 L217.62 489.87 L218.23 490.24 L218.84 490.57 L219.45 490.83 L220.07 491.05 L220.7 491.27 L221.33 491.51 L221.95 491.83 L222.58 492.29 L223.2 493.02 L223.81 494.12 L224.4 495.79 L224.97 498.01 L225.52 500.8 L226.04 504.28 L226.56 507.96" fill="none" stroke="#f03030" stroke-width="1.75" stroke-linejoin="round" stroke-linecap="round"/>
<path d="M192.07 474.05 L192.54 474.41 L193.01 474.77 L193.5 474.4 L193.99 473.72 L194.5 472.7 L195.02 471.31 L195.55 469.68 L196.08 468.04 L196.62 466.52 L197.15 465.2 L197.68 464.11 L198.21 463.2 L198.74 462.35 L199.28 461.56 L199.81 460.83 L200.35 460.16 L200.89 459.58 L201.43 459.1 L201.96 458.73 L202.5 458.54 L203.04 458.57 L203.57 458.82 L204.1 459.28 L204.63 459.89 L205.16 460.59 L205.69 461.34 L206.22 462.04 L206.76 462.75 L207.29 463.56 L207.83 464.43 L208.37 465.35 L208.91 466.28 L209.45 467.19 L210 468.03 L210.55 468.8 L211.11 469.51 L211.67 470.19 L212.24 470.84 L212.81 471.48 L213.38 472.12 L213.96 472.74 L214.54 473.35 L215.12 473.92 L215.71 474.46 L216.3 474.95 L216.9 475.42 L217.5 475.87 L218.1 476.3 L218.71 476.73 L219.32 477.1 L219.94 477.4 L220.57 477.64 L221.2 477.84 L221.83 478 L222.47 478.17 L223.12 478.39 L223.75 478.79 L224.39 479.42 L225.01 480.49 L225.61 481.96 L226.2 483.87 L226.77 486.33 L227.34 489.01" fill="none" stroke="#2a3cf0" stroke-width="1.75" stroke-linejoin="round" stroke-linecap="round"/>
<path d="M192.12 471.24 L192.59 471.59 L193.06 471.95 L193.56 471.3 L194.07 470.28 L194.58 469 L195.11 467.44 L195.64 465.72 L196.17 464.01 L196.71 462.4 L197.25 460.96 L197.78 459.72 L198.32 458.63 L198.85 457.59 L199.39 456.59 L199.94 455.65 L200.48 454.76 L201.03 453.94 L201.57 453.19 L202.12 452.54 L202.67 452.03 L203.22 451.69 L203.76 451.54 L204.31 451.55 L204.85 451.69 L205.39 451.92 L205.94 452.21 L206.49 452.47 L207.04 452.74 L207.59 453.11 L208.15 453.55 L208.7 454.05 L209.26 454.58 L209.81 455.14 L210.38 455.68 L210.94 456.19 L211.51 456.68 L212.08 457.18 L212.66 457.68 L213.23 458.22 L213.81 458.8 L214.39 459.38 L214.98 459.98 L215.57 460.57 L216.16 461.14 L216.75 461.68 L217.35 462.2 L217.96 462.71 L218.56 463.19 L219.18 463.67 L219.79 464.08 L220.42 464.42 L221.05 464.68 L221.68 464.86 L222.33 464.95 L222.98 464.96 L223.63 464.96 L224.29 465.02 L224.94 465.21 L225.59 465.67 L226.23 466.4 L226.87 467.45 L227.49 468.9 L228.1 470.57" fill="none" stroke="#f03cf0" stroke-width="1.75" stroke-linejoin="round" stroke-linecap="round"/>
<path d="M192.17 468.6 L192.64 468.94 L193.12 469.29 L193.62 468.38 L194.13 467.03 L194.66 465.51 L195.18 463.8 L195.72 461.99 L196.26 460.2 L196.8 458.51 L197.34 456.96 L197.88 455.58 L198.42 454.32 L198.96 453.09 L199.51 451.91 L200.05 450.76 L200.6 449.66 L201.16 448.6 L201.71 447.61 L202.27 446.69 L202.83 445.87 L203.39 445.19 L203.94 444.64 L204.5 444.22 L205.06 443.92 L205.62 443.7 L206.18 443.54 L206.74 443.38 L207.31 443.24 L207.88 443.18 L208.45 443.2 L209.02 443.29 L209.59 443.45 L210.16 443.67 L210.73 443.91 L211.31 444.17 L211.89 444.46 L212.47 444.78 L213.06 445.14 L213.64 445.58 L214.23 446.1 L214.81 446.65 L215.4 447.24 L215.99 447.84 L216.59 448.43 L217.19 449.02 L217.79 449.6 L218.4 450.16 L219.01 450.7 L219.62 451.22 L220.24 451.67 L220.87 452.05 L221.5 452.33 L222.14 452.49 L222.79 452.51 L223.46 452.38 L224.12 452.15 L224.8 451.88 L225.48 451.64 L226.15 451.52 L226.83 451.53 L227.5 451.72 L228.17 452.19 L228.83 452.88" fill="none" stroke="#28a028" stroke-width="1.75" stroke-linejoin="round" stroke-linecap="round"/>
<path d="M192.22 466.16 L192.69 466.5 L193.17 466.85 L193.68 465.68 L194.2 464.04 L194.72 462.29 L195.26 460.44 L195.79 458.54 L196.33 456.69 L196.88 454.92 L197.42 453.27 L197.96 451.75 L198.51 450.34 L199.06 448.94 L199.61 447.58 L200.16 446.24 L200.72 444.94 L201.28 443.67 L201.84 442.44 L202.41 441.27 L202.98 440.17 L203.54 439.16 L204.11 438.25 L204.68 437.44 L205.25 436.72 L205.83 436.07 L206.4 435.5 L206.98 434.94 L207.56 434.41 L208.14 433.95 L208.73 433.58 L209.31 433.29 L209.89 433.1 L210.48 432.99 L211.07 432.96 L211.65 432.98 L212.24 433.07 L212.84 433.22 L213.43 433.45 L214.02 433.8 L214.61 434.26 L215.2 434.78 L215.8 435.36 L216.39 435.97 L216.99 436.59 L217.59 437.22 L218.2 437.85 L218.81 438.46 L219.42 439.05 L220.04 439.61 L220.66 440.11 L221.29 440.52 L221.93 440.82 L222.57 440.96 L223.23 440.91 L223.9 440.64 L224.58 440.21 L225.27 439.63 L225.97 438.97 L226.68 438.3 L227.39 437.63 L228.1 437.01 L228.81 436.54 L229.51 436.29" fill="none" stroke="#9a3cf0" stroke-width="1.75" stroke-linejoin="round" stroke-linecap="round"/>
<path d="M192.26 464.02 L192.74 464.35 L193.21 464.69 L193.72 463.31 L194.25 461.41 L194.78 459.46 L195.32 457.48 L195.86 455.51 L196.4 453.59 L196.95 451.75 L197.49 450.01 L198.04 448.38 L198.59 446.82 L199.14 445.28 L199.7 443.76 L200.26 442.26 L200.82 440.77 L201.39 439.31 L201.96 437.88 L202.53 436.49 L203.1 435.14 L203.68 433.84 L204.26 432.6 L204.84 431.44 L205.43 430.34 L206.01 429.31 L206.6 428.37 L207.19 427.46 L207.78 426.58 L208.38 425.77 L208.97 425.04 L209.57 424.41 L210.17 423.9 L210.76 423.5 L211.36 423.22 L211.96 423.04 L212.56 422.95 L213.16 422.95 L213.76 423.05 L214.36 423.32 L214.95 423.72 L215.55 424.22 L216.15 424.79 L216.75 425.41 L217.35 426.06 L217.95 426.72 L218.56 427.39 L219.17 428.05 L219.79 428.69 L220.41 429.29 L221.03 429.82 L221.66 430.26 L222.3 430.58 L222.96 430.71 L223.62 430.6 L224.3 430.21 L224.99 429.58 L225.7 428.73 L226.42 427.7 L227.14 426.52 L227.88 425.24 L228.63 423.89 L229.38 422.56 L230.13 421.46" fill="none" stroke="#8a1c1c" stroke-width="1.75" stroke-linejoin="round" stroke-linecap="round"/>
<path d="M192.29 462.46 L192.77 462.79 L193.24 463.13 L193.76 461.59 L194.29 459.49 L194.83 457.39 L195.37 455.32 L195.91 453.3 L196.45 451.34 L197 449.45 L197.55 447.64 L198.1 445.92 L198.65 444.27 L199.21 442.62 L199.77 440.98 L200.33 439.35 L200.9 437.74 L201.47 436.14 L202.04 434.56 L202.62 433 L203.2 431.46 L203.78 429.96 L204.37 428.48 L204.96 427.06 L205.55 425.69 L206.15 424.38 L206.74 423.17 L207.34 421.99 L207.94 420.85 L208.55 419.78 L209.15 418.79 L209.76 417.91 L210.37 417.16 L210.97 416.55 L211.58 416.08 L212.18 415.75 L212.79 415.52 L213.39 415.41 L214 415.42 L214.6 415.63 L215.2 416 L215.8 416.48 L216.4 417.04 L217.01 417.66 L217.61 418.33 L218.22 419.03 L218.83 419.73 L219.44 420.42 L220.05 421.1 L220.68 421.73 L221.3 422.28 L221.94 422.74 L222.58 423.08 L223.24 423.2 L223.91 423.04 L224.59 422.55 L225.29 421.79 L226.01 420.73 L226.74 419.42 L227.49 417.88 L228.25 416.13 L229.02 414.23 L229.8 412.28 L230.58 410.53" fill="none" stroke="#505050" stroke-width="1.75" stroke-linejoin="round" stroke-linecap="round"/>
<path d="M192.34 460.01 L192.82 460.34 L193.29 460.67 L193.81 459.14 L194.34 457.09 L194.88 455.03 L195.42 452.98 L195.96 450.97 L196.5 448.99 L197.05 447.06 L197.6 445.18 L198.16 443.35 L198.71 441.56 L199.27 439.74 L199.84 437.92 L200.41 436.1 L200.98 434.28 L201.56 432.47 L202.14 430.66 L202.72 428.88 L203.31 427.12 L203.9 425.39 L204.5 423.69 L205.09 422.05 L205.69 420.48 L206.29 418.98 L206.9 417.61 L207.5 416.29 L208.11 415.01 L208.72 413.82 L209.33 412.77 L209.94 411.91 L210.54 411.23 L211.15 410.74 L211.75 410.41 L212.35 410.21 L212.96 410.09 L213.56 410.06 L214.17 410.17 L214.77 410.41 L215.37 410.74 L215.98 411.13 L216.59 411.58 L217.19 412.07 L217.8 412.59 L218.42 413.13 L219.03 413.68 L219.65 414.24 L220.28 414.79 L220.9 415.34 L221.54 415.87 L222.17 416.36 L222.81 416.81 L223.46 417.19 L224.12 417.47 L224.78 417.59 L225.46 417.48 L226.15 417.13 L226.85 416.52 L227.58 415.63 L228.31 414.45 L229.07 412.99 L229.84 411.35 L230.6 409.91" fill="none" stroke="#22e0e8" stroke-width="1.75" stroke-linejoin="round" stroke-linecap="round"/>
<path d="M191.73 399.45 L191.94 407.54 L191.73 437.07 L191.82 459.65 L192.34 460.01" fill="none" stroke="#22e0e8" stroke-width="1.9" stroke-dasharray="1.8,0.5"/>
<path d="M220.23 473.83 L220.75 474.18 L221.28 474.53 L221.83 474.46 L222.38 474.12 L222.96 473.38 L223.56 472.17 L224.18 470.67 L224.8 469.13 L225.41 467.72 L226.03 466.53 L226.63 465.62 L227.24 464.9 L227.84 464.25 L228.44 463.67 L229.05 463.16 L229.65 462.74 L230.25 462.41 L230.85 462.19 L231.45 462.11 L232.05 462.24 L232.63 462.63 L233.21 463.28 L233.78 464.17 L234.34 465.23 L234.9 466.39 L235.47 467.58 L236.03 468.71 L236.61 469.82 L237.18 471.04 L237.74 472.33 L238.31 473.64 L238.89 474.93 L239.47 476.16 L240.05 477.29 L240.65 478.28 L241.25 479.19 L241.86 480.02 L242.48 480.8 L243.1 481.51 L243.73 482.19 L244.36 482.82 L245 483.41 L245.64 483.95 L246.29 484.44 L246.95 484.87 L247.61 485.26 L248.28 485.63 L248.95 485.98 L249.63 486.34 L250.31 486.65 L251 486.89 L251.69 487.1 L252.39 487.3 L253.1 487.52 L253.8 487.82 L254.5 488.26 L255.18 488.96 L255.85 490.02 L256.49 491.64 L257.1 493.8 L257.68 496.52 L258.22 499.91 L258.76 503.5" fill="none" stroke="#f03030" stroke-width="1.75" stroke-linejoin="round" stroke-linecap="round"/>
<path d="M220.38 469.5 L220.91 469.84 L221.44 470.18 L221.99 470.16 L222.55 469.66 L223.14 468.81 L223.74 467.59 L224.35 466.12 L224.97 464.63 L225.59 463.25 L226.21 462.05 L226.82 461.07 L227.42 460.25 L228.03 459.49 L228.64 458.8 L229.25 458.18 L229.86 457.63 L230.47 457.17 L231.08 456.81 L231.69 456.59 L232.3 456.52 L232.89 456.67 L233.48 457.04 L234.07 457.6 L234.65 458.31 L235.23 459.09 L235.82 459.91 L236.4 460.67 L237 461.44 L237.58 462.29 L238.17 463.2 L238.77 464.14 L239.36 465.06 L239.96 465.95 L240.57 466.75 L241.18 467.46 L241.8 468.1 L242.43 468.7 L243.06 469.26 L243.69 469.78 L244.33 470.29 L244.98 470.78 L245.63 471.27 L246.28 471.73 L246.94 472.17 L247.6 472.58 L248.27 472.98 L248.94 473.38 L249.61 473.78 L250.29 474.19 L250.97 474.58 L251.66 474.91 L252.36 475.23 L253.06 475.53 L253.76 475.85 L254.46 476.22 L255.16 476.7 L255.85 477.41 L256.53 478.42 L257.19 479.9 L257.82 481.83 L258.42 484.22 L258.99 487.16 L259.56 490.25" fill="none" stroke="#2a3cf0" stroke-width="1.75" stroke-linejoin="round" stroke-linecap="round"/>
<path d="M220.54 465.36 L221.06 465.69 L221.6 466.03 L222.14 466.06 L222.72 465.39 L223.3 464.44 L223.91 463.2 L224.52 461.77 L225.14 460.33 L225.76 458.97 L226.38 457.76 L226.99 456.71 L227.6 455.8 L228.22 454.95 L228.83 454.15 L229.45 453.42 L230.07 452.75 L230.69 452.16 L231.3 451.67 L231.92 451.29 L232.53 451.05 L233.14 450.97 L233.75 451.07 L234.35 451.31 L234.95 451.67 L235.55 452.09 L236.15 452.54 L236.76 452.96 L237.37 453.38 L237.98 453.88 L238.59 454.43 L239.2 455 L239.81 455.57 L240.43 456.11 L241.06 456.61 L241.69 457.03 L242.33 457.42 L242.97 457.78 L243.62 458.13 L244.27 458.47 L244.92 458.81 L245.58 459.17 L246.23 459.55 L246.9 459.94 L247.56 460.33 L248.23 460.73 L248.9 461.13 L249.58 461.56 L250.25 462 L250.93 462.47 L251.62 462.93 L252.3 463.36 L253 463.78 L253.7 464.19 L254.4 464.61 L255.1 465.04 L255.81 465.56 L256.5 466.28 L257.19 467.24 L257.85 468.58 L258.5 470.28 L259.13 472.36 L259.74 474.85 L260.34 477.46" fill="none" stroke="#f03cf0" stroke-width="1.75" stroke-linejoin="round" stroke-linecap="round"/>
<path d="M220.68 461.46 L221.21 461.78 L221.74 462.1 L222.29 462.19 L222.87 461.36 L223.46 460.32 L224.07 459.06 L224.68 457.67 L225.3 456.28 L225.92 454.94 L226.54 453.71 L227.16 452.61 L227.78 451.61 L228.4 450.66 L229.02 449.76 L229.64 448.92 L230.26 448.14 L230.89 447.43 L231.51 446.82 L232.13 446.3 L232.76 445.88 L233.38 445.58 L234 445.41 L234.61 445.36 L235.23 445.38 L235.85 445.46 L236.47 445.57 L237.09 445.66 L237.72 445.75 L238.35 445.91 L238.98 446.1 L239.61 446.33 L240.25 446.56 L240.89 446.78 L241.53 446.97 L242.18 447.12 L242.83 447.27 L243.49 447.41 L244.15 447.55 L244.81 447.71 L245.48 447.89 L246.14 448.12 L246.81 448.4 L247.48 448.71 L248.15 449.06 L248.83 449.44 L249.5 449.86 L250.18 450.31 L250.86 450.79 L251.54 451.31 L252.23 451.85 L252.92 452.37 L253.61 452.88 L254.3 453.4 L255.01 453.9 L255.71 454.41 L256.42 454.97 L257.12 455.69 L257.81 456.61 L258.49 457.81 L259.16 459.3 L259.81 461.06 L260.45 463.13 L261.08 465.27" fill="none" stroke="#28a028" stroke-width="1.75" stroke-linejoin="round" stroke-linecap="round"/>
<path d="M220.81 457.85 L221.34 458.17 L221.88 458.49 L222.42 458.62 L223.01 457.64 L223.61 456.51 L224.21 455.24 L224.83 453.89 L225.45 452.53 L226.07 451.22 L226.69 449.97 L227.31 448.82 L227.93 447.73 L228.56 446.69 L229.18 445.7 L229.81 444.76 L230.44 443.88 L231.07 443.06 L231.7 442.33 L232.33 441.68 L232.96 441.1 L233.6 440.6 L234.23 440.19 L234.86 439.85 L235.49 439.57 L236.13 439.33 L236.76 439.11 L237.41 438.89 L238.05 438.68 L238.7 438.51 L239.34 438.38 L239.99 438.28 L240.65 438.19 L241.3 438.1 L241.96 438.02 L242.63 437.92 L243.3 437.83 L243.97 437.76 L244.64 437.71 L245.32 437.7 L245.99 437.74 L246.67 437.84 L247.35 438.02 L248.03 438.27 L248.71 438.57 L249.38 438.94 L250.06 439.36 L250.75 439.84 L251.43 440.36 L252.11 440.93 L252.8 441.53 L253.48 442.14 L254.18 442.75 L254.87 443.36 L255.57 443.95 L256.28 444.52 L256.99 445.12 L257.69 445.84 L258.39 446.72 L259.08 447.8 L259.76 449.07 L260.44 450.54 L261.11 452.21 L261.77 453.91" fill="none" stroke="#9a3cf0" stroke-width="1.75" stroke-linejoin="round" stroke-linecap="round"/>
<path d="M220.93 454.68 L221.46 454.99 L222 455.3 L222.54 455.47 L223.13 454.37 L223.74 453.16 L224.34 451.87 L224.96 450.55 L225.58 449.23 L226.2 447.93 L226.82 446.68 L227.44 445.47 L228.07 444.32 L228.7 443.2 L229.33 442.12 L229.96 441.09 L230.6 440.12 L231.23 439.21 L231.87 438.37 L232.51 437.6 L233.15 436.88 L233.79 436.2 L234.43 435.57 L235.08 434.99 L235.72 434.43 L236.37 433.91 L237.03 433.4 L237.68 432.9 L238.34 432.42 L239 431.97 L239.67 431.55 L240.33 431.15 L241 430.77 L241.67 430.42 L242.35 430.08 L243.03 429.75 L243.71 429.46 L244.39 429.2 L245.08 428.98 L245.77 428.81 L246.45 428.72 L247.14 428.71 L247.83 428.81 L248.51 428.99 L249.2 429.26 L249.88 429.61 L250.56 430.04 L251.25 430.53 L251.93 431.09 L252.61 431.71 L253.3 432.37 L253.99 433.05 L254.68 433.75 L255.37 434.45 L256.07 435.11 L256.78 435.74 L257.49 436.37 L258.2 437.1 L258.9 437.94 L259.61 438.9 L260.3 439.99 L261 441.2 L261.69 442.51 L262.39 443.8" fill="none" stroke="#8a1c1c" stroke-width="1.75" stroke-linejoin="round" stroke-linecap="round"/>
<path d="M221.01 452.36 L221.55 452.67 L222.08 452.97 L222.63 453.18 L223.22 451.98 L223.83 450.71 L224.44 449.42 L225.05 448.12 L225.67 446.83 L226.29 445.54 L226.92 444.28 L227.54 443.04 L228.17 441.83 L228.8 440.65 L229.44 439.52 L230.08 438.43 L230.71 437.38 L231.35 436.4 L231.99 435.49 L232.64 434.63 L233.28 433.81 L233.93 433 L234.58 432.21 L235.23 431.44 L235.89 430.69 L236.55 429.95 L237.22 429.23 L237.88 428.53 L238.55 427.85 L239.22 427.19 L239.9 426.55 L240.58 425.94 L241.26 425.35 L241.95 424.8 L242.63 424.27 L243.32 423.78 L244.01 423.33 L244.71 422.93 L245.4 422.58 L246.1 422.3 L246.79 422.11 L247.48 422.03 L248.18 422.06 L248.87 422.19 L249.56 422.43 L250.24 422.78 L250.93 423.21 L251.61 423.72 L252.3 424.31 L252.98 424.96 L253.67 425.66 L254.36 426.4 L255.05 427.16 L255.74 427.92 L256.44 428.65 L257.15 429.31 L257.86 429.97 L258.57 430.7 L259.28 431.51 L259.99 432.39 L260.7 433.34 L261.41 434.35 L262.12 435.4 L262.84 436.39" fill="none" stroke="#505050" stroke-width="1.75" stroke-linejoin="round" stroke-linecap="round"/>
<path d="M221.1 449.95 L221.64 450.24 L222.17 450.54 L222.72 450.73 L223.32 449.33 L223.94 447.84 L224.56 446.31 L225.18 444.78 L225.81 443.26 L226.44 441.76 L227.08 440.28 L227.71 438.84 L228.35 437.45 L228.99 436.1 L229.63 434.81 L230.28 433.58 L230.92 432.41 L231.57 431.33 L232.21 430.33 L232.86 429.4 L233.51 428.53 L234.16 427.69 L234.82 426.88 L235.47 426.1 L236.13 425.33 L236.79 424.59 L237.46 423.87 L238.13 423.17 L238.8 422.49 L239.48 421.83 L240.15 421.19 L240.83 420.56 L241.52 419.96 L242.21 419.38 L242.9 418.82 L243.59 418.29 L244.29 417.78 L244.99 417.3 L245.69 416.86 L246.39 416.46 L247.1 416.12 L247.8 415.83 L248.51 415.64 L249.21 415.57 L249.91 415.62 L250.61 415.79 L251.31 416.07 L252 416.49 L252.69 417.02 L253.38 417.65 L254.07 418.37 L254.76 419.17 L255.45 420 L256.14 420.84 L256.84 421.63 L257.55 422.35 L258.26 423.06 L258.97 423.86 L259.68 424.74 L260.39 425.69 L261.1 426.69 L261.81 427.75 L262.52 428.85 L263.23 429.96" fill="none" stroke="#22e0e8" stroke-width="1.75" stroke-linejoin="round" stroke-linecap="round"/>
<path d="M220.66 406.5 L220.82 413.5 L220.46 434.71 L220.25 456.84 L221.1 449.95" fill="none" stroke="#22e0e8" stroke-width="1.9" stroke-dasharray="1.8,0.5"/>
<line x1="289.3" y1="437.9" x2="302.1" y2="437.9" stroke="#22e0e8" stroke-width="1.3"/>
<circle cx="295.7" cy="437.9" r="1.1" fill="#22e0e8" stroke="none" stroke-width="0"/>
<text x="305.3" y="440.49" font-size="7.2" text-anchor="start" fill="#222">40 kV/cm</text>
<line x1="289.3" y1="444.93" x2="302.1" y2="444.93" stroke="#505050" stroke-width="1.3"/>
<circle cx="295.7" cy="444.93" r="1.1" fill="#505050" stroke="none" stroke-width="0"/>
<text x="305.3" y="447.52" font-size="7.2" text-anchor="start" fill="#222">35 kV/cm</text>
<line x1="289.3" y1="451.96" x2="302.1" y2="451.96" stroke="#8a1c1c" stroke-width="1.3"/>
<circle cx="295.7" cy="451.96" r="1.1" fill="#8a1c1c" stroke="none" stroke-width="0"/>
<text x="305.3" y="454.55" font-size="7.2" text-anchor="start" fill="#222">30 kV/cm</text>
<line x1="289.3" y1="458.99" x2="302.1" y2="458.99" stroke="#9a40f0" stroke-width="1.3"/>
<circle cx="295.7" cy="458.99" r="1.1" fill="#9a40f0" stroke="none" stroke-width="0"/>
<text x="305.3" y="461.58" font-size="7.2" text-anchor="start" fill="#222">25 kV/cm</text>
<line x1="289.3" y1="466.02" x2="302.1" y2="466.02" stroke="#28a028" stroke-width="1.3"/>
<circle cx="295.7" cy="466.02" r="1.1" fill="#28a028" stroke="none" stroke-width="0"/>
<text x="305.3" y="468.61" font-size="7.2" text-anchor="start" fill="#222">20 kV/cm</text>
<line x1="289.3" y1="473.05" x2="302.1" y2="473.05" stroke="#f03cf0" stroke-width="1.3"/>
<circle cx="295.7" cy="473.05" r="1.1" fill="#f03cf0" stroke="none" stroke-width="0"/>
<text x="305.3" y="475.64" font-size="7.2" text-anchor="start" fill="#222">15 kV/cm</text>
<line x1="289.3" y1="480.08" x2="302.1" y2="480.08" stroke="#2a3cf0" stroke-width="1.3"/>
<circle cx="295.7" cy="480.08" r="1.1" fill="#2a3cf0" stroke="none" stroke-width="0"/>
<text x="305.3" y="482.67" font-size="7.2" text-anchor="start" fill="#222">10 kV/cm</text>
<line x1="289.3" y1="487.11" x2="302.1" y2="487.11" stroke="#f03030" stroke-width="1.3"/>
<circle cx="295.7" cy="487.11" r="1.1" fill="#f03030" stroke="none" stroke-width="0"/>
<text x="305.3" y="489.7" font-size="7.2" text-anchor="start" fill="#222">5 kV/cm</text>
<text x="33.8" y="412.88" font-size="8" text-anchor="end" fill="#222">1.2</text>
<text x="34.4" y="427.38" font-size="8" text-anchor="end" fill="#222">1.0</text>
<text x="36.4" y="441.88" font-size="8" text-anchor="end" fill="#222">0.8</text>
<text x="36.6" y="455.28" font-size="8" text-anchor="end" fill="#222">0.6</text>
<text x="38.5" y="468.48" font-size="8" text-anchor="end" fill="#222">0.4</text>
<text x="39.5" y="481.68" font-size="8" text-anchor="end" fill="#222">0.2</text>
<text x="41.5" y="495.88" font-size="8" text-anchor="end" fill="#222">0.0</text>
<text x="42.4" y="505.28" font-size="8" text-anchor="end" fill="#222">300</text>
<text x="46.3" y="514.58" font-size="8" text-anchor="end" fill="#222">340</text>
<text x="50.3" y="525.48" font-size="8" text-anchor="end" fill="#222">380</text>
<text x="53.8" y="536.88" font-size="8" text-anchor="end" fill="#222">420</text>
<text x="56.8" y="544.38" font-size="8" text-anchor="end" fill="#222">440</text>
<text x="12.6" y="471.72" font-size="8.4" text-anchor="middle" fill="#222" transform="rotate(85 12.6 468.7)">ΔS (J/(K-kg))</text>
<text x="27.5" y="535.95" font-size="8.2" text-anchor="middle" fill="#222" transform="rotate(65 27.5 533)">T (K)</text>
<text x="84.6" y="546.34" font-size="7.6" text-anchor="middle" fill="#222">0</text>
<text x="125.7" y="542.24" font-size="7.6" text-anchor="middle" fill="#222">10</text>
<text x="163.6" y="536.34" font-size="7.6" text-anchor="middle" fill="#222">20</text>
<text x="200.7" y="529.64" font-size="7.6" text-anchor="middle" fill="#222">30</text>
<text x="234.9" y="524.74" font-size="7.6" text-anchor="middle" fill="#222">40</text>
<text x="267" y="519.44" font-size="7.6" text-anchor="middle" fill="#222">50</text>
<text x="190.5" y="552" font-size="8.6" text-anchor="middle" fill="#222" transform="rotate(-11.5 190.5 548.9)">Annealing time (h)</text>
<text x="353" y="150.5" font-size="15" text-anchor="start" fill="#111" font-weight="bold">g</text>
<path d="M400.66 328.46 L553.77 286.81" fill="none" stroke="#c4c4c4" stroke-width="0.6"/>
<path d="M553.77 286.81 L661.67 326.7" fill="none" stroke="#c4c4c4" stroke-width="0.6"/>
<path d="M399.79 310.21 L553.97 270.91" fill="none" stroke="#c4c4c4" stroke-width="0.6"/>
<path d="M553.97 270.91 L662.68 308.62" fill="none" stroke="#c4c4c4" stroke-width="0.6"/>
<path d="M398.9 291.69 L554.18 254.81" fill="none" stroke="#c4c4c4" stroke-width="0.6"/>
<path d="M554.18 254.81 L663.7 290.29" fill="none" stroke="#c4c4c4" stroke-width="0.6"/>
<path d="M398 272.91 L554.38 238.51" fill="none" stroke="#c4c4c4" stroke-width="0.6"/>
<path d="M554.38 238.51 L664.73 271.69" fill="none" stroke="#c4c4c4" stroke-width="0.6"/>
<path d="M397.09 253.84 L554.59 222" fill="none" stroke="#c4c4c4" stroke-width="0.6"/>
<path d="M554.59 222 L665.78 252.82" fill="none" stroke="#c4c4c4" stroke-width="0.6"/>
<path d="M396.16 234.49 L554.8 205.29" fill="none" stroke="#c4c4c4" stroke-width="0.6"/>
<path d="M554.8 205.29 L666.85 233.67" fill="none" stroke="#c4c4c4" stroke-width="0.6"/>
<path d="M395.22 214.85 L555.02 188.35" fill="none" stroke="#c4c4c4" stroke-width="0.6"/>
<path d="M555.02 188.35 L667.93 214.24" fill="none" stroke="#c4c4c4" stroke-width="0.6"/>
<path d="M394.26 194.92 L555.23 171.2" fill="none" stroke="#c4c4c4" stroke-width="0.6"/>
<path d="M555.23 171.2 L669.02 194.51" fill="none" stroke="#c4c4c4" stroke-width="0.6"/>
<path d="M393.29 174.67 L555.45 153.83" fill="none" stroke="#c4c4c4" stroke-width="0.6"/>
<path d="M555.45 153.83 L670.14 174.49" fill="none" stroke="#c4c4c4" stroke-width="0.6"/>
<path d="M425.59 321.68 L419.54 162.21" fill="none" stroke="#c4c4c4" stroke-width="0.6"/>
<path d="M425.59 321.68 L528.22 374.29" fill="none" stroke="#c4c4c4" stroke-width="0.6"/>
<path d="M472.14 309.02 L469.18 156.25" fill="none" stroke="#c4c4c4" stroke-width="0.6"/>
<path d="M472.14 309.02 L577.35 356.77" fill="none" stroke="#c4c4c4" stroke-width="0.6"/>
<path d="M514.61 297.46 L514.22 150.85" fill="none" stroke="#c4c4c4" stroke-width="0.6"/>
<path d="M514.61 297.46 L621.5 341.02" fill="none" stroke="#c4c4c4" stroke-width="0.6"/>
<path d="M553.77 286.81 L555.55 145.89" fill="none" stroke="#c4c4c4" stroke-width="0.6"/>
<path d="M553.77 286.81 L661.67 326.7" fill="none" stroke="#c4c4c4" stroke-width="0.6"/>
<path d="M392.85 165.41 L555.55 145.89 L670.65 165.32" fill="none" stroke="#9a9a9a" stroke-width="0.6"/>
<path d="M661.67 326.7 L670.65 165.32" fill="none" stroke="#777" stroke-width="0.7"/>
<path d="M407.61 332.27 L561.38 289.62 L563.6 147.25" fill="none" stroke="#a9a64a" stroke-width="0.7"/>
<path d="M422.5 340.43 L577.6 295.62 L580.8 150.15" fill="none" stroke="#a9a64a" stroke-width="0.7"/>
<path d="M438.22 349.05 L594.57 301.89 L598.84 153.2" fill="none" stroke="#a9a64a" stroke-width="0.7"/>
<path d="M454.82 358.15 L612.35 308.47 L617.8 156.4" fill="none" stroke="#a9a64a" stroke-width="0.7"/>
<path d="M472.38 367.78 L631.01 315.36 L637.75 159.77" fill="none" stroke="#a9a64a" stroke-width="0.7"/>
<path d="M491 377.98 L650.6 322.61 L658.75 163.31" fill="none" stroke="#a9a64a" stroke-width="0.7"/>
<path d="M534.56 292.04 L535.3 148.32 L647.22 168.17 L640.32 333.03Z" fill="#b6b66c" stroke="none" stroke-width="1" fill-opacity="0.78"/>
<path d="M561.38 289.62 L563.6 147.25" fill="none" stroke="#8f8b2a" stroke-width="0.7" stroke-opacity="0.8"/>
<path d="M577.6 295.62 L580.8 150.15" fill="none" stroke="#8f8b2a" stroke-width="0.7" stroke-opacity="0.8"/>
<path d="M594.57 301.89 L598.84 153.2" fill="none" stroke="#8f8b2a" stroke-width="0.7" stroke-opacity="0.8"/>
<path d="M612.35 308.47 L617.8 156.4" fill="none" stroke="#8f8b2a" stroke-width="0.7" stroke-opacity="0.8"/>
<path d="M631.01 315.36 L637.75 159.77" fill="none" stroke="#8f8b2a" stroke-width="0.7" stroke-opacity="0.8"/>
<path d="M650.6 322.61 L658.75 163.31" fill="none" stroke="#8f8b2a" stroke-width="0.7" stroke-opacity="0.8"/>
<path d="M425.79 321.62 L419.75 162.18 L528.46 188.02 L528.3 374.15Z" fill="#b8ffff" stroke="none" stroke-width="1" fill-opacity="0.74"/>
<path d="M392.85 165.41 L400.66 328.46 L501.59 383.79 L661.67 326.7" fill="none" stroke="#111" stroke-width="1.6" stroke-linejoin="miter"/>
<line x1="397.66" y1="328.46" x2="400.66" y2="328.46" stroke="#111" stroke-width="0.8"/>
<line x1="398.43" y1="319.37" x2="400.23" y2="319.37" stroke="#111" stroke-width="0.8"/>
<line x1="396.79" y1="310.21" x2="399.79" y2="310.21" stroke="#111" stroke-width="0.8"/>
<line x1="397.55" y1="300.99" x2="399.35" y2="300.99" stroke="#111" stroke-width="0.8"/>
<line x1="395.9" y1="291.69" x2="398.9" y2="291.69" stroke="#111" stroke-width="0.8"/>
<line x1="396.65" y1="282.34" x2="398.45" y2="282.34" stroke="#111" stroke-width="0.8"/>
<line x1="395" y1="272.91" x2="398" y2="272.91" stroke="#111" stroke-width="0.8"/>
<line x1="395.74" y1="263.41" x2="397.54" y2="263.41" stroke="#111" stroke-width="0.8"/>
<line x1="394.09" y1="253.84" x2="397.09" y2="253.84" stroke="#111" stroke-width="0.8"/>
<line x1="394.82" y1="244.2" x2="396.62" y2="244.2" stroke="#111" stroke-width="0.8"/>
<line x1="393.16" y1="234.49" x2="396.16" y2="234.49" stroke="#111" stroke-width="0.8"/>
<line x1="393.89" y1="224.71" x2="395.69" y2="224.71" stroke="#111" stroke-width="0.8"/>
<line x1="392.22" y1="214.85" x2="395.22" y2="214.85" stroke="#111" stroke-width="0.8"/>
<line x1="392.94" y1="204.92" x2="394.74" y2="204.92" stroke="#111" stroke-width="0.8"/>
<line x1="391.26" y1="194.92" x2="394.26" y2="194.92" stroke="#111" stroke-width="0.8"/>
<line x1="391.98" y1="184.83" x2="393.78" y2="184.83" stroke="#111" stroke-width="0.8"/>
<line x1="390.29" y1="174.67" x2="393.29" y2="174.67" stroke="#111" stroke-width="0.8"/>
<path d="M407.61 332.27 L401.29 334.02" fill="none" stroke="#111" stroke-width="0.9"/>
<path d="M422.5 340.43 L416.1 342.28" fill="none" stroke="#111" stroke-width="0.9"/>
<path d="M438.22 349.05 L431.74 351" fill="none" stroke="#111" stroke-width="0.9"/>
<path d="M454.82 358.15 L448.26 360.21" fill="none" stroke="#111" stroke-width="0.9"/>
<path d="M472.38 367.78 L465.75 369.97" fill="none" stroke="#111" stroke-width="0.9"/>
<path d="M491 377.98 L484.29 380.31" fill="none" stroke="#111" stroke-width="0.9"/>
<path d="M414.96 336.3 L411.33 337.32" fill="none" stroke="#111" stroke-width="0.8"/>
<path d="M430.25 344.68 L426.58 345.76" fill="none" stroke="#111" stroke-width="0.8"/>
<path d="M446.4 353.53 L442.69 354.68" fill="none" stroke="#111" stroke-width="0.8"/>
<path d="M463.47 362.89 L459.72 364.11" fill="none" stroke="#111" stroke-width="0.8"/>
<path d="M481.55 372.8 L477.75 374.09" fill="none" stroke="#111" stroke-width="0.8"/>
<text x="394.06" y="334.54" font-size="8" text-anchor="end" fill="#222">0.0</text>
<text x="393.19" y="316.29" font-size="8" text-anchor="end" fill="#222">0.2</text>
<text x="392.3" y="297.77" font-size="8" text-anchor="end" fill="#222">0.4</text>
<text x="391.4" y="278.99" font-size="8" text-anchor="end" fill="#222">0.6</text>
<text x="390.49" y="259.92" font-size="8" text-anchor="end" fill="#222">0.8</text>
<text x="389.56" y="240.57" font-size="8" text-anchor="end" fill="#222">1.0</text>
<text x="388.62" y="220.93" font-size="8" text-anchor="end" fill="#222">1.2</text>
<text x="387.66" y="201" font-size="8" text-anchor="end" fill="#222">1.4</text>
<text x="386.69" y="180.75" font-size="8" text-anchor="end" fill="#222">1.6</text>
<text x="401" y="340.45" font-size="8.2" text-anchor="middle" fill="#222" transform="rotate(-40 401 337.5)">0</text>
<text x="416.2" y="348.65" font-size="8.2" text-anchor="middle" fill="#222" transform="rotate(-40 416.2 345.7)">10</text>
<text x="431.4" y="357.95" font-size="8.2" text-anchor="middle" fill="#222" transform="rotate(-40 431.4 355)">20</text>
<text x="447.7" y="366.15" font-size="8.2" text-anchor="middle" fill="#222" transform="rotate(-40 447.7 363.2)">30</text>
<text x="461.8" y="375.55" font-size="8.2" text-anchor="middle" fill="#222" transform="rotate(-40 461.8 372.6)">40</text>
<text x="480.4" y="389.55" font-size="8.2" text-anchor="middle" fill="#222" transform="rotate(-40 480.4 386.6)">50</text>
<text x="423.8" y="373.75" font-size="8.2" text-anchor="middle" fill="#222" transform="rotate(34.5 423.8 370.8)">Annealing time (h)</text>
<text x="361.5" y="251.04" font-size="7.9" text-anchor="middle" fill="#222" transform="rotate(90 361.5 248.2)">Intensity (a.u.)</text>
<defs><radialGradient id="ball" cx="0.35" cy="0.35" r="0.7"><stop offset="0" stop-color="#ffb0b0"/><stop offset="0.45" stop-color="#e01818"/><stop offset="1" stop-color="#900000"/></radialGradient></defs>
<path d="M429.29 222.98 L444.14 198.21 L460.73 194.56 L478.74 212.04 L497.32 193.71 L517.48 221.87" fill="none" stroke="#e02020" stroke-width="0.9"/>
<circle cx="429.29" cy="222.98" r="2.6" fill="url(#ball)" stroke="none" stroke-width="0"/>
<circle cx="444.14" cy="198.21" r="2.6" fill="url(#ball)" stroke="none" stroke-width="0"/>
<circle cx="460.73" cy="194.56" r="2.6" fill="url(#ball)" stroke="none" stroke-width="0"/>
<circle cx="478.74" cy="212.04" r="2.6" fill="url(#ball)" stroke="none" stroke-width="0"/>
<circle cx="497.32" cy="193.71" r="2.6" fill="url(#ball)" stroke="none" stroke-width="0"/>
<circle cx="517.48" cy="221.87" r="2.6" fill="url(#ball)" stroke="none" stroke-width="0"/>
<path d="M432.1 302.82 L446.75 287.46 L463.48 314.97 L480.31 309.25 L498.67 342.78 L517.63 318.87" fill="none" stroke="#e02020" stroke-width="0.9"/>
<path d="M432.1 299.22 L432.99 301.6 L435.52 301.71 L433.53 303.29 L434.21 305.73 L432.1 304.33 L429.98 305.73 L430.66 303.29 L428.67 301.71 L431.21 301.6Z" fill="#e01010" stroke="none" stroke-width="1"/>
<path d="M446.75 283.86 L447.64 286.24 L450.17 286.35 L448.19 287.93 L448.86 290.38 L446.75 288.98 L444.63 290.38 L445.31 287.93 L443.32 286.35 L445.86 286.24Z" fill="#e01010" stroke="none" stroke-width="1"/>
<path d="M463.48 311.37 L464.37 313.74 L466.91 313.85 L464.92 315.43 L465.6 317.88 L463.48 316.48 L461.37 317.88 L462.05 315.43 L460.06 313.85 L462.59 313.74Z" fill="#e01010" stroke="none" stroke-width="1"/>
<path d="M480.31 305.65 L481.2 308.03 L483.74 308.14 L481.75 309.72 L482.43 312.17 L480.31 310.77 L478.2 312.17 L478.88 309.72 L476.89 308.14 L479.43 308.03Z" fill="#e01010" stroke="none" stroke-width="1"/>
<path d="M498.67 339.18 L499.56 341.56 L502.09 341.67 L500.11 343.25 L500.79 345.7 L498.67 344.3 L496.55 345.7 L497.23 343.25 L495.25 341.67 L497.78 341.56Z" fill="#e01010" stroke="none" stroke-width="1"/>
<path d="M517.63 315.27 L518.52 317.64 L521.05 317.75 L519.07 319.33 L519.74 321.78 L517.63 320.38 L515.51 321.78 L516.19 319.33 L514.2 317.75 L516.74 317.64Z" fill="#e01010" stroke="none" stroke-width="1"/>
<path d="M542.84 206.58 L559.55 209.94 L577.28 205.69 L595.54 218.66 L615.35 211.86 L635.35 229.11" fill="none" stroke="#1a28c0" stroke-width="0.9"/>
<path d="M542.84 204.18 L545.24 208.18 L540.44 208.18Z" fill="#1a28d0" stroke="none" stroke-width="1"/>
<path d="M559.55 207.54 L561.95 211.54 L557.15 211.54Z" fill="#1a28d0" stroke="none" stroke-width="1"/>
<path d="M577.28 203.29 L579.68 207.29 L574.88 207.29Z" fill="#1a28d0" stroke="none" stroke-width="1"/>
<path d="M595.54 216.26 L597.94 220.26 L593.14 220.26Z" fill="#1a28d0" stroke="none" stroke-width="1"/>
<path d="M615.35 209.46 L617.75 213.46 L612.95 213.46Z" fill="#1a28d0" stroke="none" stroke-width="1"/>
<path d="M635.35 226.71 L637.75 230.71 L632.95 230.71Z" fill="#1a28d0" stroke="none" stroke-width="1"/>
<path d="M542.3 272.66 L558.83 260.24 L575.62 283.9 L593.9 276.75 L611.97 306.61 L632.91 285.12" fill="none" stroke="#1a28c0" stroke-width="0.9"/>
<rect x="540.3" y="270.66" width="4" height="4" fill="#1a28d0" stroke="none" stroke-width="1"/>
<rect x="556.83" y="258.24" width="4" height="4" fill="#1a28d0" stroke="none" stroke-width="1"/>
<rect x="573.62" y="281.9" width="4" height="4" fill="#1a28d0" stroke="none" stroke-width="1"/>
<rect x="591.9" y="274.75" width="4" height="4" fill="#1a28d0" stroke="none" stroke-width="1"/>
<rect x="609.97" y="304.61" width="4" height="4" fill="#1a28d0" stroke="none" stroke-width="1"/>
<rect x="630.91" y="283.12" width="4" height="4" fill="#1a28d0" stroke="none" stroke-width="1"/>
<text x="429.3" y="218.63" font-size="7.3" text-anchor="middle" fill="#1a1a1a">1.096</text>
<text x="442.5" y="194.93" font-size="7.3" text-anchor="middle" fill="#1a1a1a">1.395</text>
<text x="461.4" y="189.23" font-size="7.3" text-anchor="middle" fill="#1a1a1a">1.476</text>
<text x="479.3" y="209.43" font-size="7.3" text-anchor="middle" fill="#1a1a1a">1.359</text>
<text x="497.6" y="191.03" font-size="7.3" text-anchor="middle" fill="#1a1a1a">1.574</text>
<text x="520.5" y="217.73" font-size="7.3" text-anchor="middle" fill="#1a1a1a">1.373</text>
<text x="433.3" y="313.63" font-size="7.3" text-anchor="middle" fill="#1a1a1a">0.248</text>
<text x="447.2" y="282.13" font-size="7.3" text-anchor="middle" fill="#1a1a1a">0.488</text>
<text x="464.8" y="327.83" font-size="7.3" text-anchor="middle" fill="#1a1a1a">0.277</text>
<text x="479.3" y="318.63" font-size="7.3" text-anchor="middle" fill="#1a1a1a">0.416</text>
<text x="500.8" y="354.13" font-size="7.3" text-anchor="middle" fill="#1a1a1a">0.164</text>
<text x="518.5" y="330.23" font-size="7.3" text-anchor="middle" fill="#1a1a1a">0.484</text>
<text x="543.2" y="199.43" font-size="7.3" text-anchor="middle" fill="#1a1a1a">1.051</text>
<text x="559.4" y="206.13" font-size="7.3" text-anchor="middle" fill="#1a1a1a">1.062</text>
<text x="577.8" y="201.23" font-size="7.3" text-anchor="middle" fill="#1a1a1a">1.158</text>
<text x="595.9" y="215.63" font-size="7.3" text-anchor="middle" fill="#1a1a1a">1.068</text>
<text x="615.6" y="208.83" font-size="7.3" text-anchor="middle" fill="#1a1a1a">1.191</text>
<text x="636.4" y="225.63" font-size="7.3" text-anchor="middle" fill="#1a1a1a">1.066</text>
<text x="541.9" y="269.13" font-size="7.3" text-anchor="middle" fill="#1a1a1a">0.272</text>
<text x="558.9" y="258.03" font-size="7.3" text-anchor="middle" fill="#1a1a1a">0.486</text>
<text x="576.4" y="281.83" font-size="7.3" text-anchor="middle" fill="#1a1a1a">0.279</text>
<text x="594.5" y="274.23" font-size="7.3" text-anchor="middle" fill="#1a1a1a">0.431</text>
<text x="612.9" y="304.03" font-size="7.3" text-anchor="middle" fill="#1a1a1a">0.171</text>
<text x="632.9" y="282.33" font-size="7.3" text-anchor="middle" fill="#1a1a1a">0.481</text>
<rect x="471.7" y="258.8" width="53.9" height="29.6" fill="#000" stroke="none" stroke-width="1"/>
<rect x="468.7" y="255.8" width="53" height="29.6" fill="#00f0f0" stroke="none" stroke-width="1"/>
<line x1="470" y1="263.1" x2="492.4" y2="263.1" stroke="#e02020" stroke-width="0.9"/>
<circle cx="481.1" cy="263.1" r="2.6" fill="url(#ball)" stroke="none" stroke-width="0"/>
<text x="496.9" y="265.91" font-size="7.8" text-anchor="start" fill="#111" font-weight="bold">ΔT<tspan font-size="5" dy="1.8">max</tspan></text>
<line x1="470" y1="278.1" x2="492.4" y2="278.1" stroke="#e02020" stroke-width="0.9"/>
<path d="M481.1 273 L482.24 276.04 L485.47 276.18 L482.94 278.2 L483.8 281.32 L481.1 279.53 L478.4 281.32 L479.26 278.2 L476.73 276.18 L479.96 276.04Z" fill="#e01010" stroke="none" stroke-width="1"/>
<text x="496.9" y="280.91" font-size="7.8" text-anchor="start" fill="#111" font-weight="bold">ΔT<tspan font-size="5" dy="1.8">min</tspan></text>
<rect x="582.3" y="238.9" width="50" height="26.3" fill="#000" stroke="none" stroke-width="1"/>
<rect x="579.1" y="235.9" width="50" height="27.3" fill="#00f0f0" stroke="none" stroke-width="1"/>
<line x1="579.7" y1="241.3" x2="601.3" y2="241.3" stroke="#1a28c0" stroke-width="0.9"/>
<path d="M590.5 237.4 L594.3 243.8 L586.7 243.8Z" fill="#1a28d0" stroke="none" stroke-width="1"/>
<text x="604.8" y="244.81" font-size="7.8" text-anchor="start" fill="#111" font-weight="bold">ΔS<tspan font-size="5" dy="1.8">max</tspan></text>
<line x1="579.7" y1="255.7" x2="601.3" y2="255.7" stroke="#1a28c0" stroke-width="0.9"/>
<rect x="587.5" y="252.7" width="6" height="6" fill="#1a28d0" stroke="none" stroke-width="1"/>
<text x="604.8" y="258.81" font-size="7.8" text-anchor="start" fill="#111" font-weight="bold">ΔS<tspan font-size="5" dy="1.8">min</tspan></text>
<text x="353.5" y="420.5" font-size="15" text-anchor="start" fill="#111" font-weight="bold">h</text>
<defs><linearGradient id="hgrad" x1="0" y1="1" x2="1" y2="0"><stop offset="0" stop-color="#a8a258"/><stop offset="0.5" stop-color="#dfaa5c"/><stop offset="1" stop-color="#f7ab60"/></linearGradient><pattern id="hatch" width="2.6" height="2.6" patternUnits="userSpaceOnUse" patternTransform="rotate(45)"><line x1="0" y1="0" x2="0" y2="2.6" stroke="#5a4a20" stroke-width="0.5" stroke-opacity="0.45"/></pattern></defs>
<path d="M403.22 511.67 L404.21 508.32 L405.2 505.63 L406.19 503.3 L407.17 501.23 L408.16 499.35 L409.15 497.61 L410.14 495.99 L411.13 494.47 L412.12 493.04 L413.11 491.68 L414.09 490.39 L415.08 489.16 L416.07 487.99 L417.06 486.86 L418.05 485.78 L419.04 484.74 L420.02 483.74 L421.01 482.77 L422 481.84 L422.99 480.93 L423.98 480.06 L424.97 479.21 L425.96 478.39 L426.94 477.6 L427.93 476.83 L428.92 476.08 L429.91 475.35 L430.9 474.64 L431.89 473.95 L432.88 473.28 L433.86 472.63 L434.85 471.99 L435.84 471.37 L436.83 470.77 L437.82 470.18 L438.81 469.61 L439.79 469.04 L440.78 468.5 L441.77 467.96 L442.76 467.44 L443.75 466.93 L444.74 466.44 L445.73 465.95 L446.71 465.47 L447.7 465.01 L448.69 464.55 L449.68 464.11 L450.67 463.68 L451.66 463.25 L452.65 462.84 L453.63 462.43 L454.62 462.03 L455.61 461.64 L456.6 461.26 L457.59 460.88 L458.58 460.52 L459.56 460.16 L460.55 459.81 L461.54 459.47 L462.53 459.13 L463.52 458.8 L464.51 458.48 L465.5 458.16 L466.48 457.85 L467.47 457.54 L468.46 457.24 L469.45 456.95 L470.44 456.67 L471.43 456.38 L472.42 456.11 L473.4 455.84 L474.39 455.57 L475.38 455.31 L476.37 455.06 L477.36 454.81 L478.35 454.56 L479.33 454.32 L480.32 454.09 L481.31 453.85 L482.3 453.63 L482.3 488.84 L481.31 489.1 L480.32 489.35 L479.33 489.6 L478.35 489.86 L477.36 490.11 L476.37 490.37 L475.38 490.62 L474.39 490.88 L473.4 491.13 L472.42 491.39 L471.43 491.64 L470.44 491.9 L469.45 492.15 L468.46 492.41 L467.47 492.67 L466.48 492.92 L465.5 493.18 L464.51 493.43 L463.52 493.69 L462.53 493.95 L461.54 494.2 L460.55 494.46 L459.56 494.72 L458.58 494.98 L457.59 495.23 L456.6 495.49 L455.61 495.75 L454.62 496.01 L453.63 496.27 L452.65 496.52 L451.66 496.78 L450.67 497.04 L449.68 497.3 L448.69 497.56 L447.7 497.82 L446.71 498.08 L445.73 498.34 L444.74 498.6 L443.75 498.86 L442.76 499.12 L441.77 499.38 L440.78 499.64 L439.79 499.91 L438.81 500.17 L437.82 500.43 L436.83 500.69 L435.84 500.95 L434.85 501.22 L433.86 501.48 L432.88 501.74 L431.89 502.01 L430.9 502.27 L429.91 502.54 L428.92 502.8 L427.93 503.07 L426.94 503.33 L425.96 503.6 L424.97 503.86 L423.98 504.13 L422.99 504.39 L422 504.66 L421.01 504.93 L420.02 505.2 L419.04 505.47 L418.05 505.73 L417.06 506 L416.07 506.27 L415.08 506.54 L414.09 506.81 L413.11 507.08 L412.12 507.35 L411.13 507.63 L410.14 507.9 L409.15 508.17 L408.16 508.45 L407.17 508.72 L406.19 509 L405.2 509.27 L404.21 509.55 L403.22 509.83Z" fill="url(#hgrad)" stroke="none" stroke-width="1"/>
<path d="M403.22 511.67 L404.21 508.32 L405.2 505.63 L406.19 503.3 L407.17 501.23 L408.16 499.35 L409.15 497.61 L410.14 495.99 L411.13 494.47 L412.12 493.04 L413.11 491.68 L414.09 490.39 L415.08 489.16 L416.07 487.99 L417.06 486.86 L418.05 485.78 L419.04 484.74 L420.02 483.74 L421.01 482.77 L422 481.84 L422.99 480.93 L423.98 480.06 L424.97 479.21 L425.96 478.39 L426.94 477.6 L427.93 476.83 L428.92 476.08 L429.91 475.35 L430.9 474.64 L431.89 473.95 L432.88 473.28 L433.86 472.63 L434.85 471.99 L435.84 471.37 L436.83 470.77 L437.82 470.18 L438.81 469.61 L439.79 469.04 L440.78 468.5 L441.77 467.96 L442.76 467.44 L443.75 466.93 L444.74 466.44 L445.73 465.95 L446.71 465.47 L447.7 465.01 L448.69 464.55 L449.68 464.11 L450.67 463.68 L451.66 463.25 L452.65 462.84 L453.63 462.43 L454.62 462.03 L455.61 461.64 L456.6 461.26 L457.59 460.88 L458.58 460.52 L459.56 460.16 L460.55 459.81 L461.54 459.47 L462.53 459.13 L463.52 458.8 L464.51 458.48 L465.5 458.16 L466.48 457.85 L467.47 457.54 L468.46 457.24 L469.45 456.95 L470.44 456.67 L471.43 456.38 L472.42 456.11 L473.4 455.84 L474.39 455.57 L475.38 455.31 L476.37 455.06 L477.36 454.81 L478.35 454.56 L479.33 454.32 L480.32 454.09 L481.31 453.85 L482.3 453.63 L482.3 488.84 L481.31 489.1 L480.32 489.35 L479.33 489.6 L478.35 489.86 L477.36 490.11 L476.37 490.37 L475.38 490.62 L474.39 490.88 L473.4 491.13 L472.42 491.39 L471.43 491.64 L470.44 491.9 L469.45 492.15 L468.46 492.41 L467.47 492.67 L466.48 492.92 L465.5 493.18 L464.51 493.43 L463.52 493.69 L462.53 493.95 L461.54 494.2 L460.55 494.46 L459.56 494.72 L458.58 494.98 L457.59 495.23 L456.6 495.49 L455.61 495.75 L454.62 496.01 L453.63 496.27 L452.65 496.52 L451.66 496.78 L450.67 497.04 L449.68 497.3 L448.69 497.56 L447.7 497.82 L446.71 498.08 L445.73 498.34 L444.74 498.6 L443.75 498.86 L442.76 499.12 L441.77 499.38 L440.78 499.64 L439.79 499.91 L438.81 500.17 L437.82 500.43 L436.83 500.69 L435.84 500.95 L434.85 501.22 L433.86 501.48 L432.88 501.74 L431.89 502.01 L430.9 502.27 L429.91 502.54 L428.92 502.8 L427.93 503.07 L426.94 503.33 L425.96 503.6 L424.97 503.86 L423.98 504.13 L422.99 504.39 L422 504.66 L421.01 504.93 L420.02 505.2 L419.04 505.47 L418.05 505.73 L417.06 506 L416.07 506.27 L415.08 506.54 L414.09 506.81 L413.11 507.08 L412.12 507.35 L411.13 507.63 L410.14 507.9 L409.15 508.17 L408.16 508.45 L407.17 508.72 L406.19 509 L405.2 509.27 L404.21 509.55 L403.22 509.83Z" fill="url(#hatch)" stroke="none" stroke-width="1"/>
<path d="M386.3 476.62 L387.5 474.22 L388.7 472.12 L389.9 470.29 L391.1 468.7 L392.3 467.31 L393.5 466.09 L394.7 465.02 L395.9 464.09 L397.1 463.27 L398.3 462.54 L399.5 461.91 L400.7 461.34 L401.9 460.85 L403.1 460.4 L404.3 460.01 L405.5 459.66 L406.7 459.34 L407.9 459.05 L409.1 458.8 L410.3 458.56 L411.5 458.35 L412.7 458.15 L413.9 457.97 L415.1 457.81 L416.3 457.65 L417.5 457.5 L418.7 457.37 L419.9 457.24 L421.1 457.12 L422.3 457 L423.5 456.89 L424.7 456.78 L425.9 456.68 L427.1 456.57 L428.3 456.48 L429.5 456.38 L430.7 456.29 L431.9 456.2 L433.1 456.11 L434.3 456.02 L435.5 455.93 L436.7 455.84 L437.9 455.76 L439.1 455.67 L440.3 455.59 L441.5 455.5 L442.7 455.42 L443.9 455.34 L445.1 455.25 L446.3 455.17 L447.5 455.09 L448.7 455.01 L449.9 454.93 L451.1 454.85 L452.3 454.77 L453.5 454.68 L454.7 454.6 L455.9 454.52 L457.1 454.44 L458.3 454.36 L459.5 454.28 L460.7 454.2 L461.9 454.12 L463.1 454.04 L464.3 453.96 L465.5 453.88 L466.7 453.8 L467.9 453.72 L469.1 453.64 L470.3 453.56 L471.5 453.48 L472.7 453.4 L473.9 453.32 L475.1 453.24 L476.3 453.16 L477.5 453.08 L478.7 453 L479.9 452.92 L481.1 452.84 L482.3 452.76" fill="none" stroke="#3a3a3a" stroke-width="0.9"/>
<path d="M402.09 519.3 L402.76 513.67 L403.43 510.88 L404.1 508.66 L404.77 506.75 L405.43 505.04 L406.1 503.49 L406.77 502.05 L407.44 500.71 L408.11 499.45 L408.78 498.25 L409.44 497.12 L410.11 496.03 L410.78 494.99 L411.45 494 L412.12 493.04 L412.79 492.11 L413.45 491.22 L414.12 490.36 L414.79 489.52 L415.46 488.71 L416.13 487.92 L416.8 487.16 L417.47 486.41 L418.13 485.69 L418.8 484.98 L419.47 484.29 L420.14 483.62 L420.81 482.97 L421.48 482.33 L422.14 481.7 L422.81 481.09 L423.48 480.5 L424.15 479.91 L424.82 479.34 L425.49 478.78 L426.15 478.23 L426.82 477.7 L427.49 477.17 L428.16 476.65 L428.83 476.15 L429.5 475.65 L430.16 475.16 L430.83 474.69 L431.5 474.22 L432.17 473.76 L432.84 473.31 L433.51 472.86 L434.18 472.43 L434.84 472 L435.51 471.58 L436.18 471.16 L436.85 470.76 L437.52 470.36 L438.19 469.96 L438.85 469.58 L439.52 469.2 L440.19 468.82 L440.86 468.46 L441.53 468.09 L442.2 467.74 L442.86 467.39 L443.53 467.04 L444.2 466.7 L444.87 466.37 L445.54 466.04 L446.21 465.72 L446.87 465.4 L447.54 465.08 L448.21 464.77 L448.88 464.47 L449.55 464.17 L450.22 463.87 L450.89 463.58 L451.55 463.29 L452.22 463.01 L452.89 462.73 L453.56 462.46 L454.23 462.19 L454.9 461.92 L455.56 461.66 L456.23 461.4 L456.9 461.14 L457.57 460.89 L458.24 460.64 L458.91 460.4 L459.57 460.16 L460.24 459.92 L460.91 459.68 L461.58 459.45 L462.25 459.22 L462.92 459 L463.58 458.78 L464.25 458.56 L464.92 458.34 L465.59 458.13 L466.26 457.92 L466.93 457.71 L467.6 457.51 L468.26 457.3 L468.93 457.1 L469.6 456.91 L470.27 456.71 L470.94 456.52 L471.61 456.33 L472.27 456.15 L472.94 455.96 L473.61 455.78 L474.28 455.6 L474.95 455.43 L475.62 455.25 L476.28 455.08 L476.95 454.91 L477.62 454.74 L478.29 454.58 L478.96 454.41 L479.63 454.25 L480.29 454.09 L480.96 453.93 L481.63 453.78 L482.3 453.63" fill="none" stroke="#3a3a3a" stroke-width="0.9"/>
<line x1="482.3" y1="452.76" x2="482.3" y2="489.81" stroke="#3a3a3a" stroke-width="0.9"/>
<path d="M386.3 517.75 L387.5 517.33 L388.7 516.94 L389.9 516.56 L391.1 516.18 L392.3 515.81 L393.5 515.45 L394.7 515.08 L395.9 514.72 L397.1 514.36 L398.3 514.01 L399.5 513.65 L400.7 513.3 L401.9 512.95 L403.1 512.6 L404.3 512.25 L405.5 511.9 L406.7 511.56 L407.9 511.21 L409.1 510.87 L410.3 510.52 L411.5 510.18 L412.7 509.84 L413.9 509.5 L415.1 509.16 L416.3 508.82 L417.5 508.48 L418.7 508.14 L419.9 507.8 L421.1 507.46 L422.3 507.13 L423.5 506.79 L424.7 506.46 L425.9 506.12 L427.1 505.79 L428.3 505.45 L429.5 505.12 L430.7 504.79 L431.9 504.45 L433.1 504.12 L434.3 503.79 L435.5 503.46 L436.7 503.13 L437.9 502.8 L439.1 502.47 L440.3 502.14 L441.5 501.81 L442.7 501.48 L443.9 501.15 L445.1 500.82 L446.3 500.49 L447.5 500.17 L448.7 499.84 L449.9 499.51 L451.1 499.18 L452.3 498.86 L453.5 498.53 L454.7 498.21 L455.9 497.88 L457.1 497.56 L458.3 497.23 L459.5 496.91 L460.7 496.58 L461.9 496.26 L463.1 495.93 L464.3 495.61 L465.5 495.29 L466.7 494.96 L467.9 494.64 L469.1 494.32 L470.3 493.99 L471.5 493.67 L472.7 493.35 L473.9 493.03 L475.1 492.71 L476.3 492.39 L477.5 492.06 L478.7 491.74 L479.9 491.42 L481.1 491.1 L482.3 490.78" fill="none" stroke="#5cc030" stroke-width="1" stroke-dasharray="3.2,1.2,0.9,1.2"/>
<path d="M389.18 519.11 L390.34 518.75 L391.51 518.38 L392.67 518.03 L393.84 517.67 L395 517.32 L396.16 516.97 L397.33 516.62 L398.49 516.28 L399.66 515.94 L400.82 515.59 L401.98 515.25 L403.15 514.91 L404.31 514.57 L405.48 514.24 L406.64 513.9 L407.8 513.57 L408.97 513.23 L410.13 512.9 L411.3 512.57 L412.46 512.23 L413.62 511.9 L414.79 511.57 L415.95 511.24 L417.12 510.91 L418.28 510.59 L419.44 510.26 L420.61 509.93 L421.77 509.6 L422.94 509.28 L424.1 508.95 L425.26 508.63 L426.43 508.3 L427.59 507.98 L428.76 507.65 L429.92 507.33 L431.08 507.01 L432.25 506.69 L433.41 506.36 L434.58 506.04 L435.74 505.72 L436.9 505.4 L438.07 505.08 L439.23 504.76 L440.4 504.44 L441.56 504.12 L442.72 503.8 L443.89 503.48 L445.05 503.16 L446.22 502.84 L447.38 502.53 L448.54 502.21 L449.71 501.89 L450.87 501.57 L452.04 501.26 L453.2 500.94 L454.36 500.63 L455.53 500.31 L456.69 499.99 L457.86 499.68 L459.02 499.36 L460.18 499.05 L461.35 498.73 L462.51 498.42 L463.68 498.11 L464.84 497.79 L466 497.48 L467.17 497.16 L468.33 496.85 L469.5 496.54 L470.66 496.23 L471.82 495.91 L472.99 495.6 L474.15 495.29 L475.32 494.98 L476.48 494.67 L477.64 494.35 L478.81 494.04 L479.97 493.73 L481.14 493.42 L482.3 493.11" fill="none" stroke="#5cc030" stroke-width="1" stroke-dasharray="3.2,1.2,0.9,1.2"/>
<line x1="425.7" y1="502" x2="425.7" y2="479.7" stroke="#111" stroke-width="0.8"/>
<path d="M425.7 479.7 L427 482.9 L424.4 482.9Z" fill="#111" stroke="none" stroke-width="1"/>
<line x1="427.2" y1="473.3" x2="469.7" y2="454.9" stroke="#111" stroke-width="0.6"/>
<path d="M469.7 454.9 L467.28 457.36 L466.25 454.98Z" fill="#111" stroke="none" stroke-width="1"/>
<line x1="487.4" y1="454.1" x2="487.4" y2="488.6" stroke="#111" stroke-width="0.6"/>
<path d="M487.4 488.6 L486.1 485.4 L488.7 485.4Z" fill="#111" stroke="none" stroke-width="1"/>
<line x1="482.6" y1="493.4" x2="432" y2="506.7" stroke="#111" stroke-width="0.6"/>
<path d="M432 506.7 L434.76 504.63 L435.43 507.14Z" fill="#111" stroke="none" stroke-width="1"/>
<rect x="386.3" y="422.4" width="120.7" height="96.9" fill="none" stroke="#333" stroke-width="1"/>
<line x1="383.5" y1="519.3" x2="386.3" y2="519.3" stroke="#333" stroke-width="0.9"/>
<line x1="383.5" y1="499.9" x2="386.3" y2="499.9" stroke="#333" stroke-width="0.9"/>
<line x1="383.5" y1="480.5" x2="386.3" y2="480.5" stroke="#333" stroke-width="0.9"/>
<line x1="383.5" y1="461.1" x2="386.3" y2="461.1" stroke="#333" stroke-width="0.9"/>
<line x1="383.5" y1="441.7" x2="386.3" y2="441.7" stroke="#333" stroke-width="0.9"/>
<line x1="383.5" y1="422.3" x2="386.3" y2="422.3" stroke="#333" stroke-width="0.9"/>
<line x1="384.7" y1="509.6" x2="386.3" y2="509.6" stroke="#333" stroke-width="0.9"/>
<line x1="384.7" y1="490.2" x2="386.3" y2="490.2" stroke="#333" stroke-width="0.9"/>
<line x1="384.7" y1="470.8" x2="386.3" y2="470.8" stroke="#333" stroke-width="0.9"/>
<line x1="384.7" y1="451.4" x2="386.3" y2="451.4" stroke="#333" stroke-width="0.9"/>
<line x1="384.7" y1="432" x2="386.3" y2="432" stroke="#333" stroke-width="0.9"/>
<text x="380" y="522.07" font-size="7.7" text-anchor="end" fill="#222">0</text>
<text x="380" y="502.67" font-size="7.7" text-anchor="end" fill="#222">10</text>
<text x="380" y="483.27" font-size="7.7" text-anchor="end" fill="#222">20</text>
<text x="380" y="463.87" font-size="7.7" text-anchor="end" fill="#222">30</text>
<text x="380" y="444.47" font-size="7.7" text-anchor="end" fill="#222">40</text>
<text x="380" y="425.07" font-size="7.7" text-anchor="end" fill="#222">50</text>
<line x1="386.3" y1="519.3" x2="386.3" y2="522.1" stroke="#333" stroke-width="0.9"/>
<line x1="434.3" y1="519.3" x2="434.3" y2="522.1" stroke="#333" stroke-width="0.9"/>
<line x1="482.3" y1="519.3" x2="482.3" y2="522.1" stroke="#333" stroke-width="0.9"/>
<line x1="410.3" y1="519.3" x2="410.3" y2="520.9" stroke="#333" stroke-width="0.9"/>
<line x1="458.3" y1="519.3" x2="458.3" y2="520.9" stroke="#333" stroke-width="0.9"/>
<line x1="506.3" y1="519.3" x2="506.3" y2="520.9" stroke="#333" stroke-width="0.9"/>
<text x="386.3" y="530.61" font-size="7.8" text-anchor="middle" fill="#222">0</text>
<text x="434.3" y="530.61" font-size="7.8" text-anchor="middle" fill="#222">20</text>
<text x="482.3" y="530.61" font-size="7.8" text-anchor="middle" fill="#222">40</text>
<text x="444.6" y="543.84" font-size="7.9" text-anchor="middle" fill="#222">E (kV/cm)</text>
<text x="362" y="475.09" font-size="8.3" text-anchor="middle" fill="#222" transform="rotate(-90 362 472.1)">p (μC/cm<tspan baseline-shift="super" font-size="5">2</tspan>)</text>
<text x="388" y="432.9" font-size="7.5" text-anchor="start" fill="#222">Fresh</text>
<text x="420.3" y="477.48" font-size="6.6" text-anchor="middle" fill="#222">1</text>
<text x="486.6" y="454.08" font-size="6.6" text-anchor="middle" fill="#222">2</text>
<text x="485.8" y="496.28" font-size="6.6" text-anchor="middle" fill="#222">3</text>
<text x="429.4" y="511.28" font-size="6.6" text-anchor="middle" fill="#222">4</text>
<text x="481.8" y="502.18" font-size="6.6" text-anchor="middle" fill="#222">EH</text>
<text x="423.1" y="517.88" font-size="6.6" text-anchor="middle" fill="#222">EL</text>
<text x="444.1" y="484.99" font-size="5.8" text-anchor="middle" fill="#222" transform="rotate(-30 444.1 482.9)">0.474 J/cm<tspan baseline-shift="super" font-size="4">3</tspan></text>
<line x1="476.2" y1="506.7" x2="488.2" y2="506.7" stroke="#3a3a3a" stroke-width="0.9"/>
<text x="489.8" y="508.93" font-size="6.2" text-anchor="start" fill="#222">303 K</text>
<line x1="476.2" y1="512.6" x2="488.2" y2="512.6" stroke="#5cc030" stroke-width="0.9" stroke-dasharray="3,1,1,1"/>
<text x="489.8" y="514.83" font-size="6.2" text-anchor="start" fill="#222">423 K</text>
<text x="528.5" y="423" font-size="15" text-anchor="start" fill="#111" font-weight="bold">i</text>
<path d="M570.5 441.56 L571.23 441.59 L572.1 441.61 L573.11 441.63 L574.23 441.65 L575.45 441.68 L576.76 441.71 L578.15 441.74 L579.58 441.77 L581.06 441.82 L582.56 441.87 L584.08 441.93 L585.58 442 L587.07 442.08 L588.52 442.17 L589.92 442.28 L591.26 442.4 L592.56 442.58 L593.86 442.83 L595.15 443.14 L596.45 443.5 L597.75 443.9 L599.04 444.3 L600.34 444.71 L601.64 445.1 L602.94 445.45 L604.24 445.77 L605.53 446.01 L606.83 446.18 L608.13 446.26 L609.42 446.22 L610.72 446.06 L612.02 445.76 L613.32 445.28 L614.62 444.62 L615.91 443.81 L617.21 442.86 L618.51 441.81 L619.8 440.67 L621.1 439.48 L622.4 438.26 L623.7 437.03 L625 435.82 L626.29 434.65 L627.59 433.55 L628.89 432.54 L630.18 431.65 L631.48 430.9 L632.78 430.32 L634.08 429.89 L635.38 429.57 L636.67 429.34 L637.97 429.19 L639.27 429.12 L640.56 429.12 L641.86 429.16 L643.16 429.25 L644.46 429.37 L645.75 429.51 L647.05 429.66 L648.35 429.8 L649.65 429.93 L650.95 430.04 L652.24 430.12 L653.54 430.15 L654.88 430.16 L656.28 430.17 L657.73 430.19 L659.22 430.21 L660.72 430.23 L662.24 430.26 L663.74 430.28 L665.22 430.31 L666.65 430.34 L668.04 430.36 L669.35 430.39 L670.57 430.42 L671.69 430.44 L672.7 430.46 L673.57 430.48 L674.3 430.49" fill="none" stroke="#333" stroke-width="0.9"/>
<circle cx="570.5" cy="441.56" r="2" fill="#f02020" stroke="none" stroke-width="0"/>
<circle cx="591.26" cy="442.4" r="2" fill="#9a30f0" stroke="none" stroke-width="0"/>
<circle cx="612.02" cy="445.76" r="2" fill="#9a30f0" stroke="none" stroke-width="0"/>
<circle cx="632.78" cy="430.32" r="2" fill="#9a30f0" stroke="none" stroke-width="0"/>
<circle cx="653.54" cy="430.15" r="2" fill="#9a30f0" stroke="none" stroke-width="0"/>
<circle cx="674.3" cy="430.49" r="2" fill="#9a30f0" stroke="none" stroke-width="0"/>
<rect x="559.5" y="420.4" width="124.8" height="100.7" fill="none" stroke="#333" stroke-width="1"/>
<line x1="556.7" y1="521.1" x2="559.5" y2="521.1" stroke="#333" stroke-width="0.9"/>
<line x1="556.7" y1="504.32" x2="559.5" y2="504.32" stroke="#333" stroke-width="0.9"/>
<line x1="556.7" y1="487.54" x2="559.5" y2="487.54" stroke="#333" stroke-width="0.9"/>
<line x1="556.7" y1="470.76" x2="559.5" y2="470.76" stroke="#333" stroke-width="0.9"/>
<line x1="556.7" y1="453.98" x2="559.5" y2="453.98" stroke="#333" stroke-width="0.9"/>
<line x1="556.7" y1="437.2" x2="559.5" y2="437.2" stroke="#333" stroke-width="0.9"/>
<line x1="556.7" y1="420.42" x2="559.5" y2="420.42" stroke="#333" stroke-width="0.9"/>
<line x1="557.9" y1="512.71" x2="559.5" y2="512.71" stroke="#333" stroke-width="0.9"/>
<line x1="557.9" y1="495.93" x2="559.5" y2="495.93" stroke="#333" stroke-width="0.9"/>
<line x1="557.9" y1="479.15" x2="559.5" y2="479.15" stroke="#333" stroke-width="0.9"/>
<line x1="557.9" y1="462.37" x2="559.5" y2="462.37" stroke="#333" stroke-width="0.9"/>
<line x1="557.9" y1="445.59" x2="559.5" y2="445.59" stroke="#333" stroke-width="0.9"/>
<line x1="557.9" y1="428.81" x2="559.5" y2="428.81" stroke="#333" stroke-width="0.9"/>
<text x="555.6" y="523.91" font-size="7.8" text-anchor="end" fill="#222">0.0</text>
<text x="555.6" y="507.13" font-size="7.8" text-anchor="end" fill="#222">0.1</text>
<text x="555.6" y="490.35" font-size="7.8" text-anchor="end" fill="#222">0.2</text>
<text x="555.6" y="473.57" font-size="7.8" text-anchor="end" fill="#222">0.3</text>
<text x="555.6" y="456.79" font-size="7.8" text-anchor="end" fill="#222">0.4</text>
<text x="555.6" y="440.01" font-size="7.8" text-anchor="end" fill="#222">0.5</text>
<text x="555.6" y="423.23" font-size="7.8" text-anchor="end" fill="#222">0.6</text>
<line x1="570.5" y1="521.1" x2="570.5" y2="523.9" stroke="#333" stroke-width="0.9"/>
<line x1="591.26" y1="521.1" x2="591.26" y2="523.9" stroke="#333" stroke-width="0.9"/>
<line x1="612.02" y1="521.1" x2="612.02" y2="523.9" stroke="#333" stroke-width="0.9"/>
<line x1="632.78" y1="521.1" x2="632.78" y2="523.9" stroke="#333" stroke-width="0.9"/>
<line x1="653.54" y1="521.1" x2="653.54" y2="523.9" stroke="#333" stroke-width="0.9"/>
<line x1="674.3" y1="521.1" x2="674.3" y2="523.9" stroke="#333" stroke-width="0.9"/>
<line x1="580.88" y1="521.1" x2="580.88" y2="522.7" stroke="#333" stroke-width="0.9"/>
<line x1="601.64" y1="521.1" x2="601.64" y2="522.7" stroke="#333" stroke-width="0.9"/>
<line x1="622.4" y1="521.1" x2="622.4" y2="522.7" stroke="#333" stroke-width="0.9"/>
<line x1="643.16" y1="521.1" x2="643.16" y2="522.7" stroke="#333" stroke-width="0.9"/>
<line x1="663.92" y1="521.1" x2="663.92" y2="522.7" stroke="#333" stroke-width="0.9"/>
<text x="570.5" y="531.81" font-size="7.8" text-anchor="middle" fill="#222">0</text>
<text x="591.26" y="531.81" font-size="7.8" text-anchor="middle" fill="#222">10</text>
<text x="612.02" y="531.81" font-size="7.8" text-anchor="middle" fill="#222">20</text>
<text x="632.78" y="531.81" font-size="7.8" text-anchor="middle" fill="#222">30</text>
<text x="653.54" y="531.81" font-size="7.8" text-anchor="middle" fill="#222">40</text>
<text x="674.3" y="531.81" font-size="7.8" text-anchor="middle" fill="#222">50</text>
<text x="628.4" y="544.68" font-size="8" text-anchor="middle" fill="#222">Annealing time (h)</text>
<text x="533.2" y="473.64" font-size="7.9" text-anchor="middle" fill="#222" transform="rotate(-90 533.2 470.8)">The energy density (J/cm<tspan baseline-shift="super" font-size="5">3</tspan>)</text>
<line x1="562.7" y1="426.7" x2="573.9" y2="426.7" stroke="#333" stroke-width="0.9"/>
<circle cx="568.1" cy="426.7" r="2" fill="#9a30f0" stroke="none" stroke-width="0"/>
<text x="576.8" y="429.13" font-size="6.2" text-anchor="start" fill="#222">Fitting</text>
<text x="573.5" y="449.27" font-size="6.3" text-anchor="middle" fill="#222">0.474</text>
<text x="593" y="438.97" font-size="6.3" text-anchor="middle" fill="#222">0.469</text>
<text x="619.7" y="454.57" font-size="6.3" text-anchor="middle" fill="#222">0.449</text>
<text x="636.1" y="440.77" font-size="6.3" text-anchor="middle" fill="#222">0.541</text>
<text x="651.4" y="428.67" font-size="6.3" text-anchor="middle" fill="#222">0.542</text>
<text x="673.3" y="428.37" font-size="6.3" text-anchor="middle" fill="#222">0.54</text>
</svg></body></html>
